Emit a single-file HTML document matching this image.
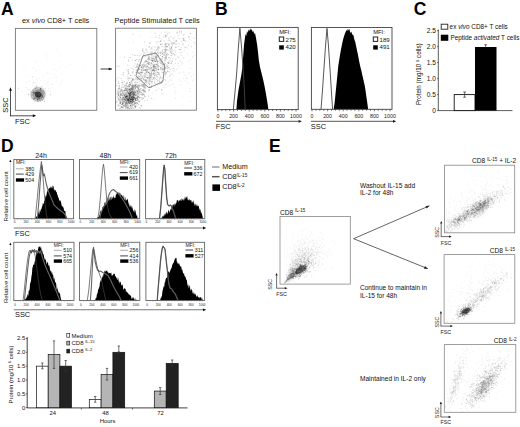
<!DOCTYPE html><html><head><meta charset="utf-8"><title>Figure</title><style>html,body{margin:0;padding:0;background:#fff;width:520px;height:427px;overflow:hidden}text{font-family:"Liberation Sans", sans-serif}</style></head><body><svg width="520" height="427" viewBox="0 0 520 427" style="display:block;font-family:'Liberation Sans', sans-serif"><defs><filter id="bl5" x="-50%" y="-50%" width="200%" height="200%"><feGaussianBlur stdDeviation="0.5"/></filter><filter id="bl8" x="-50%" y="-50%" width="200%" height="200%"><feGaussianBlur stdDeviation="0.8"/></filter><filter id="bl10" x="-50%" y="-50%" width="200%" height="200%"><feGaussianBlur stdDeviation="1.0"/></filter><filter id="bl12" x="-50%" y="-50%" width="200%" height="200%"><feGaussianBlur stdDeviation="1.2"/></filter><filter id="bl15" x="-50%" y="-50%" width="200%" height="200%"><feGaussianBlur stdDeviation="1.5"/></filter><filter id="bl20" x="-50%" y="-50%" width="200%" height="200%"><feGaussianBlur stdDeviation="2.0"/></filter><filter id="bl30" x="-50%" y="-50%" width="200%" height="200%"><feGaussianBlur stdDeviation="3.0"/></filter></defs><rect width="520" height="427" fill="#fff"/><text x="1.0" y="14.8" font-size="17.5" text-anchor="start" font-weight="bold" fill="#000" >A</text>
<text x="215.0" y="14.6" font-size="17.5" text-anchor="start" font-weight="bold" fill="#000" >B</text>
<text x="413.7" y="14.7" font-size="17.5" text-anchor="start" font-weight="bold" fill="#000" >C</text>
<text x="1.1" y="152.0" font-size="17.5" text-anchor="start" font-weight="bold" fill="#000" >D</text>
<text x="269.0" y="152.0" font-size="17.5" text-anchor="start" font-weight="bold" fill="#000" >E</text>
<text x="22" y="23.4" font-size="7.4" text-anchor="start" font-weight="normal" fill="#111" >ex <tspan font-style="italic">vivo</tspan> CD8+ T cells</text>
<text x="114.5" y="23.4" font-size="7.4" text-anchor="start" font-weight="normal" fill="#111" >Peptide Stimulated T cells</text>
<g stroke="#000" stroke-opacity="0.08" stroke-width="0.7" stroke-linecap="square" fill="none"><path d="M26.6 76.0h.01M59.9 61.8h.01M25.1 69.0h.01M52.2 87.6h.01M26.8 49.3h.01M55.6 77.6h.01M68.0 85.7h.01M43.5 65.6h.01"/><path d="M83.6 65.4h.01M33.2 51.8h.01M46.4 72.3h.01M39.8 69.0h.01M49.1 81.1h.01M61.5 73.4h.01M18.2 81.2h.01M23.7 67.3h.01"/><path d="M22.9 70.0h.01M33.3 73.4h.01M94.5 69.2h.01M57.6 48.8h.01M40.7 80.6h.01M43.6 75.9h.01M46.5 53.9h.01M53.5 57.0h.01"/><path d="M73.1 61.9h.01M55.3 70.0h.01M59.3 60.4h.01M60.0 68.0h.01M63.9 80.0h.01M47.1 57.5h.01M56.5 77.5h.01M69.6 64.0h.01"/><path d="M53.3 78.1h.01M49.2 73.3h.01M47.7 60.4h.01M29.8 63.7h.01M53.9 94.2h.01M59.7 86.9h.01M56.7 81.2h.01M47.8 82.3h.01"/><path d="M71.6 64.8h.01M34.6 101.4h.01M48.7 85.5h.01M58.1 51.8h.01M81.5 98.4h.01M47.7 82.0h.01M46.9 55.9h.01M43.3 76.0h.01"/><path d="M61.7 81.3h.01M45.9 91.7h.01M33.6 82.7h.01M61.7 65.3h.01M18.1 55.5h.01M48.6 78.4h.01M68.2 53.9h.01M45.0 80.4h.01"/><path d="M42.6 32.1h.01M57.1 107.0h.01M60.1 55.3h.01M38.8 73.5h.01M82.3 79.9h.01M46.7 94.9h.01M43.8 99.8h.01M34.7 62.4h.01"/><path d="M55.8 92.8h.01M54.8 74.8h.01M17.7 58.6h.01M35.8 61.5h.01M53.8 64.6h.01M56.8 71.3h.01M40.0 71.9h.01M51.4 83.7h.01"/><path d="M37.8 66.3h.01M24.5 95.7h.01M66.8 67.1h.01M37.8 50.2h.01M47.5 73.3h.01M77.7 73.9h.01M33.3 30.9h.01M66.1 73.0h.01"/></g>
<g stroke="#000" stroke-opacity="0.15" stroke-width="0.7" stroke-linecap="square" fill="none"><path d="M25.9 87.6h.01M34.1 82.6h.01M42.8 86.5h.01M34.1 98.6h.01M32.5 77.2h.01M26.4 82.3h.01M40.6 92.0h.01M44.0 99.0h.01"/><path d="M48.1 90.7h.01M45.5 90.8h.01M32.3 92.1h.01M36.7 84.9h.01M50.4 91.8h.01M32.9 85.8h.01M52.9 84.6h.01M41.6 90.8h.01"/><path d="M40.0 90.5h.01M33.0 83.1h.01M35.3 83.9h.01M42.1 97.3h.01M30.1 90.3h.01M29.4 81.5h.01M34.7 87.2h.01M33.3 67.9h.01"/><path d="M46.2 84.5h.01M31.9 91.2h.01M32.2 76.3h.01M39.9 89.4h.01M30.5 92.3h.01M39.0 78.3h.01M48.8 88.3h.01M28.3 89.6h.01"/><path d="M37.3 93.3h.01M26.8 93.8h.01M43.1 91.3h.01M40.7 95.7h.01M41.5 87.3h.01M30.4 94.3h.01M43.4 88.5h.01M37.5 91.5h.01"/><path d="M18.5 88.6h.01M18.6 88.1h.01M43.9 99.8h.01M33.0 89.4h.01M35.9 70.6h.01M41.5 86.2h.01M36.8 79.7h.01M36.0 86.9h.01"/><path d="M45.4 88.4h.01M61.1 83.4h.01"/></g>
<ellipse cx="38.1" cy="94.4" rx="6.6" ry="6.4" transform="rotate(0 38.1 94.4)" fill="#000" fill-opacity="0.32" filter="url(#bl10)"/>
<ellipse cx="38.1" cy="94.6" rx="3.2" ry="3.0" transform="rotate(0 38.1 94.6)" fill="#000" fill-opacity="0.6" filter="url(#bl9)"/>
<ellipse cx="38.1" cy="94.4" rx="7.0" ry="6.8" fill="none" stroke="#000" stroke-width="0.5" stroke-opacity="0.35"/>
<ellipse cx="38.1" cy="94.6" rx="4.8" ry="4.5" fill="none" stroke="#000" stroke-width="0.5" stroke-opacity="0.35"/>
<g stroke="#000" stroke-opacity="0.4" stroke-width="0.7" stroke-linecap="square" fill="none"><path d="M37.8 99.7h.01M35.3 88.4h.01M39.1 96.8h.01M39.6 96.4h.01M37.9 92.7h.01M35.7 94.0h.01M37.0 98.0h.01M40.7 90.5h.01"/><path d="M41.0 94.7h.01M42.5 100.0h.01M40.5 88.8h.01M40.8 89.5h.01M44.2 92.6h.01M37.8 101.1h.01M32.1 95.0h.01M34.6 93.1h.01"/><path d="M35.6 97.2h.01M37.4 96.1h.01M40.8 89.0h.01M43.6 94.0h.01M32.5 92.6h.01M41.7 98.3h.01M36.0 95.2h.01M39.4 98.5h.01"/><path d="M38.0 98.3h.01M35.3 92.4h.01M40.9 97.4h.01M38.3 97.0h.01M39.3 97.6h.01M42.8 96.7h.01M41.5 93.5h.01M36.5 86.7h.01"/><path d="M40.0 95.0h.01M40.5 88.4h.01M36.7 93.0h.01M31.9 98.0h.01M43.0 90.5h.01M40.2 100.9h.01M34.1 98.3h.01M44.4 101.4h.01"/><path d="M33.5 91.2h.01M39.3 99.1h.01M33.9 92.3h.01M34.4 98.7h.01M36.5 96.9h.01M40.9 98.9h.01M40.1 96.1h.01M42.8 96.6h.01"/><path d="M33.9 93.0h.01M41.9 95.4h.01M37.2 95.8h.01M50.7 94.7h.01M40.3 96.5h.01M37.5 99.1h.01M41.7 96.3h.01M33.5 99.3h.01"/><path d="M41.3 94.6h.01M28.6 94.7h.01M34.0 94.1h.01M36.6 92.0h.01M42.3 95.3h.01M43.1 91.5h.01M37.8 99.7h.01M39.7 92.4h.01"/><path d="M35.2 92.8h.01M38.2 97.3h.01M39.1 97.5h.01M41.6 95.3h.01M43.3 97.5h.01M37.8 94.3h.01"/></g>
<g stroke="#000" stroke-opacity="0.28" stroke-width="0.7" stroke-linecap="square" fill="none"><path d="M172.1 61.0h.01M131.4 81.0h.01M167.8 71.6h.01M150.1 55.1h.01M137.2 85.1h.01M166.8 50.1h.01M143.1 75.7h.01M148.8 62.1h.01"/><path d="M152.5 70.9h.01M178.2 35.9h.01M160.5 44.4h.01M166.3 52.9h.01M141.5 80.3h.01M164.0 49.5h.01M177.9 56.8h.01M188.6 45.2h.01"/><path d="M131.4 97.2h.01M145.3 88.4h.01M153.5 69.2h.01M154.9 56.9h.01M147.8 63.7h.01M139.8 59.7h.01M120.4 95.0h.01M169.3 57.4h.01"/><path d="M151.5 60.3h.01M139.5 89.5h.01M135.7 91.1h.01M166.9 49.3h.01M158.0 61.4h.01M119.1 66.2h.01M130.1 94.3h.01M119.3 99.9h.01"/><path d="M163.0 72.4h.01M124.2 94.5h.01M158.1 67.7h.01M139.3 107.6h.01M143.9 92.0h.01M150.0 75.8h.01M183.8 39.2h.01M146.6 61.4h.01"/><path d="M130.5 75.2h.01M170.3 41.3h.01M159.8 47.9h.01M144.2 84.0h.01M154.6 58.9h.01M183.3 40.1h.01M145.6 60.3h.01M151.1 64.9h.01"/><path d="M154.7 75.4h.01M142.7 82.7h.01M166.7 55.0h.01M142.0 64.4h.01M165.9 84.5h.01M120.8 101.7h.01M162.5 56.6h.01M156.3 42.3h.01"/><path d="M161.2 44.3h.01M133.5 97.7h.01M154.1 55.8h.01M135.3 85.3h.01M149.4 68.9h.01M118.2 77.9h.01M174.2 43.5h.01M119.1 86.7h.01"/><path d="M136.0 81.7h.01M155.7 59.2h.01M158.0 63.7h.01M169.7 48.7h.01M182.2 52.1h.01M142.1 73.7h.01M133.8 86.7h.01M138.0 84.7h.01"/><path d="M159.1 66.3h.01M137.6 99.4h.01M144.3 75.5h.01M128.6 69.5h.01M143.2 54.9h.01M169.6 47.2h.01M181.4 41.1h.01M171.5 62.9h.01"/><path d="M159.6 79.0h.01M149.8 73.8h.01M142.2 86.7h.01M158.5 53.3h.01M128.0 96.0h.01M156.5 60.3h.01M128.8 86.0h.01M128.6 61.1h.01"/><path d="M149.5 89.7h.01M126.8 95.1h.01M183.9 38.8h.01M165.1 50.0h.01M157.0 64.9h.01M183.7 40.3h.01M144.1 62.7h.01M146.6 72.2h.01"/><path d="M132.9 79.1h.01M132.2 89.9h.01M142.6 84.3h.01M169.7 50.7h.01M160.7 77.9h.01M151.8 48.4h.01M139.1 85.7h.01M140.0 92.2h.01"/><path d="M170.8 52.8h.01M123.1 103.4h.01M166.0 36.1h.01M121.8 87.9h.01M121.9 80.8h.01M132.4 72.1h.01M165.7 80.8h.01M137.9 96.5h.01"/><path d="M155.2 33.3h.01M151.9 67.6h.01M149.5 81.2h.01M144.8 80.9h.01M142.5 77.2h.01M151.4 98.5h.01M141.8 65.1h.01M193.9 38.2h.01"/><path d="M142.4 70.5h.01M145.4 91.9h.01M139.8 72.9h.01M162.8 51.1h.01M161.7 81.6h.01M173.0 58.9h.01M165.6 68.3h.01M153.4 78.7h.01"/><path d="M165.4 46.1h.01M131.4 99.4h.01M151.9 75.8h.01M143.1 85.3h.01M182.0 62.9h.01M183.3 35.2h.01M170.7 36.9h.01M171.2 46.5h.01"/><path d="M175.1 44.3h.01M141.5 70.9h.01M172.0 44.3h.01M165.5 57.8h.01M146.2 79.8h.01M146.6 50.2h.01M144.2 76.2h.01M162.8 67.1h.01"/><path d="M136.8 82.8h.01M148.9 47.2h.01M173.6 43.6h.01M189.2 36.7h.01M138.4 61.5h.01M154.4 69.0h.01M151.2 51.9h.01M130.7 82.8h.01"/><path d="M149.2 59.5h.01M154.1 77.4h.01M151.5 86.0h.01M153.5 62.5h.01M172.1 50.1h.01M141.3 72.7h.01M151.5 72.8h.01M171.4 47.9h.01"/><path d="M130.8 75.5h.01M157.0 66.8h.01M166.1 43.8h.01M133.2 101.2h.01M139.2 66.9h.01M184.3 40.6h.01M153.0 70.2h.01M143.7 90.7h.01"/><path d="M139.7 76.5h.01M137.6 69.9h.01M178.6 57.8h.01M149.8 43.1h.01M140.7 72.8h.01M142.6 50.7h.01M165.7 48.7h.01M149.8 68.4h.01"/><path d="M143.0 93.1h.01M120.5 91.5h.01M140.7 74.9h.01M166.0 43.8h.01M155.7 57.1h.01M171.9 43.5h.01M144.0 55.7h.01M158.0 52.0h.01"/><path d="M168.6 54.4h.01M166.7 64.8h.01M150.8 57.5h.01M153.9 67.6h.01M133.8 97.5h.01M176.8 41.0h.01M155.0 70.1h.01M165.4 44.4h.01"/><path d="M161.6 46.3h.01M162.6 61.8h.01M132.3 100.0h.01M143.0 56.5h.01M138.2 75.9h.01M137.5 90.6h.01M136.8 86.5h.01M129.7 90.9h.01"/><path d="M184.1 34.6h.01M117.3 96.9h.01M137.1 64.1h.01M166.5 49.6h.01M149.2 71.7h.01M130.9 77.9h.01M158.5 68.8h.01M135.0 63.9h.01"/><path d="M144.5 77.1h.01M136.7 104.0h.01M130.8 93.1h.01M137.2 97.3h.01M122.5 91.1h.01M160.9 40.3h.01M144.2 84.1h.01M144.7 53.2h.01"/><path d="M158.5 56.0h.01M159.7 35.5h.01M165.7 56.4h.01M140.8 75.5h.01M152.1 58.3h.01M139.0 73.0h.01M156.7 70.8h.01M122.8 102.9h.01"/><path d="M165.0 71.8h.01M145.4 92.1h.01M145.5 81.8h.01M155.5 66.9h.01M137.7 71.8h.01M184.9 47.3h.01M146.9 71.5h.01M137.7 67.2h.01"/><path d="M133.6 95.2h.01M164.8 49.3h.01M126.9 83.5h.01M143.9 86.5h.01M141.5 61.3h.01M132.1 95.7h.01M166.4 73.4h.01M175.8 41.4h.01"/><path d="M139.5 85.2h.01M126.0 89.7h.01M171.1 52.7h.01M175.8 59.5h.01M148.0 82.9h.01M153.2 70.3h.01M157.3 68.3h.01M117.3 91.2h.01"/><path d="M154.7 70.8h.01M140.9 79.5h.01M132.0 104.2h.01M167.5 68.7h.01M142.3 77.9h.01M159.9 76.0h.01M162.1 60.6h.01M123.5 99.3h.01"/><path d="M165.0 52.7h.01M147.3 100.0h.01M140.0 100.2h.01M171.5 47.6h.01M166.0 36.4h.01M138.4 79.9h.01M155.1 61.4h.01M176.7 32.9h.01"/><path d="M138.1 68.3h.01M163.2 64.5h.01M128.8 78.8h.01M133.7 104.9h.01M165.2 55.4h.01M166.0 57.1h.01M147.2 52.0h.01M163.3 63.2h.01"/><path d="M175.6 51.9h.01M139.9 85.5h.01M135.0 107.0h.01M130.9 102.1h.01M131.1 81.9h.01M132.4 86.7h.01M163.7 68.3h.01M150.3 80.8h.01"/><path d="M178.2 63.3h.01M141.7 84.0h.01M162.7 56.6h.01M156.3 53.6h.01M139.7 74.1h.01M133.2 78.4h.01M140.2 65.5h.01M143.8 85.0h.01"/><path d="M135.9 72.7h.01M144.9 100.8h.01M152.5 60.9h.01M127.1 76.9h.01M156.0 55.9h.01M165.3 51.4h.01M164.3 64.4h.01M136.6 78.6h.01"/><path d="M158.3 83.6h.01M121.3 90.2h.01M145.9 48.9h.01M167.7 33.4h.01M169.1 45.0h.01M136.3 71.2h.01M172.9 38.8h.01M130.9 101.2h.01"/><path d="M150.8 75.8h.01M145.2 80.4h.01M157.7 60.9h.01M125.0 106.4h.01M176.3 44.2h.01M170.8 55.2h.01M151.5 82.1h.01M139.2 69.6h.01"/><path d="M134.9 101.6h.01M166.0 59.0h.01M128.4 71.9h.01M162.6 53.6h.01M135.4 79.3h.01M128.0 71.9h.01M165.0 61.1h.01M162.5 50.2h.01"/><path d="M119.6 88.4h.01M155.8 85.9h.01M165.9 51.2h.01M163.2 64.8h.01M152.3 70.1h.01M149.7 62.6h.01M126.6 90.6h.01M159.3 37.9h.01"/><path d="M139.7 76.8h.01M147.6 66.9h.01M160.9 51.9h.01M154.4 74.1h.01M132.7 105.0h.01M159.0 41.8h.01M143.5 68.0h.01M148.6 81.8h.01"/><path d="M157.2 61.3h.01M126.7 102.9h.01M148.3 63.7h.01M178.8 46.1h.01M168.0 62.9h.01M180.8 49.5h.01M147.6 69.5h.01M149.9 77.0h.01"/><path d="M127.0 83.5h.01M166.7 46.9h.01M132.5 85.3h.01M132.2 83.0h.01M127.2 105.5h.01M160.7 67.4h.01M146.4 64.9h.01M190.6 33.5h.01"/><path d="M165.2 63.2h.01M149.5 80.2h.01M143.6 90.9h.01M171.3 55.4h.01M157.5 62.7h.01M158.4 69.3h.01M146.7 83.2h.01M155.0 47.4h.01"/><path d="M122.6 106.7h.01M138.9 72.7h.01M121.5 89.6h.01M119.4 101.9h.01M157.4 80.8h.01M169.8 43.9h.01M154.7 61.0h.01M142.7 68.5h.01"/><path d="M143.2 64.2h.01M136.2 84.4h.01M161.5 82.7h.01M127.7 82.1h.01M164.4 60.1h.01M160.5 55.6h.01M121.7 99.2h.01M127.5 95.9h.01"/><path d="M177.5 32.7h.01M158.4 74.0h.01M131.8 101.5h.01M139.4 73.6h.01M137.0 72.4h.01M164.8 53.3h.01M144.8 82.3h.01M168.3 40.2h.01"/><path d="M156.6 50.0h.01M167.5 53.6h.01M143.1 86.9h.01M145.7 77.2h.01M116.6 80.1h.01M155.3 72.2h.01M144.4 97.1h.01M165.5 74.0h.01"/><path d="M168.6 63.5h.01M135.7 67.6h.01M155.3 51.2h.01M158.0 46.5h.01M164.2 64.6h.01M151.7 54.6h.01M161.1 58.8h.01M166.9 65.9h.01"/><path d="M132.8 79.3h.01M143.9 93.8h.01M163.4 69.3h.01M156.5 68.1h.01M148.3 77.6h.01M138.0 97.5h.01M117.1 102.3h.01M143.2 78.9h.01"/><path d="M141.0 67.5h.01M132.7 54.7h.01M136.3 84.9h.01M143.2 90.3h.01M149.4 76.3h.01M135.4 99.1h.01M151.7 47.4h.01M165.4 35.7h.01"/><path d="M133.9 99.5h.01M182.8 38.5h.01M141.5 70.1h.01M137.3 87.0h.01M148.5 58.4h.01M143.0 48.8h.01M146.6 61.3h.01M140.3 108.5h.01"/><path d="M156.9 56.9h.01M139.0 101.0h.01M145.2 64.9h.01M164.5 58.3h.01M118.4 83.0h.01M166.0 45.9h.01M144.7 42.0h.01M148.2 80.6h.01"/><path d="M159.6 81.7h.01M170.2 58.6h.01M158.6 55.9h.01M129.5 82.8h.01M168.6 44.3h.01M146.5 66.8h.01M149.6 57.9h.01M132.4 91.7h.01"/><path d="M157.2 71.9h.01M156.7 69.7h.01M147.2 69.1h.01M125.9 88.5h.01M139.6 65.4h.01M160.3 52.9h.01M173.8 51.1h.01M163.1 93.6h.01"/><path d="M168.5 38.2h.01M152.3 58.7h.01M133.7 90.8h.01M145.8 85.7h.01M126.4 101.0h.01M172.5 45.6h.01M194.0 42.4h.01M125.4 93.9h.01"/><path d="M148.6 90.7h.01M126.7 69.7h.01M135.5 82.3h.01M144.6 73.3h.01M143.9 66.0h.01M144.8 69.3h.01M139.1 78.4h.01M164.3 55.2h.01"/><path d="M154.7 53.7h.01M118.1 104.9h.01M162.6 53.5h.01M128.9 73.5h.01M148.5 60.0h.01M122.0 107.4h.01M157.4 76.4h.01M118.0 89.2h.01"/><path d="M160.7 76.8h.01M155.8 70.6h.01M126.6 100.8h.01M167.8 62.7h.01M137.4 86.5h.01M156.6 58.5h.01M151.5 72.0h.01M126.8 82.6h.01"/><path d="M171.0 74.4h.01M139.0 76.5h.01M148.5 96.2h.01M165.3 60.6h.01M151.0 81.3h.01M170.1 69.5h.01M175.2 63.3h.01M145.1 89.9h.01"/><path d="M156.1 55.3h.01M124.2 97.6h.01M131.3 86.1h.01M136.4 77.2h.01M152.0 69.0h.01M127.0 87.0h.01M149.5 63.3h.01M134.8 75.3h.01"/><path d="M130.8 91.3h.01M141.1 74.7h.01M158.9 47.8h.01M171.1 48.7h.01M140.1 86.5h.01M160.9 52.6h.01M163.5 54.9h.01M126.4 102.0h.01"/><path d="M166.6 54.9h.01M141.8 67.7h.01M171.5 62.9h.01M129.4 102.7h.01M119.7 108.7h.01M151.0 49.2h.01M126.9 98.8h.01M146.9 77.4h.01"/><path d="M165.6 35.3h.01M140.8 54.9h.01M167.8 54.9h.01M118.2 105.1h.01M138.8 97.7h.01M148.3 54.8h.01M176.3 41.0h.01M164.7 52.4h.01"/><path d="M179.4 49.6h.01M172.6 61.3h.01M162.5 58.9h.01M122.7 74.3h.01M175.4 47.5h.01M136.2 97.7h.01M153.4 67.1h.01M188.6 37.0h.01"/><path d="M126.8 99.0h.01M175.0 55.0h.01M156.8 56.7h.01M144.0 51.9h.01M171.9 42.9h.01M135.5 77.7h.01M147.3 61.9h.01M126.3 85.4h.01"/><path d="M179.6 32.9h.01M161.2 61.3h.01M144.3 87.3h.01M142.3 69.2h.01M129.7 89.0h.01M150.4 87.5h.01M185.6 47.9h.01M132.0 80.4h.01"/><path d="M176.4 47.3h.01M149.5 58.9h.01M137.2 69.4h.01M185.8 41.1h.01M149.4 84.8h.01M139.2 55.9h.01M155.1 53.8h.01M152.6 60.6h.01"/><path d="M130.3 89.1h.01M160.6 41.4h.01M122.9 82.1h.01M145.0 87.8h.01M166.5 57.7h.01M168.8 67.9h.01M186.9 47.1h.01M130.6 84.7h.01"/><path d="M168.6 57.5h.01M139.7 79.5h.01M165.3 49.8h.01M139.2 87.4h.01M144.0 84.8h.01M152.1 63.5h.01M141.2 94.0h.01M135.6 88.8h.01"/><path d="M144.1 77.6h.01M150.0 83.3h.01M145.0 62.0h.01M133.1 100.1h.01M154.5 81.2h.01M166.7 67.3h.01M123.3 97.4h.01M163.5 37.1h.01"/><path d="M162.2 54.6h.01M165.9 46.7h.01M142.6 89.7h.01M149.8 59.7h.01M161.6 62.2h.01M128.4 77.7h.01M151.6 68.6h.01M165.5 51.0h.01"/><path d="M170.6 49.2h.01M182.9 44.6h.01M125.0 96.7h.01M156.5 59.2h.01M167.8 71.4h.01M131.1 83.8h.01M142.3 93.8h.01M153.9 67.6h.01"/><path d="M151.9 58.9h.01M129.7 92.3h.01M167.3 46.9h.01M161.0 63.5h.01M169.3 32.9h.01M191.3 46.7h.01M138.3 99.5h.01M145.9 75.2h.01"/><path d="M129.1 108.3h.01M136.6 90.2h.01M145.8 82.5h.01M119.1 94.8h.01M162.8 66.2h.01M132.0 85.3h.01M174.4 54.8h.01M163.5 52.4h.01"/><path d="M153.9 77.1h.01M161.8 63.7h.01M157.9 54.1h.01M127.2 79.0h.01M154.1 65.1h.01M137.6 55.2h.01M136.5 72.2h.01M171.8 53.5h.01"/><path d="M165.5 58.9h.01M172.0 47.1h.01M137.2 87.5h.01M153.5 70.6h.01M159.5 59.9h.01M154.3 64.5h.01M139.0 68.9h.01M134.5 82.6h.01"/><path d="M179.7 31.4h.01M138.7 91.5h.01M156.9 57.9h.01M160.4 44.4h.01M127.2 90.6h.01M142.1 76.3h.01M156.2 75.0h.01M154.0 70.7h.01"/><path d="M139.2 69.5h.01M142.5 65.7h.01M160.3 54.0h.01M131.4 91.2h.01M149.0 64.4h.01M129.7 90.2h.01M137.7 77.9h.01M167.0 46.6h.01"/><path d="M171.4 51.9h.01M150.7 69.0h.01M139.2 59.9h.01M173.5 53.8h.01M157.1 66.3h.01M134.9 86.7h.01M131.8 78.1h.01M169.6 76.1h.01"/><path d="M181.5 33.1h.01M156.3 90.3h.01M130.5 84.2h.01M169.8 71.8h.01M164.3 40.8h.01M145.1 91.2h.01M142.5 99.3h.01M165.7 37.2h.01"/><path d="M160.2 69.3h.01M166.4 56.4h.01M162.6 64.2h.01M149.2 64.5h.01M146.9 64.0h.01M152.2 81.6h.01M157.6 61.6h.01M150.4 67.0h.01"/><path d="M156.1 57.4h.01M168.2 45.9h.01M117.1 94.2h.01M151.9 55.4h.01M123.3 107.8h.01M155.0 75.3h.01M164.8 32.3h.01M152.1 56.7h.01"/><path d="M148.1 77.5h.01M150.9 65.3h.01M152.9 69.2h.01M164.0 57.5h.01M157.0 82.1h.01M146.5 80.6h.01M123.6 75.0h.01M155.2 67.9h.01"/><path d="M160.1 60.6h.01M123.4 84.1h.01M145.6 76.5h.01M141.5 78.2h.01M156.3 64.5h.01M156.3 60.1h.01M161.4 68.9h.01M147.9 56.0h.01"/><path d="M165.0 67.5h.01M181.5 31.4h.01M153.3 65.3h.01M171.8 49.4h.01M152.2 83.5h.01M158.3 50.3h.01M147.2 65.7h.01M127.4 104.4h.01"/><path d="M140.0 83.7h.01M155.5 53.7h.01M159.9 52.2h.01M151.2 62.5h.01M132.7 80.9h.01M151.2 60.1h.01M175.0 49.8h.01M155.8 66.6h.01"/><path d="M157.8 85.0h.01M159.8 61.7h.01M158.8 66.8h.01M145.3 69.8h.01M160.4 62.2h.01M132.3 85.1h.01M152.3 60.8h.01M167.3 35.1h.01"/><path d="M139.7 95.2h.01M143.1 72.2h.01M164.0 47.2h.01M164.2 54.3h.01M179.8 38.5h.01M165.6 72.0h.01M117.4 66.2h.01M163.7 66.0h.01"/><path d="M147.6 58.9h.01M170.4 63.3h.01M148.4 58.1h.01M145.6 80.1h.01M129.5 108.8h.01M143.5 89.6h.01M142.7 49.9h.01M154.5 53.1h.01"/><path d="M142.3 81.3h.01M160.8 67.8h.01M170.3 51.5h.01M118.6 81.7h.01M162.4 68.7h.01M145.5 70.4h.01M124.2 92.9h.01M162.2 56.8h.01"/><path d="M148.4 64.2h.01M133.1 79.7h.01M151.9 52.4h.01M166.0 57.9h.01M161.6 53.2h.01M137.9 79.8h.01M137.2 65.3h.01M162.3 43.9h.01"/><path d="M181.1 47.8h.01M134.1 87.6h.01M132.1 97.4h.01M133.5 72.0h.01M157.7 48.2h.01M172.0 68.9h.01M143.8 69.8h.01M140.6 78.1h.01"/><path d="M160.7 41.1h.01M168.2 67.5h.01M158.4 46.8h.01M167.8 43.4h.01M176.0 40.3h.01M155.9 37.1h.01M135.8 55.4h.01M149.4 56.5h.01"/><path d="M161.2 59.6h.01M150.0 43.0h.01M146.1 60.3h.01M145.8 73.9h.01M164.9 63.4h.01M166.2 54.4h.01M139.4 81.8h.01M155.7 68.2h.01"/><path d="M127.8 103.4h.01M131.9 68.3h.01M148.4 56.9h.01M161.2 58.9h.01M153.1 78.2h.01M129.0 86.1h.01M151.3 76.2h.01M124.5 57.1h.01"/><path d="M143.7 70.6h.01M128.5 73.4h.01M124.0 96.8h.01M157.1 49.9h.01M143.3 70.2h.01M154.3 50.0h.01M167.3 66.6h.01M152.2 54.5h.01"/><path d="M149.1 90.4h.01M149.7 84.6h.01M145.7 80.3h.01M134.8 85.1h.01M157.2 69.5h.01M178.9 43.5h.01M151.7 77.0h.01M134.5 55.3h.01"/><path d="M165.9 44.1h.01M166.5 72.4h.01M153.8 70.4h.01M137.7 100.2h.01M133.1 80.2h.01M160.3 63.4h.01M129.2 85.8h.01M119.7 100.6h.01"/><path d="M164.5 44.8h.01M142.9 90.7h.01M154.1 73.4h.01M139.6 68.4h.01M168.0 50.2h.01M149.4 74.9h.01M174.9 42.7h.01M149.5 46.8h.01"/><path d="M137.2 79.9h.01M137.2 77.3h.01M157.7 72.6h.01M157.9 65.3h.01M157.0 61.1h.01M174.3 37.2h.01M146.4 67.9h.01M141.1 72.6h.01"/><path d="M130.7 92.5h.01M154.7 60.8h.01M173.3 42.9h.01M123.8 98.4h.01"/></g>
<g stroke="#000" stroke-opacity="0.38" stroke-width="0.7" stroke-linecap="square" fill="none"><path d="M132.8 93.1h.01M149.4 79.1h.01M133.9 97.0h.01M125.4 96.7h.01M131.5 91.9h.01M133.9 91.2h.01M116.8 101.7h.01M118.2 94.0h.01"/><path d="M129.3 95.9h.01M131.6 88.0h.01M132.5 99.9h.01M130.0 88.6h.01M135.4 85.6h.01M135.3 88.7h.01M123.5 94.3h.01M141.0 106.0h.01"/><path d="M134.8 105.8h.01M135.5 87.6h.01M142.4 95.3h.01M127.2 96.2h.01M137.8 91.5h.01M142.9 86.1h.01M125.4 102.8h.01M128.8 106.0h.01"/><path d="M132.5 91.0h.01M130.8 104.8h.01M134.7 103.2h.01M125.2 101.0h.01M123.9 95.7h.01M151.3 87.3h.01M131.6 103.0h.01M134.6 89.1h.01"/><path d="M130.5 99.4h.01M131.6 92.6h.01M125.9 100.3h.01M132.5 101.8h.01M132.5 96.9h.01M121.5 104.5h.01M126.9 96.8h.01M129.2 96.0h.01"/><path d="M128.1 108.6h.01M133.1 89.4h.01M129.9 89.5h.01M124.3 102.8h.01M138.0 87.3h.01M125.0 106.0h.01M125.3 97.0h.01M125.1 88.0h.01"/><path d="M136.8 90.7h.01M125.4 97.4h.01M140.0 97.3h.01M129.1 101.5h.01M145.2 85.3h.01M131.3 99.5h.01M134.9 98.3h.01M130.9 92.6h.01"/><path d="M132.6 98.5h.01M128.5 100.6h.01M132.6 106.1h.01M134.9 84.4h.01M136.2 92.2h.01M130.8 94.9h.01M137.2 98.6h.01M130.2 107.1h.01"/><path d="M125.4 93.8h.01M134.1 99.0h.01M132.4 98.0h.01M127.5 96.3h.01M132.1 87.3h.01M137.7 92.0h.01M129.2 97.1h.01M130.0 97.9h.01"/><path d="M130.7 96.1h.01M130.3 92.2h.01M128.1 99.0h.01M133.2 108.3h.01M130.7 95.8h.01M130.5 105.6h.01M141.4 97.8h.01M132.1 88.4h.01"/><path d="M131.6 108.5h.01M127.9 99.8h.01M133.0 99.1h.01M129.5 89.5h.01M120.9 93.6h.01M133.4 92.7h.01M127.2 92.6h.01M127.0 96.6h.01"/><path d="M132.9 96.6h.01M130.7 101.1h.01M138.7 96.2h.01M130.7 88.1h.01M122.2 104.5h.01M143.2 84.7h.01M120.8 94.4h.01M130.2 94.0h.01"/><path d="M134.6 94.3h.01M120.1 108.9h.01M132.5 89.9h.01M120.9 98.8h.01M135.3 86.4h.01M133.1 85.0h.01M125.7 96.7h.01M133.4 99.8h.01"/><path d="M144.0 87.9h.01M131.6 97.6h.01M132.0 99.0h.01M128.5 102.1h.01M137.6 97.3h.01M129.4 102.5h.01M129.2 91.9h.01M119.9 105.3h.01"/><path d="M134.2 90.6h.01M144.2 85.9h.01M127.6 100.0h.01M135.5 95.6h.01M132.2 99.4h.01M148.9 83.4h.01M130.1 93.8h.01M123.9 106.9h.01"/><path d="M129.3 98.5h.01M132.2 102.2h.01M133.2 88.0h.01M126.4 105.1h.01M139.4 90.3h.01M127.5 88.7h.01M131.3 101.5h.01M133.0 94.4h.01"/><path d="M137.6 96.4h.01M128.6 93.4h.01M125.8 104.9h.01M129.7 96.7h.01M133.5 88.0h.01M132.9 100.3h.01M118.0 93.6h.01M132.3 102.4h.01"/><path d="M127.5 98.9h.01M120.5 103.6h.01M138.8 104.4h.01M128.7 93.3h.01M123.1 103.5h.01M123.0 100.9h.01M136.7 100.5h.01M132.1 107.4h.01"/><path d="M126.7 98.7h.01M130.1 99.9h.01M129.6 95.6h.01M125.7 98.3h.01M129.2 94.2h.01M121.9 95.1h.01M133.5 98.0h.01M130.9 105.6h.01"/><path d="M131.5 97.0h.01M126.2 107.9h.01M145.2 96.5h.01M128.2 99.6h.01M136.9 94.3h.01M128.6 100.1h.01M138.1 93.1h.01M135.5 100.5h.01"/><path d="M126.4 106.1h.01M126.7 98.7h.01M142.3 98.2h.01M133.9 94.4h.01M142.0 90.2h.01M118.7 106.3h.01M125.4 97.6h.01M127.3 106.8h.01"/><path d="M139.5 101.7h.01M130.6 98.4h.01M132.3 104.1h.01M144.2 95.5h.01M133.5 88.9h.01M133.0 86.7h.01M127.9 99.1h.01M137.9 82.6h.01"/><path d="M128.0 102.6h.01M139.2 92.0h.01M130.4 90.5h.01M135.2 103.0h.01M129.3 93.5h.01M135.6 103.0h.01M141.0 88.6h.01M134.9 106.7h.01"/><path d="M129.1 100.2h.01M133.4 94.1h.01M137.6 103.0h.01M127.0 89.6h.01M134.5 104.2h.01M126.5 93.7h.01M137.7 93.2h.01M134.2 98.1h.01"/><path d="M130.7 99.0h.01M131.9 91.3h.01M132.8 86.0h.01M141.2 85.5h.01M128.2 90.1h.01M131.6 89.2h.01M133.9 93.8h.01M135.5 106.9h.01"/><path d="M130.2 93.7h.01M131.4 99.4h.01M135.5 99.1h.01M130.0 100.2h.01M126.5 96.5h.01M131.9 89.2h.01M127.2 107.3h.01M131.8 101.1h.01"/><path d="M136.1 95.3h.01M138.6 101.4h.01M131.9 106.0h.01M132.3 98.1h.01M133.5 101.6h.01M132.0 92.2h.01M134.0 97.7h.01M141.5 105.7h.01"/><path d="M132.7 91.9h.01M137.4 91.8h.01M128.1 97.9h.01M127.9 107.5h.01M138.2 88.0h.01M121.1 94.6h.01M126.4 102.8h.01M128.3 99.2h.01"/><path d="M127.4 100.2h.01M131.6 98.2h.01M133.0 96.5h.01M127.0 99.7h.01M124.3 101.1h.01M133.4 98.0h.01M121.9 100.2h.01M124.4 94.9h.01"/><path d="M129.7 97.2h.01M135.3 105.8h.01M130.9 99.5h.01M127.4 108.6h.01M134.0 95.4h.01M122.0 107.5h.01M130.4 101.3h.01M129.4 94.7h.01"/><path d="M134.8 103.1h.01M129.4 84.6h.01M132.3 100.9h.01M131.1 99.6h.01M137.1 103.7h.01M134.1 91.9h.01M140.6 91.1h.01M137.2 85.8h.01"/><path d="M128.3 107.1h.01M124.5 90.1h.01M128.6 93.2h.01M130.0 99.2h.01M130.7 108.1h.01M126.0 103.4h.01M129.6 94.6h.01M131.7 103.5h.01"/><path d="M124.4 104.9h.01M135.5 85.1h.01M122.7 102.8h.01M122.8 99.7h.01M130.0 103.2h.01M127.3 92.7h.01M133.1 86.1h.01M135.9 86.9h.01"/><path d="M125.4 99.7h.01M138.3 89.2h.01M124.3 90.8h.01M129.9 95.5h.01M126.4 95.6h.01M129.5 103.7h.01M134.5 94.0h.01M134.6 97.9h.01"/><path d="M129.4 98.0h.01M133.6 95.4h.01M118.6 88.7h.01M125.9 92.3h.01M141.8 94.6h.01M133.5 96.0h.01M121.5 106.7h.01M135.5 107.0h.01"/><path d="M121.9 90.2h.01M138.5 86.0h.01M137.6 98.4h.01M122.2 103.2h.01M137.2 100.2h.01M133.0 99.4h.01M125.7 107.7h.01M125.7 100.2h.01"/><path d="M135.6 99.0h.01M130.1 101.6h.01M132.6 100.3h.01M135.2 103.8h.01M122.4 98.3h.01M134.0 87.0h.01M137.3 95.4h.01M122.6 104.4h.01"/><path d="M128.7 98.5h.01M125.5 105.0h.01M127.6 91.5h.01M132.3 97.1h.01M123.4 105.3h.01M138.5 94.2h.01M123.2 99.6h.01M133.1 97.8h.01"/><path d="M135.3 92.4h.01M132.1 89.8h.01M138.7 86.0h.01M124.5 99.6h.01M120.0 103.4h.01M131.8 99.9h.01M132.5 87.4h.01M130.7 102.9h.01"/><path d="M138.9 93.6h.01M127.3 91.0h.01M122.1 93.9h.01M133.1 104.6h.01M136.8 87.1h.01M139.4 98.0h.01M120.5 97.4h.01M119.2 92.6h.01"/><path d="M133.6 92.5h.01M129.8 98.3h.01M132.9 93.8h.01M128.1 105.3h.01M129.6 100.4h.01M127.8 100.3h.01M124.3 105.4h.01M133.9 101.9h.01"/><path d="M123.4 97.8h.01M125.5 85.9h.01M133.1 92.9h.01M129.0 99.4h.01M125.5 94.9h.01M130.1 89.6h.01M130.3 95.3h.01M124.6 98.3h.01"/><path d="M130.3 93.8h.01M140.2 92.4h.01M132.8 102.5h.01M119.4 99.1h.01M128.6 85.0h.01M128.6 101.7h.01M120.7 107.1h.01M131.6 89.3h.01"/><path d="M133.4 85.6h.01M138.7 90.4h.01M130.1 95.1h.01M130.6 105.6h.01M125.3 102.9h.01M135.7 94.4h.01M130.9 90.7h.01M125.8 104.2h.01"/><path d="M134.3 101.2h.01M121.7 107.1h.01M130.3 92.8h.01M123.4 105.4h.01M132.2 88.6h.01M122.2 98.0h.01M118.5 95.7h.01M143.6 79.0h.01"/><path d="M140.8 94.4h.01M130.4 101.7h.01M144.4 91.5h.01M132.1 88.6h.01M128.0 100.2h.01M134.6 85.8h.01M138.7 97.0h.01M134.4 92.2h.01"/><path d="M130.9 102.5h.01M131.0 99.6h.01M126.4 97.4h.01M124.6 95.5h.01M129.2 86.7h.01M130.7 92.9h.01M126.1 88.1h.01M131.1 96.7h.01"/><path d="M141.5 92.5h.01M132.3 94.3h.01M135.5 99.8h.01M139.4 91.6h.01M130.1 84.8h.01M143.6 98.3h.01M129.2 93.8h.01M129.5 82.5h.01"/><path d="M131.6 86.0h.01M128.5 89.8h.01M138.1 88.7h.01M128.5 99.6h.01M143.8 94.5h.01M131.4 94.4h.01M138.7 88.9h.01M136.9 106.2h.01"/><path d="M125.7 106.1h.01M140.5 89.3h.01M136.7 98.3h.01M127.4 101.5h.01M135.8 100.1h.01M134.3 94.2h.01M143.1 94.3h.01M131.7 92.6h.01"/><path d="M129.4 78.6h.01M127.9 103.7h.01M124.3 95.7h.01M137.2 102.9h.01M135.9 98.9h.01M135.5 92.2h.01"/></g>
<g stroke="#000" stroke-opacity="0.25" stroke-width="0.7" stroke-linecap="square" fill="none"><path d="M125.9 90.4h.01M128.9 86.8h.01M135.9 100.2h.01M123.8 101.8h.01M118.1 99.9h.01M129.4 103.6h.01M127.0 86.7h.01M125.9 84.2h.01"/><path d="M125.4 90.5h.01M120.4 102.0h.01M134.7 108.1h.01M122.5 92.3h.01M119.5 90.9h.01M125.1 99.4h.01M122.1 95.7h.01M118.5 91.3h.01"/><path d="M131.1 106.7h.01M127.0 96.2h.01M125.4 89.8h.01M118.3 99.7h.01M118.6 98.7h.01M118.3 94.7h.01M132.6 100.2h.01M123.7 97.4h.01"/><path d="M120.2 88.6h.01M120.5 95.8h.01M120.6 90.0h.01M126.4 96.7h.01M130.3 101.7h.01M130.2 85.9h.01M124.5 99.4h.01M128.6 92.6h.01"/><path d="M127.2 104.0h.01M119.4 88.2h.01M119.9 97.0h.01M118.5 95.3h.01M121.7 87.1h.01M130.4 103.6h.01M122.3 85.0h.01M121.2 91.3h.01"/><path d="M132.2 96.3h.01M123.9 98.9h.01M126.5 85.1h.01M129.9 97.0h.01M129.2 108.7h.01M122.5 92.9h.01M123.1 90.6h.01M121.3 99.7h.01"/><path d="M129.6 100.9h.01M122.8 89.7h.01M126.4 91.9h.01M133.8 103.0h.01M122.6 99.3h.01M125.2 89.0h.01M122.5 83.0h.01M122.5 103.6h.01"/><path d="M121.8 109.1h.01M123.2 101.3h.01M126.5 90.0h.01M118.4 98.7h.01M128.1 95.1h.01M123.4 72.5h.01M120.9 102.6h.01M129.4 98.2h.01"/><path d="M120.2 102.3h.01M122.7 101.6h.01M131.4 87.8h.01M122.8 97.3h.01M126.1 96.2h.01M128.5 102.7h.01M121.4 94.4h.01M129.4 86.7h.01"/><path d="M121.3 78.5h.01M134.8 92.4h.01M133.4 99.4h.01M126.4 94.6h.01M130.1 84.0h.01M131.7 97.5h.01M124.5 81.7h.01M136.4 102.5h.01"/><path d="M125.9 96.5h.01M129.4 92.0h.01M126.2 102.2h.01M121.2 90.6h.01M130.4 88.9h.01M120.4 100.0h.01M118.0 92.5h.01M126.7 103.4h.01"/><path d="M128.4 100.1h.01M124.6 100.0h.01M124.6 90.9h.01M125.9 103.6h.01M133.3 101.5h.01M121.3 96.0h.01M126.3 102.5h.01M129.6 97.2h.01"/><path d="M121.5 82.6h.01M121.2 102.1h.01M128.7 80.4h.01M122.4 95.9h.01M128.3 92.2h.01M122.5 95.4h.01M126.4 95.5h.01M120.3 93.3h.01"/><path d="M124.8 90.7h.01M123.4 93.6h.01M123.8 101.9h.01M134.0 98.2h.01M120.2 95.3h.01M120.3 92.7h.01M128.0 89.5h.01M127.2 97.3h.01"/><path d="M132.0 99.5h.01M128.6 100.5h.01M122.1 93.0h.01M119.6 86.3h.01M134.7 87.2h.01M130.1 93.7h.01M118.7 95.7h.01M128.5 102.9h.01"/><path d="M129.9 94.9h.01M126.4 90.0h.01M120.3 100.9h.01M128.7 93.6h.01M124.2 90.5h.01M124.3 86.0h.01M124.9 94.9h.01M120.2 97.4h.01"/><path d="M127.6 88.8h.01M128.6 88.1h.01M126.1 96.4h.01M131.4 81.9h.01M127.3 86.6h.01M124.9 85.3h.01M128.1 96.4h.01M122.8 107.2h.01"/><path d="M122.3 92.0h.01M117.9 97.6h.01M123.3 87.6h.01M133.0 93.9h.01M134.2 97.6h.01M125.1 108.7h.01M122.9 87.1h.01M119.9 103.6h.01"/><path d="M131.5 93.4h.01M119.3 85.5h.01M127.7 86.1h.01M123.7 92.9h.01M132.5 79.6h.01M118.2 90.1h.01M129.9 90.9h.01M128.9 88.7h.01"/><path d="M130.0 90.0h.01M117.9 92.3h.01M119.3 96.5h.01M124.6 101.5h.01M120.2 91.0h.01M120.5 97.9h.01M122.1 100.8h.01M123.1 102.8h.01"/><path d="M135.9 98.1h.01M125.6 88.2h.01M124.8 92.8h.01M119.0 87.8h.01M134.3 79.9h.01M116.7 85.5h.01M123.3 91.7h.01M125.9 97.5h.01"/><path d="M124.2 86.0h.01M120.5 102.5h.01M129.3 91.6h.01M126.4 88.4h.01M119.1 83.5h.01M125.0 99.4h.01M127.6 93.9h.01M125.9 106.3h.01"/></g>
<g stroke="#000" stroke-opacity="0.3" stroke-width="0.7" stroke-linecap="square" fill="none"><path d="M168.4 62.1h.01M153.6 68.9h.01M144.0 66.4h.01M146.8 70.2h.01M154.1 79.1h.01M152.6 79.7h.01M154.3 71.5h.01M148.9 62.9h.01"/><path d="M138.0 70.0h.01M149.3 73.1h.01M153.2 60.6h.01M144.9 61.7h.01M158.5 69.6h.01M151.5 63.3h.01M140.4 65.9h.01M149.7 74.1h.01"/><path d="M138.4 73.1h.01M143.7 66.3h.01M147.8 67.0h.01M154.1 77.4h.01M153.1 66.2h.01M153.7 73.4h.01M157.2 72.6h.01M137.7 64.4h.01"/><path d="M147.3 77.7h.01M149.4 77.6h.01M152.7 61.1h.01M150.8 74.8h.01M153.6 58.7h.01M153.8 65.8h.01M133.8 65.9h.01M134.9 60.4h.01"/><path d="M161.8 89.9h.01M158.8 73.9h.01M165.4 73.1h.01M142.7 51.1h.01M157.6 52.6h.01M127.9 65.3h.01M151.0 63.6h.01M158.7 69.8h.01"/><path d="M152.1 74.0h.01M145.8 72.1h.01M168.9 63.1h.01M151.8 74.7h.01M146.2 70.1h.01M136.9 67.0h.01M150.8 79.4h.01M158.0 65.9h.01"/><path d="M141.7 85.1h.01M157.6 55.4h.01M147.9 63.4h.01M145.7 56.9h.01M147.2 66.5h.01M148.7 78.9h.01M152.4 60.9h.01M136.8 66.4h.01"/><path d="M159.8 78.1h.01M145.9 79.9h.01M154.1 65.8h.01M154.1 70.0h.01M141.8 67.2h.01M152.0 81.2h.01M142.4 72.6h.01M150.9 70.3h.01"/><path d="M140.9 80.8h.01M161.1 83.5h.01M154.5 82.6h.01M155.1 78.7h.01M148.1 72.5h.01M148.2 62.3h.01M147.3 61.8h.01M141.8 67.6h.01"/><path d="M145.9 87.4h.01M165.0 79.5h.01M157.1 63.9h.01M153.0 59.2h.01M145.8 66.9h.01M147.9 77.7h.01M144.5 90.2h.01M146.7 77.7h.01"/><path d="M138.1 78.1h.01M140.9 72.4h.01M150.8 77.5h.01M155.7 74.0h.01M149.6 86.6h.01M147.1 70.9h.01M147.0 71.9h.01M143.1 67.5h.01"/><path d="M154.9 66.2h.01M154.6 66.1h.01M162.3 69.8h.01M165.0 74.8h.01M149.8 78.5h.01M160.2 83.1h.01M162.0 78.0h.01M141.4 78.4h.01"/><path d="M150.1 74.1h.01M161.0 65.1h.01M161.6 90.1h.01M155.3 68.3h.01M161.9 72.3h.01M159.3 81.0h.01M138.7 73.4h.01M138.6 65.2h.01"/><path d="M155.7 61.2h.01M145.0 67.1h.01M153.3 73.6h.01M154.4 66.7h.01M144.7 74.1h.01M143.8 64.3h.01M156.4 64.4h.01M143.5 79.9h.01"/><path d="M150.4 52.8h.01M144.7 86.4h.01M173.6 68.4h.01M156.4 76.7h.01M153.3 56.1h.01M158.8 73.0h.01M148.8 57.7h.01M145.6 69.8h.01"/><path d="M148.7 72.5h.01M147.6 78.7h.01M155.7 61.4h.01M145.8 74.1h.01M146.2 81.9h.01M146.4 72.7h.01M155.6 61.6h.01M160.7 69.0h.01"/><path d="M145.0 65.1h.01M137.1 59.7h.01M162.7 69.6h.01M148.4 72.2h.01M155.3 64.3h.01M149.0 72.8h.01M158.8 72.7h.01M164.0 68.9h.01"/><path d="M148.0 59.5h.01M150.3 75.8h.01M148.7 69.3h.01M142.8 65.9h.01M147.1 69.9h.01M159.3 74.7h.01M158.0 80.1h.01M146.9 81.4h.01"/><path d="M151.0 60.1h.01M145.8 70.0h.01M138.3 89.1h.01M150.2 77.5h.01M141.0 71.4h.01M152.7 64.5h.01M152.7 70.6h.01M153.6 60.9h.01"/><path d="M154.8 68.3h.01M143.8 53.0h.01M149.1 67.6h.01M169.6 60.9h.01M162.5 80.6h.01M153.9 72.6h.01M154.6 58.8h.01M161.9 68.0h.01"/><path d="M144.6 70.5h.01M128.6 59.9h.01M141.1 58.0h.01M155.2 83.3h.01M150.6 68.0h.01M153.1 66.5h.01M151.6 73.8h.01M148.7 67.2h.01"/><path d="M151.1 71.0h.01M155.9 58.4h.01M141.6 66.6h.01M154.4 60.1h.01M160.1 82.0h.01M144.6 79.4h.01M133.7 69.6h.01M137.5 79.0h.01"/><path d="M157.2 74.5h.01M145.7 61.3h.01M153.7 66.3h.01M155.8 57.6h.01M153.7 74.4h.01M132.1 60.1h.01M144.6 65.5h.01M136.4 70.4h.01"/><path d="M141.2 69.6h.01M135.5 60.7h.01M155.8 56.5h.01M149.9 81.8h.01M156.6 59.6h.01M168.0 65.7h.01M157.6 77.8h.01M147.6 75.2h.01"/><path d="M128.1 70.9h.01M151.4 67.4h.01M151.1 78.7h.01M157.7 65.1h.01M156.4 79.5h.01M151.0 73.2h.01M130.5 57.5h.01M153.1 58.1h.01"/></g>
<g stroke="#000" stroke-opacity="0.15" stroke-width="0.7" stroke-linecap="square" fill="none"><path d="M161.0 32.2h.01M180.3 84.4h.01M188.2 82.4h.01M164.6 35.1h.01M132.6 73.5h.01M179.9 61.4h.01M119.9 57.7h.01M168.5 44.7h.01"/><path d="M153.4 99.3h.01M176.5 54.2h.01M162.1 74.1h.01M151.5 58.0h.01M152.9 93.1h.01M178.2 65.1h.01M151.8 37.3h.01M180.0 52.3h.01"/><path d="M189.4 72.4h.01M176.3 69.3h.01M140.4 65.1h.01M180.5 60.6h.01M172.3 42.4h.01M171.3 84.6h.01M168.0 84.9h.01M158.2 49.2h.01"/><path d="M175.6 46.4h.01M133.0 67.9h.01M170.0 72.2h.01M150.9 54.3h.01M180.6 53.4h.01M165.2 66.0h.01M153.5 66.2h.01M137.8 70.6h.01"/><path d="M161.2 33.6h.01M144.6 56.9h.01M153.1 70.6h.01M173.1 75.4h.01M165.1 75.9h.01M167.6 59.7h.01M168.1 82.0h.01M162.6 46.4h.01"/><path d="M140.8 36.3h.01M167.8 77.6h.01M171.1 48.0h.01M166.4 46.2h.01M192.1 64.2h.01M183.8 45.8h.01M181.2 55.5h.01M158.3 65.3h.01"/><path d="M140.9 53.3h.01M172.5 54.8h.01M174.5 70.0h.01M161.9 61.8h.01M177.0 44.1h.01M165.6 50.2h.01M157.5 47.5h.01M157.7 48.8h.01"/><path d="M179.1 49.3h.01M174.2 70.6h.01M161.9 93.7h.01M173.1 84.1h.01M170.1 75.7h.01M169.6 40.1h.01M183.9 58.1h.01M169.1 67.7h.01"/><path d="M182.6 105.8h.01M149.1 54.9h.01M151.8 84.7h.01M165.7 53.4h.01M181.8 64.8h.01M183.3 38.3h.01M172.2 73.6h.01M159.4 84.6h.01"/><path d="M169.8 50.2h.01M163.0 72.4h.01M193.9 55.2h.01M183.8 57.6h.01M152.6 46.6h.01M187.3 55.7h.01M175.0 91.3h.01M192.8 56.4h.01"/><path d="M165.8 67.9h.01M127.2 74.5h.01M156.4 75.6h.01M156.4 57.4h.01M188.8 74.2h.01M158.8 88.5h.01M183.0 43.6h.01M161.6 70.2h.01"/><path d="M161.2 38.7h.01M172.5 70.6h.01M188.1 49.3h.01M146.0 45.9h.01M183.4 78.1h.01M131.8 72.3h.01M190.0 88.6h.01M187.2 79.1h.01"/><path d="M176.2 58.0h.01M168.1 62.2h.01M147.0 60.9h.01M192.3 57.4h.01M180.1 49.5h.01M193.5 74.9h.01M191.4 76.6h.01M181.7 81.7h.01"/><path d="M173.7 71.5h.01M122.5 82.6h.01M169.3 80.2h.01M164.7 65.9h.01M153.4 58.6h.01M137.8 66.9h.01M162.6 51.6h.01M155.1 46.1h.01"/><path d="M170.2 60.7h.01M164.2 85.5h.01M147.8 55.3h.01M142.7 58.0h.01M166.6 31.8h.01M159.1 57.5h.01M142.8 85.3h.01M173.9 40.0h.01"/><path d="M178.2 68.8h.01M158.3 48.1h.01M190.2 101.3h.01M175.4 98.3h.01M134.0 34.4h.01M172.1 51.4h.01M175.6 93.6h.01M148.3 69.6h.01"/><path d="M169.5 40.3h.01M165.4 42.9h.01M164.9 87.3h.01M192.5 80.3h.01M173.2 53.5h.01M179.6 80.2h.01M167.3 70.4h.01M169.6 68.2h.01"/><path d="M189.5 39.5h.01M172.4 53.2h.01M166.0 68.5h.01M152.2 49.8h.01M173.9 64.7h.01M132.5 34.2h.01M190.6 60.0h.01M129.1 57.5h.01"/><path d="M163.4 87.5h.01M152.7 52.0h.01M161.0 68.0h.01M180.2 72.7h.01M186.5 78.3h.01M166.6 59.0h.01M169.3 85.8h.01M133.6 42.0h.01"/><path d="M190.0 91.3h.01M146.3 51.9h.01M183.6 72.3h.01M136.6 59.6h.01M157.8 41.3h.01M165.4 47.5h.01M141.7 100.0h.01M157.7 44.0h.01"/><path d="M136.0 86.3h.01M151.3 54.2h.01M164.8 64.9h.01M135.1 88.9h.01M185.2 75.0h.01M185.7 80.9h.01M145.5 50.0h.01M165.9 55.6h.01"/><path d="M195.1 43.7h.01M181.3 54.8h.01M174.5 87.4h.01M192.9 52.3h.01M170.9 79.3h.01M171.3 80.3h.01M183.0 96.0h.01M184.6 50.7h.01"/><path d="M165.3 69.5h.01M187.0 53.2h.01M178.4 73.2h.01M188.6 61.6h.01M155.0 64.1h.01M179.3 66.2h.01M190.5 68.4h.01M141.7 72.5h.01"/><path d="M190.4 33.8h.01M186.3 77.8h.01"/></g>
<ellipse cx="131" cy="97" rx="7" ry="4.5" transform="rotate(-50 131 97)" fill="#000" fill-opacity="0.22" filter="url(#bl15)"/>
<polygon points="142.90,55.90 155.80,52.90 164.80,65.80 162.80,81.80 148.90,87.80 135.90,75.80" fill="none" stroke="#444" stroke-width="0.6" />
<rect x="15.4" y="28.4" width="81.39999999999999" height="81.9" fill="none" stroke="#777" stroke-width="0.9"/>
<rect x="115.6" y="28.2" width="80.80000000000001" height="82.0" fill="none" stroke="#777" stroke-width="0.9"/>
<line x1="100.5" y1="69" x2="112" y2="69" stroke="#111" stroke-width="0.8" />
<polygon points="112.00,69.00 108.70,70.32 108.70,67.68" fill="#111" stroke="none" stroke-width="0.8" />
<line x1="10.5" y1="116.2" x2="10.5" y2="90" stroke="#222" stroke-width="0.8" />
<polygon points="10.50,87.30 9.06,90.66 11.94,90.66" fill="#111" stroke="none" stroke-width="0.8" />
<line x1="10.1" y1="115.8" x2="33" y2="115.8" stroke="#222" stroke-width="0.8" />
<polygon points="36.20,115.80 32.84,114.36 32.84,117.24" fill="#111" stroke="none" stroke-width="0.8" />
<text transform="translate(8.3,105) rotate(-90)" font-size="7.5" text-anchor="middle" fill="#111">SSC</text>
<text x="15" y="123.5" font-size="7.5" text-anchor="start" font-weight="normal" fill="#111" >FSC</text>
<polygon points="236.40,109.50 237.00,101.00 238.50,90.00 240.00,82.00 241.50,74.00 242.50,66.00 243.20,56.00 244.00,45.00 244.80,39.00 245.50,34.00 246.30,36.00 247.00,31.00 247.80,33.00 248.60,29.50 249.40,31.00 250.20,28.30 251.00,30.50 251.80,29.00 252.60,32.00 253.40,31.00 254.20,34.00 255.00,33.00 256.00,38.00 257.00,44.00 258.00,52.00 258.80,60.00 260.00,67.00 261.50,73.00 263.00,79.00 264.50,86.00 266.00,94.00 267.30,102.00 268.40,109.50" fill="#000" stroke="none" stroke-width="0.8" />
<polyline points="233.30,109.50 235.00,92.00 236.60,74.00 238.20,50.00 239.90,28.20 241.60,48.00 243.20,70.00 244.30,88.00 245.20,109.50" fill="none" stroke="#444" stroke-width="0.9" stroke-linejoin="round" />
<rect x="217.4" y="27.4" width="80.79999999999998" height="82.19999999999999" fill="none" stroke="#444" stroke-width="0.9"/>
<line x1="218.0" y1="109.5" x2="218.0" y2="111.5" stroke="#222" stroke-width="0.6" />
<line x1="221.9" y1="109.5" x2="221.9" y2="111.0" stroke="#222" stroke-width="0.6" />
<line x1="225.8" y1="109.5" x2="225.8" y2="111.0" stroke="#222" stroke-width="0.6" />
<line x1="229.7" y1="109.5" x2="229.7" y2="111.0" stroke="#222" stroke-width="0.6" />
<line x1="233.6" y1="109.5" x2="233.6" y2="111.5" stroke="#222" stroke-width="0.6" />
<line x1="237.5" y1="109.5" x2="237.5" y2="111.0" stroke="#222" stroke-width="0.6" />
<line x1="241.4" y1="109.5" x2="241.4" y2="111.0" stroke="#222" stroke-width="0.6" />
<line x1="245.3" y1="109.5" x2="245.3" y2="111.0" stroke="#222" stroke-width="0.6" />
<line x1="249.2" y1="109.5" x2="249.2" y2="111.5" stroke="#222" stroke-width="0.6" />
<line x1="253.1" y1="109.5" x2="253.1" y2="111.0" stroke="#222" stroke-width="0.6" />
<line x1="257.0" y1="109.5" x2="257.0" y2="111.0" stroke="#222" stroke-width="0.6" />
<line x1="260.9" y1="109.5" x2="260.9" y2="111.0" stroke="#222" stroke-width="0.6" />
<line x1="264.8" y1="109.5" x2="264.8" y2="111.5" stroke="#222" stroke-width="0.6" />
<line x1="268.7" y1="109.5" x2="268.7" y2="111.0" stroke="#222" stroke-width="0.6" />
<line x1="272.6" y1="109.5" x2="272.6" y2="111.0" stroke="#222" stroke-width="0.6" />
<line x1="276.5" y1="109.5" x2="276.5" y2="111.0" stroke="#222" stroke-width="0.6" />
<line x1="280.4" y1="109.5" x2="280.4" y2="111.5" stroke="#222" stroke-width="0.6" />
<line x1="284.3" y1="109.5" x2="284.3" y2="111.0" stroke="#222" stroke-width="0.6" />
<line x1="288.2" y1="109.5" x2="288.2" y2="111.0" stroke="#222" stroke-width="0.6" />
<line x1="292.1" y1="109.5" x2="292.1" y2="111.0" stroke="#222" stroke-width="0.6" />
<line x1="296.0" y1="109.5" x2="296.0" y2="111.5" stroke="#222" stroke-width="0.6" />
<text x="218.0" y="117.7" font-size="5.3" text-anchor="middle" font-weight="normal" fill="#222" >0</text>
<text x="233.6" y="117.7" font-size="5.3" text-anchor="middle" font-weight="normal" fill="#222" >200</text>
<text x="249.2" y="117.7" font-size="5.3" text-anchor="middle" font-weight="normal" fill="#222" >400</text>
<text x="264.8" y="117.7" font-size="5.3" text-anchor="middle" font-weight="normal" fill="#222" >600</text>
<text x="280.4" y="117.7" font-size="5.3" text-anchor="middle" font-weight="normal" fill="#222" >800</text>
<text x="296.0" y="117.7" font-size="5.3" text-anchor="middle" font-weight="normal" fill="#222" >1000</text>
<line x1="216" y1="121.3" x2="298.5" y2="121.3" stroke="#444" stroke-width="0.9" />
<polygon points="301.80,121.30 298.58,119.92 298.58,122.68" fill="#111" stroke="none" stroke-width="0.8" />
<text x="215.8" y="128.7" font-size="7.4" text-anchor="start" font-weight="normal" fill="#111" >FSC</text>
<text x="279.2" y="33.5" font-size="5.8" text-anchor="start" font-weight="normal" fill="#111" >MFI:</text>
<rect x="279.3" y="37.0" width="4.4" height="4.4" fill="#fff" stroke="#222" stroke-width="1.0"/>
<text x="285.6" y="41.7" font-size="6.1" text-anchor="start" font-weight="normal" fill="#111" >275</text>
<rect x="279.2" y="45.3" width="4.6" height="4.3" fill="#000" stroke="none" stroke-width="0"/>
<text x="285.6" y="49.2" font-size="6.1" text-anchor="start" font-weight="normal" fill="#111" >420</text>
<polygon points="333.60,109.30 334.50,104.00 335.40,95.00 336.30,86.10 337.30,76.00 338.30,65.80 339.20,60.00 340.00,55.00 340.90,50.00 341.80,45.40 342.60,41.50 343.50,38.00 344.40,35.00 345.20,33.00 345.90,31.20 346.50,30.00 347.10,31.20 347.90,28.40 348.60,30.50 349.40,28.90 350.30,33.00 351.20,31.50 352.30,34.50 353.40,35.20 354.50,40.00 355.30,42.00 356.00,45.40 357.00,50.50 358.00,55.00 359.00,60.50 360.10,65.80 361.30,70.50 362.50,76.00 363.70,81.00 364.80,86.10 365.60,91.00 366.30,96.00 367.10,101.50 367.90,107.50 368.20,109.30" fill="#000" stroke="none" stroke-width="0.8" />
<polyline points="321.00,109.50 322.50,90.00 324.00,68.00 325.60,45.00 327.00,28.40 328.40,45.00 329.80,66.00 331.20,88.00 332.60,109.50" fill="none" stroke="#444" stroke-width="0.9" stroke-linejoin="round" />
<rect x="311.4" y="27.5" width="80.60000000000002" height="81.8" fill="none" stroke="#444" stroke-width="0.9"/>
<line x1="312.0" y1="109.3" x2="312.0" y2="111.3" stroke="#222" stroke-width="0.6" />
<line x1="315.9" y1="109.3" x2="315.9" y2="110.8" stroke="#222" stroke-width="0.6" />
<line x1="319.8" y1="109.3" x2="319.8" y2="110.8" stroke="#222" stroke-width="0.6" />
<line x1="323.7" y1="109.3" x2="323.7" y2="110.8" stroke="#222" stroke-width="0.6" />
<line x1="327.6" y1="109.3" x2="327.6" y2="111.3" stroke="#222" stroke-width="0.6" />
<line x1="331.5" y1="109.3" x2="331.5" y2="110.8" stroke="#222" stroke-width="0.6" />
<line x1="335.4" y1="109.3" x2="335.4" y2="110.8" stroke="#222" stroke-width="0.6" />
<line x1="339.3" y1="109.3" x2="339.3" y2="110.8" stroke="#222" stroke-width="0.6" />
<line x1="343.2" y1="109.3" x2="343.2" y2="111.3" stroke="#222" stroke-width="0.6" />
<line x1="347.1" y1="109.3" x2="347.1" y2="110.8" stroke="#222" stroke-width="0.6" />
<line x1="351.0" y1="109.3" x2="351.0" y2="110.8" stroke="#222" stroke-width="0.6" />
<line x1="354.9" y1="109.3" x2="354.9" y2="110.8" stroke="#222" stroke-width="0.6" />
<line x1="358.8" y1="109.3" x2="358.8" y2="111.3" stroke="#222" stroke-width="0.6" />
<line x1="362.7" y1="109.3" x2="362.7" y2="110.8" stroke="#222" stroke-width="0.6" />
<line x1="366.6" y1="109.3" x2="366.6" y2="110.8" stroke="#222" stroke-width="0.6" />
<line x1="370.5" y1="109.3" x2="370.5" y2="110.8" stroke="#222" stroke-width="0.6" />
<line x1="374.4" y1="109.3" x2="374.4" y2="111.3" stroke="#222" stroke-width="0.6" />
<line x1="378.3" y1="109.3" x2="378.3" y2="110.8" stroke="#222" stroke-width="0.6" />
<line x1="382.2" y1="109.3" x2="382.2" y2="110.8" stroke="#222" stroke-width="0.6" />
<line x1="386.1" y1="109.3" x2="386.1" y2="110.8" stroke="#222" stroke-width="0.6" />
<line x1="390.0" y1="109.3" x2="390.0" y2="111.3" stroke="#222" stroke-width="0.6" />
<text x="312.0" y="117.5" font-size="5.3" text-anchor="middle" font-weight="normal" fill="#222" >0</text>
<text x="327.6" y="117.5" font-size="5.3" text-anchor="middle" font-weight="normal" fill="#222" >200</text>
<text x="343.2" y="117.5" font-size="5.3" text-anchor="middle" font-weight="normal" fill="#222" >400</text>
<text x="358.8" y="117.5" font-size="5.3" text-anchor="middle" font-weight="normal" fill="#222" >600</text>
<text x="374.4" y="117.5" font-size="5.3" text-anchor="middle" font-weight="normal" fill="#222" >800</text>
<text x="390.0" y="117.5" font-size="5.3" text-anchor="middle" font-weight="normal" fill="#222" >1000</text>
<line x1="311" y1="121.3" x2="393" y2="121.3" stroke="#444" stroke-width="0.9" />
<polygon points="396.20,121.30 392.98,119.92 392.98,122.68" fill="#111" stroke="none" stroke-width="0.8" />
<text x="310.8" y="128.7" font-size="7.4" text-anchor="start" font-weight="normal" fill="#111" >SSC</text>
<text x="373.2" y="33.5" font-size="5.8" text-anchor="start" font-weight="normal" fill="#111" >MFI:</text>
<rect x="373.3" y="37.0" width="4.4" height="4.4" fill="#fff" stroke="#222" stroke-width="1.0"/>
<text x="379.6" y="41.7" font-size="6.1" text-anchor="start" font-weight="normal" fill="#111" >189</text>
<rect x="373.2" y="45.3" width="4.6" height="4.3" fill="#000" stroke="none" stroke-width="0"/>
<text x="379.6" y="49.2" font-size="6.1" text-anchor="start" font-weight="normal" fill="#111" >491</text>
<line x1="438.3" y1="29.5" x2="438.3" y2="110.6" stroke="#333" stroke-width="0.8" />
<line x1="438.3" y1="110.6" x2="512.5" y2="110.6" stroke="#333" stroke-width="0.8" />
<line x1="437.2" y1="110.6" x2="438.3" y2="110.6" stroke="#111" stroke-width="0.7" />
<text x="436.0" y="112.89999999999999" font-size="6.6" text-anchor="end" font-weight="normal" fill="#111" >0</text>
<line x1="437.2" y1="94.6" x2="438.3" y2="94.6" stroke="#111" stroke-width="0.7" />
<text x="436.0" y="96.89999999999999" font-size="6.6" text-anchor="end" font-weight="normal" fill="#111" >0.5</text>
<line x1="437.2" y1="78.6" x2="438.3" y2="78.6" stroke="#111" stroke-width="0.7" />
<text x="436.0" y="80.89999999999999" font-size="6.6" text-anchor="end" font-weight="normal" fill="#111" >1.0</text>
<line x1="437.2" y1="62.599999999999994" x2="438.3" y2="62.599999999999994" stroke="#111" stroke-width="0.7" />
<text x="436.0" y="64.89999999999999" font-size="6.6" text-anchor="end" font-weight="normal" fill="#111" >1.5</text>
<line x1="437.2" y1="46.599999999999994" x2="438.3" y2="46.599999999999994" stroke="#111" stroke-width="0.7" />
<text x="436.0" y="48.89999999999999" font-size="6.6" text-anchor="end" font-weight="normal" fill="#111" >2.0</text>
<line x1="437.2" y1="30.599999999999994" x2="438.3" y2="30.599999999999994" stroke="#111" stroke-width="0.7" />
<text x="436.0" y="32.89999999999999" font-size="6.6" text-anchor="end" font-weight="normal" fill="#111" >2.5</text>
<rect x="454.2" y="94.6" width="20.8" height="16.0" fill="#fff" stroke="#111" stroke-width="0.9"/>
<rect x="475" y="47.0" width="21.5" height="63.599999999999994" fill="#000" stroke="none" stroke-width="0"/>
<line x1="464.6" y1="92" x2="464.6" y2="97.2" stroke="#333" stroke-width="0.7" />
<line x1="463.2" y1="92" x2="466" y2="92" stroke="#333" stroke-width="0.7" />
<line x1="463.2" y1="97.2" x2="466" y2="97.2" stroke="#333" stroke-width="0.7" />
<line x1="485.6" y1="44.7" x2="485.6" y2="47.5" stroke="#333" stroke-width="0.7" />
<line x1="484.3" y1="44.7" x2="487" y2="44.7" stroke="#333" stroke-width="0.7" />
<rect x="441.2" y="24.2" width="6.6" height="5.0" fill="#fff" stroke="#222" stroke-width="0.9"/>
<text x="449.6" y="28.9" font-size="6.4" text-anchor="start" font-weight="normal" fill="#111" >ex <tspan font-style="italic">vivo</tspan> CD8+ T cells</text>
<rect x="440.8" y="34.7" width="7.5" height="6.1" fill="#000" stroke="none" stroke-width="0"/>
<text x="450.4" y="40.4" font-size="6.4" text-anchor="start" font-weight="normal" fill="#111" >Peptide <tspan font-style="italic">activated</tspan> T cells</text>
<text transform="translate(421.0,74.2) rotate(-90)" font-size="6.3" text-anchor="middle" fill="#111">Protein (mg/10 <tspan font-size="4.2" dy="-2.3">6</tspan><tspan dy="2.3"> cells)</tspan></text>
<text x="35.2" y="157.6" font-size="7.0" text-anchor="start" font-weight="normal" fill="#111" >24h</text>
<text x="99.5" y="157.6" font-size="7.0" text-anchor="start" font-weight="normal" fill="#111" >48h</text>
<text x="165" y="157.6" font-size="7.0" text-anchor="start" font-weight="normal" fill="#111" >72h</text>
<polygon points="35.20,218.70 35.20,218.70 35.65,218.10 36.10,216.23 36.55,217.10 37.00,215.66 37.45,216.18 37.90,215.68 38.35,212.39 38.80,211.53 39.25,214.63 39.70,210.79 40.15,209.61 40.60,212.20 41.05,208.62 41.50,209.32 41.95,206.53 42.40,206.25 42.85,202.84 43.30,203.93 43.75,203.79 44.20,200.88 44.65,200.67 45.10,199.07 45.55,194.90 46.00,196.98 46.45,194.92 46.90,192.25 47.35,189.60 47.80,192.25 48.25,189.02 48.70,188.85 49.15,188.42 49.60,187.60 50.05,188.56 50.50,186.01 50.95,187.93 51.40,186.19 51.85,188.51 52.30,188.34 52.75,185.14 53.20,185.88 53.65,186.82 54.10,190.96 54.55,188.97 55.00,190.44 55.45,189.54 55.90,191.40 56.35,191.68 56.80,192.39 57.25,194.38 57.70,195.25 58.15,197.66 58.60,197.50 59.05,199.64 59.50,200.25 59.95,201.86 60.40,201.28 60.85,199.80 61.30,204.11 61.75,205.67 62.20,206.54 62.65,206.08 63.10,207.93 63.55,206.68 64.00,210.81 64.45,210.72 64.90,210.64 65.35,210.89 65.80,216.01 66.25,217.98 66.70,214.97 67.15,218.26 67.30,218.70" fill="#000" stroke="none" stroke-width="0.8" />
<polyline points="37.30,218.70 38.60,205.00 40.00,185.00 41.20,170.00 41.90,165.00 42.60,170.00 43.50,176.00 44.30,174.00 45.20,178.00 46.30,184.00 47.50,188.00 49.00,193.00 50.60,196.60 52.50,201.00 53.70,204.40 56.00,207.00 58.40,209.00 61.00,211.00 63.00,212.40 65.30,215.20 66.50,218.70" fill="none" stroke="#666" stroke-width="1.1" stroke-linejoin="round" />
<polyline points="35.20,218.70 36.60,205.00 38.20,188.00 39.60,175.00 40.70,166.00 41.40,161.50 42.20,168.00 43.20,180.00 44.30,194.00 45.40,206.00 46.50,215.00 47.50,218.70" fill="none" stroke="#444" stroke-width="0.7" stroke-linejoin="round" />
<rect x="13.8" y="159.5" width="59.8" height="59.19999999999999" fill="none" stroke="#666" stroke-width="0.9"/>
<polygon points="96.50,218.70 96.50,218.70 96.95,217.91 97.40,217.77 97.85,217.60 98.30,217.09 98.75,217.08 99.20,215.24 99.65,215.40 100.10,209.97 100.55,211.46 101.00,213.15 101.45,210.86 101.90,211.42 102.35,206.57 102.80,207.67 103.25,205.77 103.70,206.56 104.15,205.97 104.60,202.35 105.05,202.86 105.50,202.65 105.95,205.42 106.40,204.09 106.85,200.40 107.30,203.17 107.75,199.21 108.20,201.15 108.65,198.06 109.10,196.94 109.55,201.07 110.00,197.23 110.45,196.87 110.90,200.47 111.35,199.50 111.80,196.08 112.25,199.31 112.70,196.96 113.15,197.52 113.60,194.90 114.05,198.57 114.50,197.10 114.95,198.38 115.40,197.79 115.85,194.46 116.30,194.55 116.75,193.30 117.20,192.96 117.65,192.31 118.10,193.30 118.55,194.64 119.00,191.28 119.45,194.56 119.90,192.85 120.35,193.13 120.80,196.21 121.25,194.88 121.70,194.46 122.15,195.75 122.60,197.34 123.05,194.40 123.50,199.61 123.95,195.09 124.40,199.30 124.85,200.32 125.30,196.55 125.75,201.08 126.20,199.42 126.65,201.05 127.10,198.62 127.55,199.34 128.00,200.57 128.45,205.12 128.90,201.70 129.35,205.19 129.80,206.70 130.25,207.36 130.70,204.85 131.15,205.50 131.60,206.98 132.05,208.88 132.50,206.00 132.95,209.93 133.40,210.78 133.85,211.76 134.30,208.18 134.75,213.60 135.20,209.86 135.65,211.85 136.10,213.96 136.55,216.29 137.00,214.34 137.45,218.44 137.90,217.52 138.35,218.35 138.50,218.70" fill="#000" stroke="none" stroke-width="0.8" />
<polyline points="99.60,218.70 101.00,213.00 103.00,208.00 105.50,204.00 107.50,199.00 109.70,193.00 111.50,190.50 113.50,189.50 115.50,191.50 118.00,193.00 121.30,197.40 124.50,202.00 127.50,207.50 130.00,212.50 132.00,217.50 132.80,218.70" fill="none" stroke="#666" stroke-width="1.1" stroke-linejoin="round" />
<polyline points="97.80,218.70 99.20,210.00 100.50,196.00 101.70,180.00 102.80,168.00 103.50,164.20 104.30,170.00 105.30,183.00 106.50,197.00 107.60,207.00 109.00,213.00 111.00,217.00 113.00,218.70" fill="none" stroke="#444" stroke-width="0.7" stroke-linejoin="round" />
<rect x="79.5" y="159.5" width="60.19999999999999" height="59.19999999999999" fill="none" stroke="#666" stroke-width="0.9"/>
<polygon points="160.20,218.70 160.20,218.70 160.65,218.44 161.10,218.18 161.55,217.92 162.00,216.74 162.45,215.58 162.90,217.92 163.35,214.65 163.80,216.80 164.25,215.58 164.70,213.57 165.15,215.50 165.60,212.64 166.05,214.30 166.50,212.00 166.95,211.70 167.40,212.94 167.85,214.43 168.30,210.17 168.75,210.08 169.20,211.58 169.65,212.64 170.10,210.11 170.55,208.57 171.00,210.98 171.45,205.67 171.90,209.42 172.35,205.99 172.80,204.76 173.25,204.15 173.70,204.67 174.15,206.83 174.60,203.06 175.05,204.68 175.50,204.56 175.95,202.75 176.40,203.25 176.85,200.30 177.30,199.86 177.75,200.20 178.20,202.32 178.65,200.75 179.10,199.89 179.55,201.04 180.00,200.10 180.45,199.04 180.90,201.35 181.35,200.63 181.80,198.08 182.25,199.61 182.70,199.17 183.15,200.80 183.60,199.86 184.05,197.38 184.50,200.79 184.95,196.12 185.40,197.50 185.85,199.19 186.30,196.21 186.75,198.12 187.20,195.95 187.65,199.38 188.10,200.05 188.55,199.22 189.00,200.95 189.45,198.26 189.90,200.48 190.35,200.19 190.80,200.35 191.25,199.94 191.70,202.16 192.15,203.05 192.60,201.04 193.05,202.47 193.50,199.76 193.95,203.53 194.40,203.68 194.85,205.92 195.30,205.56 195.75,203.35 196.20,204.45 196.65,206.51 197.10,203.73 197.55,206.59 198.00,205.64 198.45,206.05 198.90,206.45 199.35,210.83 199.80,208.21 200.25,209.52 200.70,210.97 201.15,214.33 201.60,211.43 202.05,214.55 202.50,216.28 202.95,218.70 203.40,218.43 203.50,218.70" fill="#000" stroke="none" stroke-width="0.8" />
<polyline points="159.40,218.70 160.60,208.00 161.80,192.00 162.80,178.00 163.60,168.00 164.10,165.00 164.80,170.00 165.70,185.00 166.60,198.00 167.50,204.40 169.00,206.00 170.50,205.00 171.50,206.50 172.50,209.00 174.00,213.00 175.70,218.70" fill="none" stroke="#666" stroke-width="1.1" stroke-linejoin="round" />
<polyline points="159.65,218.70 160.85,208.00 162.05,192.00 163.05,178.00 163.85,168.00 164.35,165.00 165.05,170.00 165.95,185.00 166.85,198.00 167.75,204.40 169.25,206.00 170.75,205.00 171.75,206.50 172.75,209.00 174.25,213.00 175.95,218.70" fill="none" stroke="#444" stroke-width="0.7" stroke-linejoin="round" />
<rect x="145.6" y="159.5" width="59.20000000000002" height="59.19999999999999" fill="none" stroke="#666" stroke-width="0.9"/>
<polygon points="23.80,300.50 23.80,300.50 24.25,300.19 24.70,299.89 25.15,299.58 25.60,299.10 26.05,298.29 26.50,296.26 26.95,298.86 27.40,293.83 27.85,295.31 28.30,295.84 28.75,290.31 29.20,290.97 29.65,289.00 30.10,283.42 30.55,282.23 31.00,280.98 31.45,276.31 31.90,274.16 32.35,268.16 32.80,266.82 33.25,264.48 33.70,264.67 34.15,265.07 34.60,261.86 35.05,261.11 35.50,257.36 35.95,257.22 36.40,252.19 36.85,251.07 37.30,251.18 37.75,250.74 38.20,248.59 38.65,246.42 39.10,246.98 39.55,246.41 40.00,246.45 40.45,248.82 40.90,245.74 41.35,248.87 41.80,251.68 42.25,250.26 42.70,253.00 43.15,254.72 43.60,253.66 44.05,256.75 44.50,260.04 44.95,257.20 45.40,260.51 45.85,259.20 46.30,262.38 46.75,264.72 47.20,262.21 47.65,262.09 48.10,263.27 48.55,266.29 49.00,264.68 49.45,265.91 49.90,268.78 50.35,271.72 50.80,270.32 51.25,271.28 51.70,273.49 52.15,271.93 52.60,275.27 53.05,274.32 53.50,277.41 53.95,280.09 54.40,277.19 54.85,281.10 55.30,282.84 55.75,282.09 56.20,284.04 56.65,288.91 57.10,290.14 57.55,287.06 58.00,290.99 58.45,293.29 58.90,291.01 59.35,294.04 59.80,292.54 60.25,295.32 60.70,298.04 61.15,299.49 61.50,300.50" fill="#000" stroke="none" stroke-width="0.8" />
<polyline points="24.40,300.50 26.00,285.00 27.60,270.00 29.00,258.00 30.50,251.00 31.50,253.00 32.50,250.00 33.50,252.00 34.50,249.50 35.50,252.00 36.50,250.50 37.50,253.00 38.50,251.00 39.50,253.00 40.50,251.00 41.40,254.00 43.00,259.00 45.00,265.00 47.50,271.00 50.00,276.50 52.20,281.70 54.50,287.00 56.80,292.50 58.50,297.00 59.90,300.50" fill="none" stroke="#666" stroke-width="1.1" stroke-linejoin="round" />
<polyline points="23.10,300.50 24.50,288.00 26.00,273.00 27.50,260.00 29.00,251.60 30.00,250.00 31.00,252.50 32.00,249.80 33.00,251.00 34.00,250.50 35.20,256.00 36.50,266.00 38.00,278.00 39.50,288.00 41.00,296.00 42.50,300.50" fill="none" stroke="#444" stroke-width="0.7" stroke-linejoin="round" />
<rect x="13.8" y="242.3" width="60.2" height="58.19999999999999" fill="none" stroke="#666" stroke-width="0.9"/>
<polygon points="95.00,300.50 95.00,300.50 95.45,298.93 95.90,297.98 96.35,298.06 96.80,294.85 97.25,293.64 97.70,292.58 98.15,289.54 98.60,289.05 99.05,287.72 99.50,286.57 99.95,282.33 100.40,281.81 100.85,279.61 101.30,281.13 101.75,279.30 102.20,275.32 102.65,277.72 103.10,276.28 103.55,273.79 104.00,273.42 104.45,271.37 104.90,270.59 105.35,272.43 105.80,270.33 106.25,270.80 106.70,271.09 107.15,270.32 107.60,272.13 108.05,272.12 108.50,273.80 108.95,272.59 109.40,273.22 109.85,272.81 110.30,273.60 110.75,272.93 111.20,272.35 111.65,275.38 112.10,275.55 112.55,275.22 113.00,274.98 113.45,273.70 113.90,273.64 114.35,274.17 114.80,273.59 115.25,276.75 115.70,275.85 116.15,278.20 116.60,276.92 117.05,279.77 117.50,279.89 117.95,277.16 118.40,278.65 118.85,282.10 119.30,281.00 119.75,283.70 120.20,282.12 120.65,281.56 121.10,284.53 121.55,285.87 122.00,284.58 122.45,284.60 122.90,286.33 123.35,289.61 123.80,289.53 124.25,287.72 124.70,288.82 125.15,288.75 125.60,289.09 126.05,292.55 126.50,290.58 126.95,292.62 127.40,292.68 127.85,292.16 128.30,294.83 128.75,292.94 129.20,295.50 129.65,293.90 130.10,295.63 130.55,295.28 131.00,295.78 131.45,298.85 131.90,298.45 132.35,296.73 132.80,299.32 133.25,296.89 133.70,297.90 134.15,300.00 134.60,299.41 135.05,297.50 135.50,300.50 135.95,299.61 136.40,299.87 136.85,300.13 137.30,300.39 137.50,300.50" fill="#000" stroke="none" stroke-width="0.8" />
<polyline points="90.40,300.50 91.50,285.00 92.30,268.00 93.00,255.00 93.60,249.00 94.30,254.00 95.20,262.00 96.20,266.00 97.50,270.00 99.00,271.50 100.50,271.00 102.70,272.50 105.00,273.50 108.10,275.50 110.50,280.00 113.50,286.40 116.50,292.00 119.70,297.20 121.00,300.50" fill="none" stroke="#666" stroke-width="1.1" stroke-linejoin="round" />
<polyline points="87.30,300.50 88.80,290.00 90.20,275.00 91.60,260.00 92.70,250.00 93.50,247.00 94.40,252.00 95.80,260.00 97.50,268.00 99.40,274.00 101.20,278.60 103.50,290.00 105.80,300.50" fill="none" stroke="#444" stroke-width="0.7" stroke-linejoin="round" />
<rect x="79.5" y="242.3" width="60.30000000000001" height="58.19999999999999" fill="none" stroke="#666" stroke-width="0.9"/>
<polygon points="160.20,300.50 160.20,300.50 160.65,297.75 161.10,298.20 161.55,296.59 162.00,295.79 162.45,291.01 162.90,289.63 163.35,287.61 163.80,286.21 164.25,286.87 164.70,282.20 165.15,282.35 165.60,279.33 166.05,278.25 166.50,277.45 166.95,277.93 167.40,275.63 167.85,271.90 168.30,272.27 168.75,270.77 169.20,273.37 169.65,272.13 170.10,271.03 170.55,270.06 171.00,268.59 171.45,268.49 171.90,266.71 172.35,263.23 172.80,265.18 173.25,262.54 173.70,262.92 174.15,261.11 174.60,259.56 175.05,258.50 175.50,258.36 175.95,257.95 176.40,257.64 176.85,261.63 177.30,262.15 177.75,263.79 178.20,263.21 178.65,263.39 179.10,265.15 179.55,263.05 180.00,266.61 180.45,266.44 180.90,266.12 181.35,267.19 181.80,269.68 182.25,269.44 182.70,271.56 183.15,273.38 183.60,273.50 184.05,273.35 184.50,276.17 184.95,276.02 185.40,277.10 185.85,277.98 186.30,279.88 186.75,279.54 187.20,283.37 187.65,285.88 188.10,284.23 188.55,286.86 189.00,288.73 189.45,285.04 189.90,286.09 190.35,289.86 190.80,290.59 191.25,290.21 191.70,288.48 192.15,290.26 192.60,292.97 193.05,293.58 193.50,293.71 193.95,291.35 194.40,295.00 194.85,293.22 195.30,295.29 195.75,292.88 196.20,297.26 196.65,295.87 197.10,296.82 197.55,294.74 198.00,297.06 198.45,297.20 198.90,297.56 199.35,296.75 199.80,298.83 200.25,297.29 200.70,297.37 201.15,297.06 201.60,299.90 202.05,297.50 202.50,299.72 202.95,300.07 203.40,300.42 203.50,300.50" fill="#000" stroke="none" stroke-width="0.8" />
<polyline points="157.10,300.50 158.30,285.00 159.50,271.00 160.30,262.00 161.00,255.50 162.00,249.00 162.90,246.20 163.90,247.50 164.90,249.30 165.60,256.00 166.40,263.20 167.50,273.00 168.70,283.30 170.00,288.00 171.80,289.00 173.30,292.00 174.90,293.30 176.50,297.00 178.00,300.50" fill="none" stroke="#666" stroke-width="1.1" stroke-linejoin="round" />
<polyline points="157.40,300.50 158.60,285.00 159.80,271.00 160.60,262.00 161.30,255.50 162.30,249.00 163.20,246.20 164.20,247.50 165.20,249.30 165.90,256.00 166.70,263.20 167.80,273.00 169.00,283.30 170.30,288.00 172.10,289.00 173.60,292.00 175.20,293.30 176.80,297.00 178.30,300.50" fill="none" stroke="#444" stroke-width="0.7" stroke-linejoin="round" />
<rect x="145.9" y="242.3" width="58.69999999999999" height="58.19999999999999" fill="none" stroke="#666" stroke-width="0.9"/>
<line x1="14.6" y1="218.7" x2="14.6" y2="219.6" stroke="#555" stroke-width="0.4" />
<line x1="17.43" y1="218.7" x2="17.43" y2="219.6" stroke="#555" stroke-width="0.4" />
<line x1="20.259999999999998" y1="218.7" x2="20.259999999999998" y2="219.6" stroke="#555" stroke-width="0.4" />
<line x1="23.09" y1="218.7" x2="23.09" y2="219.6" stroke="#555" stroke-width="0.4" />
<line x1="25.92" y1="218.7" x2="25.92" y2="219.6" stroke="#555" stroke-width="0.4" />
<line x1="28.75" y1="218.7" x2="28.75" y2="219.6" stroke="#555" stroke-width="0.4" />
<line x1="31.58" y1="218.7" x2="31.58" y2="219.6" stroke="#555" stroke-width="0.4" />
<line x1="34.41" y1="218.7" x2="34.41" y2="219.6" stroke="#555" stroke-width="0.4" />
<line x1="37.24" y1="218.7" x2="37.24" y2="219.6" stroke="#555" stroke-width="0.4" />
<line x1="40.07" y1="218.7" x2="40.07" y2="219.6" stroke="#555" stroke-width="0.4" />
<line x1="42.9" y1="218.7" x2="42.9" y2="219.6" stroke="#555" stroke-width="0.4" />
<line x1="45.730000000000004" y1="218.7" x2="45.730000000000004" y2="219.6" stroke="#555" stroke-width="0.4" />
<line x1="48.56" y1="218.7" x2="48.56" y2="219.6" stroke="#555" stroke-width="0.4" />
<line x1="51.39000000000001" y1="218.7" x2="51.39000000000001" y2="219.6" stroke="#555" stroke-width="0.4" />
<line x1="54.22" y1="218.7" x2="54.22" y2="219.6" stroke="#555" stroke-width="0.4" />
<line x1="57.050000000000004" y1="218.7" x2="57.050000000000004" y2="219.6" stroke="#555" stroke-width="0.4" />
<line x1="59.88" y1="218.7" x2="59.88" y2="219.6" stroke="#555" stroke-width="0.4" />
<line x1="62.71" y1="218.7" x2="62.71" y2="219.6" stroke="#555" stroke-width="0.4" />
<line x1="65.54" y1="218.7" x2="65.54" y2="219.6" stroke="#555" stroke-width="0.4" />
<line x1="68.37" y1="218.7" x2="68.37" y2="219.6" stroke="#555" stroke-width="0.4" />
<line x1="71.2" y1="218.7" x2="71.2" y2="219.6" stroke="#555" stroke-width="0.4" />
<text x="14.6" y="222.9" font-size="3.0" text-anchor="middle" font-weight="normal" fill="#222" >0</text>
<text x="25.92" y="222.9" font-size="3.0" text-anchor="middle" font-weight="normal" fill="#222" >200</text>
<text x="37.24" y="222.9" font-size="3.0" text-anchor="middle" font-weight="normal" fill="#222" >400</text>
<text x="48.56" y="222.9" font-size="3.0" text-anchor="middle" font-weight="normal" fill="#222" >600</text>
<text x="59.88" y="222.9" font-size="3.0" text-anchor="middle" font-weight="normal" fill="#222" >800</text>
<text x="71.2" y="222.9" font-size="3.0" text-anchor="middle" font-weight="normal" fill="#222" >1000</text>
<line x1="80.3" y1="218.7" x2="80.3" y2="219.6" stroke="#555" stroke-width="0.4" />
<line x1="83.16499999999999" y1="218.7" x2="83.16499999999999" y2="219.6" stroke="#555" stroke-width="0.4" />
<line x1="86.03" y1="218.7" x2="86.03" y2="219.6" stroke="#555" stroke-width="0.4" />
<line x1="88.895" y1="218.7" x2="88.895" y2="219.6" stroke="#555" stroke-width="0.4" />
<line x1="91.75999999999999" y1="218.7" x2="91.75999999999999" y2="219.6" stroke="#555" stroke-width="0.4" />
<line x1="94.625" y1="218.7" x2="94.625" y2="219.6" stroke="#555" stroke-width="0.4" />
<line x1="97.49" y1="218.7" x2="97.49" y2="219.6" stroke="#555" stroke-width="0.4" />
<line x1="100.35499999999999" y1="218.7" x2="100.35499999999999" y2="219.6" stroke="#555" stroke-width="0.4" />
<line x1="103.22" y1="218.7" x2="103.22" y2="219.6" stroke="#555" stroke-width="0.4" />
<line x1="106.085" y1="218.7" x2="106.085" y2="219.6" stroke="#555" stroke-width="0.4" />
<line x1="108.94999999999999" y1="218.7" x2="108.94999999999999" y2="219.6" stroke="#555" stroke-width="0.4" />
<line x1="111.815" y1="218.7" x2="111.815" y2="219.6" stroke="#555" stroke-width="0.4" />
<line x1="114.67999999999999" y1="218.7" x2="114.67999999999999" y2="219.6" stroke="#555" stroke-width="0.4" />
<line x1="117.54499999999999" y1="218.7" x2="117.54499999999999" y2="219.6" stroke="#555" stroke-width="0.4" />
<line x1="120.41" y1="218.7" x2="120.41" y2="219.6" stroke="#555" stroke-width="0.4" />
<line x1="123.275" y1="218.7" x2="123.275" y2="219.6" stroke="#555" stroke-width="0.4" />
<line x1="126.13999999999999" y1="218.7" x2="126.13999999999999" y2="219.6" stroke="#555" stroke-width="0.4" />
<line x1="129.005" y1="218.7" x2="129.005" y2="219.6" stroke="#555" stroke-width="0.4" />
<line x1="131.87" y1="218.7" x2="131.87" y2="219.6" stroke="#555" stroke-width="0.4" />
<line x1="134.735" y1="218.7" x2="134.735" y2="219.6" stroke="#555" stroke-width="0.4" />
<line x1="137.6" y1="218.7" x2="137.6" y2="219.6" stroke="#555" stroke-width="0.4" />
<text x="80.3" y="222.9" font-size="3.0" text-anchor="middle" font-weight="normal" fill="#222" >0</text>
<text x="91.75999999999999" y="222.9" font-size="3.0" text-anchor="middle" font-weight="normal" fill="#222" >200</text>
<text x="103.22" y="222.9" font-size="3.0" text-anchor="middle" font-weight="normal" fill="#222" >400</text>
<text x="114.67999999999999" y="222.9" font-size="3.0" text-anchor="middle" font-weight="normal" fill="#222" >600</text>
<text x="126.13999999999999" y="222.9" font-size="3.0" text-anchor="middle" font-weight="normal" fill="#222" >800</text>
<text x="137.6" y="222.9" font-size="3.0" text-anchor="middle" font-weight="normal" fill="#222" >1000</text>
<line x1="146.4" y1="218.7" x2="146.4" y2="219.6" stroke="#555" stroke-width="0.4" />
<line x1="149.22" y1="218.7" x2="149.22" y2="219.6" stroke="#555" stroke-width="0.4" />
<line x1="152.04000000000002" y1="218.7" x2="152.04000000000002" y2="219.6" stroke="#555" stroke-width="0.4" />
<line x1="154.86" y1="218.7" x2="154.86" y2="219.6" stroke="#555" stroke-width="0.4" />
<line x1="157.68" y1="218.7" x2="157.68" y2="219.6" stroke="#555" stroke-width="0.4" />
<line x1="160.5" y1="218.7" x2="160.5" y2="219.6" stroke="#555" stroke-width="0.4" />
<line x1="163.32" y1="218.7" x2="163.32" y2="219.6" stroke="#555" stroke-width="0.4" />
<line x1="166.14000000000001" y1="218.7" x2="166.14000000000001" y2="219.6" stroke="#555" stroke-width="0.4" />
<line x1="168.96" y1="218.7" x2="168.96" y2="219.6" stroke="#555" stroke-width="0.4" />
<line x1="171.78" y1="218.7" x2="171.78" y2="219.6" stroke="#555" stroke-width="0.4" />
<line x1="174.6" y1="218.7" x2="174.6" y2="219.6" stroke="#555" stroke-width="0.4" />
<line x1="177.42000000000002" y1="218.7" x2="177.42000000000002" y2="219.6" stroke="#555" stroke-width="0.4" />
<line x1="180.24" y1="218.7" x2="180.24" y2="219.6" stroke="#555" stroke-width="0.4" />
<line x1="183.06" y1="218.7" x2="183.06" y2="219.6" stroke="#555" stroke-width="0.4" />
<line x1="185.88" y1="218.7" x2="185.88" y2="219.6" stroke="#555" stroke-width="0.4" />
<line x1="188.70000000000002" y1="218.7" x2="188.70000000000002" y2="219.6" stroke="#555" stroke-width="0.4" />
<line x1="191.52" y1="218.7" x2="191.52" y2="219.6" stroke="#555" stroke-width="0.4" />
<line x1="194.34" y1="218.7" x2="194.34" y2="219.6" stroke="#555" stroke-width="0.4" />
<line x1="197.16000000000003" y1="218.7" x2="197.16000000000003" y2="219.6" stroke="#555" stroke-width="0.4" />
<line x1="199.98000000000002" y1="218.7" x2="199.98000000000002" y2="219.6" stroke="#555" stroke-width="0.4" />
<line x1="202.8" y1="218.7" x2="202.8" y2="219.6" stroke="#555" stroke-width="0.4" />
<text x="146.4" y="222.9" font-size="3.0" text-anchor="middle" font-weight="normal" fill="#222" >0</text>
<text x="157.68" y="222.9" font-size="3.0" text-anchor="middle" font-weight="normal" fill="#222" >200</text>
<text x="168.96" y="222.9" font-size="3.0" text-anchor="middle" font-weight="normal" fill="#222" >400</text>
<text x="180.24" y="222.9" font-size="3.0" text-anchor="middle" font-weight="normal" fill="#222" >600</text>
<text x="191.52" y="222.9" font-size="3.0" text-anchor="middle" font-weight="normal" fill="#222" >800</text>
<text x="202.8" y="222.9" font-size="3.0" text-anchor="middle" font-weight="normal" fill="#222" >1000</text>
<line x1="15.1" y1="300.5" x2="15.1" y2="301.4" stroke="#555" stroke-width="0.4" />
<line x1="17.845" y1="300.5" x2="17.845" y2="301.4" stroke="#555" stroke-width="0.4" />
<line x1="20.59" y1="300.5" x2="20.59" y2="301.4" stroke="#555" stroke-width="0.4" />
<line x1="23.335" y1="300.5" x2="23.335" y2="301.4" stroke="#555" stroke-width="0.4" />
<line x1="26.08" y1="300.5" x2="26.08" y2="301.4" stroke="#555" stroke-width="0.4" />
<line x1="28.825" y1="300.5" x2="28.825" y2="301.4" stroke="#555" stroke-width="0.4" />
<line x1="31.57" y1="300.5" x2="31.57" y2="301.4" stroke="#555" stroke-width="0.4" />
<line x1="34.315" y1="300.5" x2="34.315" y2="301.4" stroke="#555" stroke-width="0.4" />
<line x1="37.06" y1="300.5" x2="37.06" y2="301.4" stroke="#555" stroke-width="0.4" />
<line x1="39.805" y1="300.5" x2="39.805" y2="301.4" stroke="#555" stroke-width="0.4" />
<line x1="42.55" y1="300.5" x2="42.55" y2="301.4" stroke="#555" stroke-width="0.4" />
<line x1="45.295" y1="300.5" x2="45.295" y2="301.4" stroke="#555" stroke-width="0.4" />
<line x1="48.04" y1="300.5" x2="48.04" y2="301.4" stroke="#555" stroke-width="0.4" />
<line x1="50.785" y1="300.5" x2="50.785" y2="301.4" stroke="#555" stroke-width="0.4" />
<line x1="53.53" y1="300.5" x2="53.53" y2="301.4" stroke="#555" stroke-width="0.4" />
<line x1="56.275" y1="300.5" x2="56.275" y2="301.4" stroke="#555" stroke-width="0.4" />
<line x1="59.02" y1="300.5" x2="59.02" y2="301.4" stroke="#555" stroke-width="0.4" />
<line x1="61.765" y1="300.5" x2="61.765" y2="301.4" stroke="#555" stroke-width="0.4" />
<line x1="64.50999999999999" y1="300.5" x2="64.50999999999999" y2="301.4" stroke="#555" stroke-width="0.4" />
<line x1="67.255" y1="300.5" x2="67.255" y2="301.4" stroke="#555" stroke-width="0.4" />
<line x1="70.0" y1="300.5" x2="70.0" y2="301.4" stroke="#555" stroke-width="0.4" />
<text x="15.1" y="306.0" font-size="3.0" text-anchor="middle" font-weight="normal" fill="#222" >0</text>
<text x="26.08" y="306.0" font-size="3.0" text-anchor="middle" font-weight="normal" fill="#222" >200</text>
<text x="37.06" y="306.0" font-size="3.0" text-anchor="middle" font-weight="normal" fill="#222" >400</text>
<text x="48.04" y="306.0" font-size="3.0" text-anchor="middle" font-weight="normal" fill="#222" >600</text>
<text x="59.02" y="306.0" font-size="3.0" text-anchor="middle" font-weight="normal" fill="#222" >800</text>
<text x="70.0" y="306.0" font-size="3.0" text-anchor="middle" font-weight="normal" fill="#222" >1000</text>
<line x1="80.8" y1="300.5" x2="80.8" y2="301.4" stroke="#555" stroke-width="0.4" />
<line x1="83.55499999999999" y1="300.5" x2="83.55499999999999" y2="301.4" stroke="#555" stroke-width="0.4" />
<line x1="86.31" y1="300.5" x2="86.31" y2="301.4" stroke="#555" stroke-width="0.4" />
<line x1="89.065" y1="300.5" x2="89.065" y2="301.4" stroke="#555" stroke-width="0.4" />
<line x1="91.82" y1="300.5" x2="91.82" y2="301.4" stroke="#555" stroke-width="0.4" />
<line x1="94.575" y1="300.5" x2="94.575" y2="301.4" stroke="#555" stroke-width="0.4" />
<line x1="97.33" y1="300.5" x2="97.33" y2="301.4" stroke="#555" stroke-width="0.4" />
<line x1="100.08500000000001" y1="300.5" x2="100.08500000000001" y2="301.4" stroke="#555" stroke-width="0.4" />
<line x1="102.84" y1="300.5" x2="102.84" y2="301.4" stroke="#555" stroke-width="0.4" />
<line x1="105.595" y1="300.5" x2="105.595" y2="301.4" stroke="#555" stroke-width="0.4" />
<line x1="108.35" y1="300.5" x2="108.35" y2="301.4" stroke="#555" stroke-width="0.4" />
<line x1="111.105" y1="300.5" x2="111.105" y2="301.4" stroke="#555" stroke-width="0.4" />
<line x1="113.86" y1="300.5" x2="113.86" y2="301.4" stroke="#555" stroke-width="0.4" />
<line x1="116.61500000000001" y1="300.5" x2="116.61500000000001" y2="301.4" stroke="#555" stroke-width="0.4" />
<line x1="119.37" y1="300.5" x2="119.37" y2="301.4" stroke="#555" stroke-width="0.4" />
<line x1="122.125" y1="300.5" x2="122.125" y2="301.4" stroke="#555" stroke-width="0.4" />
<line x1="124.88" y1="300.5" x2="124.88" y2="301.4" stroke="#555" stroke-width="0.4" />
<line x1="127.635" y1="300.5" x2="127.635" y2="301.4" stroke="#555" stroke-width="0.4" />
<line x1="130.39000000000001" y1="300.5" x2="130.39000000000001" y2="301.4" stroke="#555" stroke-width="0.4" />
<line x1="133.145" y1="300.5" x2="133.145" y2="301.4" stroke="#555" stroke-width="0.4" />
<line x1="135.9" y1="300.5" x2="135.9" y2="301.4" stroke="#555" stroke-width="0.4" />
<text x="80.8" y="306.0" font-size="3.0" text-anchor="middle" font-weight="normal" fill="#222" >0</text>
<text x="91.82" y="306.0" font-size="3.0" text-anchor="middle" font-weight="normal" fill="#222" >200</text>
<text x="102.84" y="306.0" font-size="3.0" text-anchor="middle" font-weight="normal" fill="#222" >400</text>
<text x="113.86" y="306.0" font-size="3.0" text-anchor="middle" font-weight="normal" fill="#222" >600</text>
<text x="124.88" y="306.0" font-size="3.0" text-anchor="middle" font-weight="normal" fill="#222" >800</text>
<text x="135.9" y="306.0" font-size="3.0" text-anchor="middle" font-weight="normal" fill="#222" >1000</text>
<line x1="147.2" y1="300.5" x2="147.2" y2="301.4" stroke="#555" stroke-width="0.4" />
<line x1="149.95" y1="300.5" x2="149.95" y2="301.4" stroke="#555" stroke-width="0.4" />
<line x1="152.7" y1="300.5" x2="152.7" y2="301.4" stroke="#555" stroke-width="0.4" />
<line x1="155.45" y1="300.5" x2="155.45" y2="301.4" stroke="#555" stroke-width="0.4" />
<line x1="158.2" y1="300.5" x2="158.2" y2="301.4" stroke="#555" stroke-width="0.4" />
<line x1="160.95" y1="300.5" x2="160.95" y2="301.4" stroke="#555" stroke-width="0.4" />
<line x1="163.7" y1="300.5" x2="163.7" y2="301.4" stroke="#555" stroke-width="0.4" />
<line x1="166.45" y1="300.5" x2="166.45" y2="301.4" stroke="#555" stroke-width="0.4" />
<line x1="169.2" y1="300.5" x2="169.2" y2="301.4" stroke="#555" stroke-width="0.4" />
<line x1="171.95" y1="300.5" x2="171.95" y2="301.4" stroke="#555" stroke-width="0.4" />
<line x1="174.7" y1="300.5" x2="174.7" y2="301.4" stroke="#555" stroke-width="0.4" />
<line x1="177.45" y1="300.5" x2="177.45" y2="301.4" stroke="#555" stroke-width="0.4" />
<line x1="180.2" y1="300.5" x2="180.2" y2="301.4" stroke="#555" stroke-width="0.4" />
<line x1="182.95" y1="300.5" x2="182.95" y2="301.4" stroke="#555" stroke-width="0.4" />
<line x1="185.7" y1="300.5" x2="185.7" y2="301.4" stroke="#555" stroke-width="0.4" />
<line x1="188.45" y1="300.5" x2="188.45" y2="301.4" stroke="#555" stroke-width="0.4" />
<line x1="191.2" y1="300.5" x2="191.2" y2="301.4" stroke="#555" stroke-width="0.4" />
<line x1="193.95" y1="300.5" x2="193.95" y2="301.4" stroke="#555" stroke-width="0.4" />
<line x1="196.7" y1="300.5" x2="196.7" y2="301.4" stroke="#555" stroke-width="0.4" />
<line x1="199.45" y1="300.5" x2="199.45" y2="301.4" stroke="#555" stroke-width="0.4" />
<line x1="202.2" y1="300.5" x2="202.2" y2="301.4" stroke="#555" stroke-width="0.4" />
<text x="147.2" y="306.0" font-size="3.0" text-anchor="middle" font-weight="normal" fill="#222" >0</text>
<text x="158.2" y="306.0" font-size="3.0" text-anchor="middle" font-weight="normal" fill="#222" >200</text>
<text x="169.2" y="306.0" font-size="3.0" text-anchor="middle" font-weight="normal" fill="#222" >400</text>
<text x="180.2" y="306.0" font-size="3.0" text-anchor="middle" font-weight="normal" fill="#222" >600</text>
<text x="191.2" y="306.0" font-size="3.0" text-anchor="middle" font-weight="normal" fill="#222" >800</text>
<text x="202.2" y="306.0" font-size="3.0" text-anchor="middle" font-weight="normal" fill="#222" >1000</text>
<text x="15.9" y="164.3" font-size="5.0" text-anchor="start" font-weight="normal" fill="#222" >MFI:</text>
<line x1="15.9" y1="168.8" x2="23.7" y2="168.8" stroke="#888" stroke-width="0.7" />
<text x="25.3" y="170.60000000000002" font-size="5.3" text-anchor="start" font-weight="normal" fill="#111" >380</text>
<line x1="15.9" y1="174.10000000000002" x2="23.7" y2="174.10000000000002" stroke="#555" stroke-width="1.1" />
<text x="25.3" y="175.90000000000003" font-size="5.3" text-anchor="start" font-weight="normal" fill="#111" >429</text>
<rect x="15.9" y="178.30000000000004" width="8.2" height="3.4" fill="#000" stroke="none" stroke-width="0"/>
<text x="25.3" y="181.90000000000003" font-size="5.3" text-anchor="start" font-weight="normal" fill="#111" >504</text>
<text x="119.8" y="163.6" font-size="5.0" text-anchor="start" font-weight="normal" fill="#222" >MFI:</text>
<line x1="119.8" y1="166.99999999999997" x2="127.6" y2="166.99999999999997" stroke="#888" stroke-width="0.7" />
<text x="129.2" y="168.79999999999998" font-size="5.3" text-anchor="start" font-weight="normal" fill="#111" >420</text>
<line x1="119.8" y1="172.59999999999997" x2="127.6" y2="172.59999999999997" stroke="#555" stroke-width="1.1" />
<text x="129.2" y="174.39999999999998" font-size="5.3" text-anchor="start" font-weight="normal" fill="#111" >619</text>
<rect x="119.8" y="176.39999999999998" width="8.2" height="3.4" fill="#000" stroke="none" stroke-width="0"/>
<text x="129.2" y="179.99999999999997" font-size="5.3" text-anchor="start" font-weight="normal" fill="#111" >661</text>
<text x="184.2" y="164.5" font-size="5.0" text-anchor="start" font-weight="normal" fill="#222" >MFI:</text>
<line x1="184.2" y1="168.0" x2="192.0" y2="168.0" stroke="#555" stroke-width="1.1" />
<text x="193.6" y="169.8" font-size="5.3" text-anchor="start" font-weight="normal" fill="#111" >336</text>
<rect x="184.2" y="172.10000000000002" width="8.2" height="3.4" fill="#000" stroke="none" stroke-width="0"/>
<text x="193.6" y="175.70000000000002" font-size="5.3" text-anchor="start" font-weight="normal" fill="#111" >672</text>
<text x="53.8" y="246.5" font-size="5.0" text-anchor="start" font-weight="normal" fill="#222" >MFI:</text>
<line x1="53.8" y1="250.29999999999998" x2="61.599999999999994" y2="250.29999999999998" stroke="#888" stroke-width="0.7" />
<text x="63.199999999999996" y="252.1" font-size="5.3" text-anchor="start" font-weight="normal" fill="#111" >510</text>
<line x1="53.8" y1="255.89999999999998" x2="61.599999999999994" y2="255.89999999999998" stroke="#555" stroke-width="1.1" />
<text x="63.199999999999996" y="257.7" font-size="5.3" text-anchor="start" font-weight="normal" fill="#111" >574</text>
<rect x="53.8" y="259.4" width="8.2" height="3.4" fill="#000" stroke="none" stroke-width="0"/>
<text x="63.199999999999996" y="263.0" font-size="5.3" text-anchor="start" font-weight="normal" fill="#111" >665</text>
<text x="120.2" y="246.5" font-size="5.0" text-anchor="start" font-weight="normal" fill="#222" >MFI:</text>
<line x1="120.2" y1="250.29999999999998" x2="128.0" y2="250.29999999999998" stroke="#888" stroke-width="0.7" />
<text x="129.6" y="252.1" font-size="5.3" text-anchor="start" font-weight="normal" fill="#111" >256</text>
<line x1="120.2" y1="255.89999999999998" x2="128.0" y2="255.89999999999998" stroke="#555" stroke-width="1.1" />
<text x="129.6" y="257.7" font-size="5.3" text-anchor="start" font-weight="normal" fill="#111" >414</text>
<rect x="120.2" y="259.4" width="8.2" height="3.4" fill="#000" stroke="none" stroke-width="0"/>
<text x="129.6" y="263.0" font-size="5.3" text-anchor="start" font-weight="normal" fill="#111" >536</text>
<text x="185.4" y="246.5" font-size="5.0" text-anchor="start" font-weight="normal" fill="#222" >MFI:</text>
<line x1="185.4" y1="250.0" x2="193.20000000000002" y2="250.0" stroke="#555" stroke-width="1.1" />
<text x="194.8" y="251.8" font-size="5.3" text-anchor="start" font-weight="normal" fill="#111" >311</text>
<rect x="185.4" y="254.1" width="8.2" height="3.4" fill="#000" stroke="none" stroke-width="0"/>
<text x="194.8" y="257.7" font-size="5.3" text-anchor="start" font-weight="normal" fill="#111" >527</text>
<line x1="10.4" y1="161.6" x2="10.4" y2="219.0" stroke="#bbb" stroke-width="0.5" />
<polygon points="10.40,159.60 9.32,162.12 11.48,162.12" fill="#111" stroke="none" stroke-width="0.8" />
<line x1="10.4" y1="244.5" x2="10.4" y2="301.0" stroke="#bbb" stroke-width="0.5" />
<polygon points="10.40,242.50 9.32,245.02 11.48,245.02" fill="#111" stroke="none" stroke-width="0.8" />
<text transform="translate(7.9,196.3) rotate(-90)" font-size="6.2" text-anchor="middle" fill="#111">Relative cell count</text>
<text transform="translate(7.9,278.0) rotate(-90)" font-size="6.2" text-anchor="middle" fill="#111">Relative cell count</text>
<line x1="13.8" y1="228.0" x2="203" y2="228.0" stroke="#777" stroke-width="1.1" />
<polygon points="206.20,228.00 202.98,226.62 202.98,229.38" fill="#111" stroke="none" stroke-width="0.8" />
<line x1="13.8" y1="309.8" x2="203" y2="309.8" stroke="#777" stroke-width="1.1" />
<polygon points="206.20,309.80 202.98,308.42 202.98,311.18" fill="#111" stroke="none" stroke-width="0.8" />
<text x="15" y="236.0" font-size="7.4" text-anchor="start" font-weight="normal" fill="#111" >FSC</text>
<text x="15" y="317.3" font-size="7.4" text-anchor="start" font-weight="normal" fill="#111" >SSC</text>
<line x1="212.0" y1="167.0" x2="219.5" y2="167.0" stroke="#444" stroke-width="0.8" />
<text x="222.2" y="169.1" font-size="7.2" text-anchor="start" font-weight="normal" fill="#111" >Medium</text>
<line x1="212.0" y1="176.7" x2="219.5" y2="176.7" stroke="#555" stroke-width="1.5" />
<text x="222.2" y="178.9" font-size="7.2" text-anchor="start" font-weight="normal" fill="#111" >CD8<tspan font-size="4.7" dy="-2.4">IL-15</tspan></text>
<rect x="212.4" y="184.4" width="7.6" height="6.5" fill="#000" stroke="none" stroke-width="0"/>
<text x="222.2" y="189.4" font-size="7.2" text-anchor="start" font-weight="normal" fill="#111" >CD8<tspan font-size="4.7" dy="-2.4">IL-2</tspan></text>
<line x1="27.2" y1="337.2" x2="27.2" y2="408.0" stroke="#111" stroke-width="0.8" />
<line x1="27.2" y1="407.9" x2="187.5" y2="407.9" stroke="#111" stroke-width="0.8" />
<line x1="25.8" y1="407.7" x2="27.2" y2="407.7" stroke="#111" stroke-width="0.6" />
<text x="25.2" y="409.7" font-size="5.9" text-anchor="end" font-weight="normal" fill="#111" >0</text>
<line x1="25.8" y1="393.84999999999997" x2="27.2" y2="393.84999999999997" stroke="#111" stroke-width="0.6" />
<text x="25.2" y="395.84999999999997" font-size="5.9" text-anchor="end" font-weight="normal" fill="#111" >0.5</text>
<line x1="25.8" y1="380.0" x2="27.2" y2="380.0" stroke="#111" stroke-width="0.6" />
<text x="25.2" y="382.0" font-size="5.9" text-anchor="end" font-weight="normal" fill="#111" >1.0</text>
<line x1="25.8" y1="366.15" x2="27.2" y2="366.15" stroke="#111" stroke-width="0.6" />
<text x="25.2" y="368.15" font-size="5.9" text-anchor="end" font-weight="normal" fill="#111" >1.5</text>
<line x1="25.8" y1="352.3" x2="27.2" y2="352.3" stroke="#111" stroke-width="0.6" />
<text x="25.2" y="354.3" font-size="5.9" text-anchor="end" font-weight="normal" fill="#111" >2.0</text>
<line x1="25.8" y1="338.45" x2="27.2" y2="338.45" stroke="#111" stroke-width="0.6" />
<text x="25.2" y="340.45" font-size="5.9" text-anchor="end" font-weight="normal" fill="#111" >2.5</text>
<line x1="81.4" y1="407.9" x2="81.4" y2="409.5" stroke="#111" stroke-width="0.6" />
<line x1="132.5" y1="407.9" x2="132.5" y2="409.5" stroke="#111" stroke-width="0.6" />
<rect x="36.4" y="366.15" width="11.8" height="41.55" fill="#fff" stroke="#111" stroke-width="0.7"/>
<rect x="48.2" y="354.51599999999996" width="11.7" height="53.184" fill="#b5b5b5" stroke="#111" stroke-width="0.7"/>
<rect x="59.9" y="366.15" width="11.6" height="41.55" fill="#222" stroke="#111" stroke-width="0.7"/>
<line x1="42.3" y1="363.0" x2="42.3" y2="368.8" stroke="#333" stroke-width="0.7" />
<line x1="41.099999999999994" y1="363.0" x2="43.5" y2="363.0" stroke="#333" stroke-width="0.7" />
<line x1="41.099999999999994" y1="368.8" x2="43.5" y2="368.8" stroke="#333" stroke-width="0.7" />
<line x1="54.0" y1="340.9" x2="54.0" y2="368.4" stroke="#333" stroke-width="0.7" />
<line x1="52.8" y1="340.9" x2="55.2" y2="340.9" stroke="#333" stroke-width="0.7" />
<line x1="52.8" y1="368.4" x2="55.2" y2="368.4" stroke="#333" stroke-width="0.7" />
<line x1="65.7" y1="360.5" x2="65.7" y2="371.5" stroke="#333" stroke-width="0.7" />
<line x1="64.5" y1="360.5" x2="66.9" y2="360.5" stroke="#333" stroke-width="0.7" />
<line x1="64.5" y1="371.5" x2="66.9" y2="371.5" stroke="#333" stroke-width="0.7" />
<rect x="89.3" y="399.39" width="11.8" height="8.309999999999999" fill="#fff" stroke="#111" stroke-width="0.7"/>
<rect x="101.1" y="374.46" width="11.8" height="33.239999999999995" fill="#b5b5b5" stroke="#111" stroke-width="0.7"/>
<rect x="112.9" y="352.3" width="11.8" height="55.4" fill="#222" stroke="#111" stroke-width="0.7"/>
<line x1="95.2" y1="396.5" x2="95.2" y2="402.2" stroke="#333" stroke-width="0.7" />
<line x1="94.0" y1="396.5" x2="96.4" y2="396.5" stroke="#333" stroke-width="0.7" />
<line x1="94.0" y1="402.2" x2="96.4" y2="402.2" stroke="#333" stroke-width="0.7" />
<line x1="107.0" y1="368.4" x2="107.0" y2="380.0" stroke="#333" stroke-width="0.7" />
<line x1="105.8" y1="368.4" x2="108.2" y2="368.4" stroke="#333" stroke-width="0.7" />
<line x1="105.8" y1="380.0" x2="108.2" y2="380.0" stroke="#333" stroke-width="0.7" />
<line x1="118.8" y1="346.0" x2="118.8" y2="352.0" stroke="#333" stroke-width="0.7" />
<line x1="117.6" y1="346.0" x2="120.0" y2="346.0" stroke="#333" stroke-width="0.7" />
<line x1="117.6" y1="352.0" x2="120.0" y2="352.0" stroke="#333" stroke-width="0.7" />
<rect x="154.3" y="391.08" width="11.9" height="16.619999999999997" fill="#b5b5b5" stroke="#111" stroke-width="0.7"/>
<rect x="166.2" y="363.38" width="12.0" height="44.32" fill="#222" stroke="#111" stroke-width="0.7"/>
<line x1="160.2" y1="387.6" x2="160.2" y2="394.5" stroke="#333" stroke-width="0.7" />
<line x1="159.0" y1="387.6" x2="161.39999999999998" y2="387.6" stroke="#333" stroke-width="0.7" />
<line x1="159.0" y1="394.5" x2="161.39999999999998" y2="394.5" stroke="#333" stroke-width="0.7" />
<line x1="172.2" y1="360.0" x2="172.2" y2="366.0" stroke="#333" stroke-width="0.7" />
<line x1="171.0" y1="360.0" x2="173.39999999999998" y2="360.0" stroke="#333" stroke-width="0.7" />
<line x1="171.0" y1="366.0" x2="173.39999999999998" y2="366.0" stroke="#333" stroke-width="0.7" />
<text x="52.8" y="414.8" font-size="5.9" text-anchor="middle" font-weight="normal" fill="#111" >24</text>
<text x="105.6" y="414.8" font-size="5.9" text-anchor="middle" font-weight="normal" fill="#111" >48</text>
<text x="160.6" y="414.8" font-size="5.9" text-anchor="middle" font-weight="normal" fill="#111" >72</text>
<text x="107.5" y="423.4" font-size="5.9" text-anchor="middle" font-weight="normal" fill="#111" >Hours</text>
<rect x="66.8" y="333.6" width="2.9" height="3.6" fill="#fff" stroke="#111" stroke-width="0.6"/>
<text x="71.5" y="337.6" font-size="6.0" text-anchor="start" font-weight="normal" fill="#111" >Medium</text>
<rect x="66.8" y="341.2" width="2.9" height="3.8" fill="#b5b5b5" stroke="#111" stroke-width="0.6"/>
<text x="71.5" y="345.2" font-size="6.0" text-anchor="start" font-weight="normal" fill="#111" >CD8 <tspan font-size="4.1" dy="-2.2">IL-15</tspan></text>
<rect x="66.8" y="349.2" width="2.9" height="3.8" fill="#222" stroke="#111" stroke-width="0.6"/>
<text x="71.5" y="353.2" font-size="6.0" text-anchor="start" font-weight="normal" fill="#111" >CD8 <tspan font-size="4.1" dy="-2.2">IL-2</tspan></text>
<text transform="translate(13.0,374.5) rotate(-90)" font-size="5.9" text-anchor="middle" fill="#111">Protein (mg/10 <tspan font-size="3.8" dy="-2.1">6</tspan><tspan dy="2.1"> cells)</tspan></text>
<text x="360" y="187.5" font-size="6.55" text-anchor="start" font-weight="normal" fill="#111" >Washout IL-15 add</text>
<text x="360" y="195.2" font-size="6.55" text-anchor="start" font-weight="normal" fill="#111" >IL-2 for 48h</text>
<text x="360" y="289.6" font-size="6.55" text-anchor="start" font-weight="normal" fill="#111" >Continue to maintain in</text>
<text x="360" y="297.9" font-size="6.55" text-anchor="start" font-weight="normal" fill="#111" >IL-15 for 48h</text>
<text x="360" y="380.6" font-size="6.55" text-anchor="start" font-weight="normal" fill="#111" >Maintained in IL-2 only</text>
<text x="280" y="214.6" font-size="6.6" text-anchor="start" font-weight="normal" fill="#111" >CD8 <tspan font-size="4.5" dy="-2.2">IL-15</tspan></text>
<text x="516.2" y="163.3" font-size="6.6" text-anchor="end" font-weight="normal" fill="#111" >CD8 <tspan font-size="4.5" dy="-2.2">IL-15</tspan><tspan dy="2.2"> + IL-2</tspan></text>
<text x="515.0" y="253.0" font-size="6.6" text-anchor="end" font-weight="normal" fill="#111" >CD8 <tspan font-size="4.5" dy="-2.2">IL-15</tspan></text>
<text x="516.6" y="343.0" font-size="6.6" text-anchor="end" font-weight="normal" fill="#111" >CD8 <tspan font-size="4.5" dy="-2.2">IL-2</tspan></text>
<g stroke="#000" stroke-opacity="0.07" stroke-width="0.8" stroke-linecap="square" fill="none"><path d="M299.1 259.7h.01M315.6 258.9h.01M302.4 256.7h.01M312.9 243.4h.01M303.9 243.4h.01M298.4 267.2h.01M303.0 267.9h.01M331.9 267.9h.01"/><path d="M301.2 260.0h.01M294.4 263.2h.01M306.1 251.7h.01M327.9 255.6h.01M305.5 254.0h.01M299.0 271.2h.01M290.0 263.9h.01M307.6 258.2h.01"/><path d="M286.6 276.9h.01M294.5 253.6h.01M290.3 271.2h.01M312.2 241.6h.01M296.2 268.6h.01M298.2 268.5h.01M298.4 256.4h.01M311.1 255.5h.01"/><path d="M290.2 278.5h.01M286.5 264.7h.01M292.0 258.1h.01M307.0 256.7h.01M296.2 272.8h.01M298.7 266.3h.01M310.5 235.2h.01M296.5 273.9h.01"/><path d="M300.7 252.6h.01M291.2 267.5h.01M297.8 260.0h.01M313.2 265.6h.01M314.0 264.5h.01M301.4 265.2h.01M293.1 235.2h.01M302.0 255.2h.01"/><path d="M317.5 252.9h.01M292.1 269.7h.01M307.9 269.0h.01M309.8 252.9h.01M296.1 273.6h.01M299.7 258.9h.01M303.0 244.3h.01M288.9 279.3h.01"/><path d="M294.8 269.3h.01M290.5 274.4h.01M302.5 260.8h.01M308.8 258.6h.01M302.6 258.4h.01M300.8 240.6h.01M296.8 252.9h.01M305.1 254.5h.01"/><path d="M294.0 268.8h.01M306.1 249.2h.01M292.7 274.2h.01M293.0 268.5h.01M304.5 269.9h.01M311.1 265.4h.01M304.4 262.6h.01M301.3 243.5h.01"/><path d="M287.1 279.8h.01M292.2 275.0h.01M306.1 239.0h.01M301.9 251.2h.01M303.2 251.3h.01M311.4 253.6h.01M292.0 274.6h.01M314.4 243.4h.01"/><path d="M286.3 280.9h.01M295.9 254.5h.01M295.1 265.1h.01M310.5 240.6h.01M311.1 257.3h.01M292.9 270.2h.01M305.1 254.0h.01M317.1 254.1h.01"/><path d="M318.7 256.2h.01M299.8 256.1h.01M296.7 271.9h.01M309.2 272.0h.01M306.7 255.8h.01M297.0 255.6h.01M312.0 252.4h.01M301.0 261.6h.01"/><path d="M317.9 257.5h.01M323.7 245.5h.01M300.0 269.4h.01M295.0 268.8h.01M294.1 276.6h.01M302.5 266.9h.01M300.0 249.8h.01M305.8 250.8h.01"/><path d="M301.7 275.2h.01M293.7 273.7h.01M294.1 267.4h.01M315.7 258.4h.01M301.7 266.4h.01M317.9 261.2h.01M313.0 245.3h.01M290.6 246.9h.01"/><path d="M295.6 270.8h.01M291.6 259.5h.01M299.7 256.3h.01M313.5 278.2h.01M302.1 258.5h.01M303.9 259.3h.01M312.1 260.3h.01M305.1 261.8h.01"/><path d="M293.2 253.9h.01M309.6 262.5h.01M309.2 266.4h.01M288.8 271.0h.01M294.2 271.2h.01M303.0 257.0h.01M298.1 263.8h.01M297.7 275.9h.01"/><path d="M310.9 254.9h.01M322.3 263.8h.01M287.6 280.1h.01M295.0 252.7h.01M308.1 262.9h.01M288.3 276.4h.01M290.2 268.4h.01M293.5 265.5h.01"/><path d="M300.7 272.8h.01M304.8 262.2h.01M296.1 276.0h.01M296.8 264.6h.01M307.8 259.1h.01M329.0 251.2h.01M308.2 261.0h.01M310.7 251.6h.01"/><path d="M295.9 270.9h.01M304.7 253.7h.01M319.7 240.5h.01M306.3 242.4h.01M299.7 244.6h.01M316.4 245.1h.01M304.2 261.5h.01M298.3 245.4h.01"/><path d="M302.5 268.6h.01M316.9 254.8h.01M303.0 262.6h.01M299.2 269.0h.01M291.1 271.2h.01M296.9 266.7h.01M291.1 275.8h.01M286.6 278.2h.01"/><path d="M301.7 270.2h.01M294.7 269.5h.01M302.0 272.1h.01M298.3 271.6h.01M284.8 282.2h.01M304.4 257.8h.01M299.7 266.8h.01M294.6 261.0h.01"/><path d="M303.4 271.9h.01M296.5 264.9h.01M305.4 262.3h.01M304.5 262.4h.01M293.7 267.0h.01M322.3 259.0h.01M293.5 269.2h.01M306.8 267.8h.01"/><path d="M304.0 255.7h.01M296.1 265.5h.01M288.9 278.3h.01M299.5 269.1h.01M288.4 274.7h.01M294.5 245.3h.01M297.7 269.5h.01M303.1 256.8h.01"/><path d="M286.3 279.8h.01M307.2 258.1h.01M299.4 253.6h.01M304.1 258.9h.01M319.6 247.4h.01M299.0 254.2h.01M303.1 264.4h.01M300.0 259.5h.01"/><path d="M301.3 231.0h.01M289.5 272.7h.01M294.4 265.4h.01M317.2 241.0h.01M292.0 278.5h.01M311.3 256.9h.01M284.9 282.5h.01M304.1 253.1h.01"/><path d="M295.5 256.8h.01M292.4 265.5h.01M304.1 244.7h.01M299.1 266.4h.01M291.2 267.2h.01M305.4 264.8h.01M304.7 249.2h.01M308.1 258.4h.01"/><path d="M293.3 275.2h.01M286.8 265.8h.01M310.7 265.7h.01M311.4 257.9h.01M295.7 278.7h.01M297.5 255.1h.01M320.2 252.2h.01M294.0 262.6h.01"/><path d="M298.8 250.6h.01M297.9 273.0h.01M291.9 272.7h.01M301.6 272.1h.01M298.5 258.0h.01M289.2 279.1h.01M295.7 262.6h.01M296.5 260.9h.01"/><path d="M305.1 262.2h.01M298.7 270.0h.01M286.8 281.1h.01M302.2 246.4h.01M299.4 268.5h.01M290.5 249.8h.01M291.3 275.9h.01M297.6 241.3h.01"/><path d="M311.3 259.5h.01M301.5 268.9h.01M294.2 262.4h.01M289.6 278.3h.01M296.8 262.7h.01M327.9 251.1h.01M298.6 269.9h.01M297.0 264.2h.01"/><path d="M304.2 257.9h.01M294.2 273.2h.01M311.6 253.3h.01M314.0 245.8h.01M293.1 271.6h.01M298.5 263.4h.01M301.3 265.8h.01M301.6 248.9h.01"/><path d="M301.1 258.4h.01M302.8 251.5h.01M294.1 268.3h.01M301.3 244.0h.01M289.1 271.3h.01M299.7 257.9h.01M325.6 269.5h.01M302.5 273.5h.01"/><path d="M308.8 249.4h.01M296.7 269.2h.01M305.0 271.3h.01M288.9 275.6h.01M288.1 272.6h.01M299.4 268.2h.01M303.5 258.0h.01M292.2 265.9h.01"/><path d="M293.9 277.0h.01M294.5 272.0h.01M300.8 265.1h.01M308.6 252.4h.01M289.2 275.8h.01M298.6 270.1h.01M310.9 256.7h.01M298.6 255.6h.01"/><path d="M289.2 269.7h.01M310.5 249.7h.01M295.8 268.6h.01M314.6 255.8h.01M309.5 235.9h.01M291.5 253.6h.01M295.3 271.8h.01M320.8 245.1h.01"/><path d="M296.3 269.0h.01M305.3 258.4h.01M297.0 271.3h.01M317.1 251.3h.01M305.6 256.1h.01M285.0 282.2h.01M290.7 273.4h.01M285.6 281.8h.01"/><path d="M298.5 256.9h.01M317.9 254.9h.01M318.9 252.6h.01M321.5 237.8h.01M311.5 262.5h.01M292.2 277.3h.01M301.3 266.6h.01M310.7 262.8h.01"/><path d="M296.0 247.0h.01M324.6 246.3h.01M327.1 256.8h.01M293.7 272.1h.01M301.0 262.0h.01M299.2 250.4h.01M311.1 253.9h.01M293.1 273.4h.01"/><path d="M295.0 275.1h.01M297.0 265.2h.01M288.4 275.9h.01M304.1 257.2h.01M303.6 257.0h.01M293.0 280.5h.01M305.1 264.2h.01M306.6 229.8h.01"/><path d="M302.1 266.3h.01M293.6 265.4h.01M294.8 259.6h.01M306.4 255.2h.01M292.7 254.7h.01M317.9 252.0h.01M292.8 269.4h.01M306.0 269.1h.01"/><path d="M296.8 270.7h.01M305.7 252.6h.01M295.1 255.6h.01M292.0 276.9h.01M313.4 263.6h.01M299.9 274.1h.01M301.7 271.0h.01M299.8 267.4h.01"/><path d="M296.5 246.7h.01M293.0 273.9h.01M296.4 263.6h.01M292.0 274.0h.01M301.5 256.8h.01M298.8 258.5h.01M291.7 272.9h.01M297.6 254.4h.01"/><path d="M291.3 260.9h.01M312.2 252.6h.01M308.0 258.5h.01M300.1 264.0h.01M313.5 269.5h.01M289.4 276.6h.01M284.9 282.2h.01M323.2 239.6h.01"/><path d="M292.5 267.3h.01M303.0 248.6h.01M311.8 277.2h.01M313.5 245.2h.01M290.2 275.5h.01M322.2 243.4h.01M317.5 241.9h.01M292.0 268.1h.01"/><path d="M299.2 256.5h.01M300.1 257.0h.01M314.3 255.8h.01M298.4 264.4h.01M297.3 266.7h.01M300.1 263.3h.01M325.8 254.1h.01M298.3 263.4h.01"/><path d="M323.3 259.0h.01M305.7 249.2h.01M308.2 253.5h.01M303.8 263.4h.01M303.3 230.1h.01M290.2 275.4h.01M302.4 256.2h.01M295.7 273.6h.01"/><path d="M288.1 254.1h.01M308.6 258.7h.01M288.9 280.0h.01M313.2 255.7h.01M297.9 254.6h.01M286.7 274.9h.01M322.2 253.5h.01M296.9 259.4h.01"/><path d="M294.4 267.2h.01M289.1 262.6h.01M295.2 260.9h.01M290.4 277.2h.01M301.0 264.3h.01M289.6 278.6h.01M288.6 280.0h.01M292.8 261.8h.01"/><path d="M313.1 256.2h.01M304.5 253.8h.01M295.2 260.2h.01M313.4 268.0h.01M298.5 264.4h.01M311.8 260.5h.01M313.6 243.5h.01M292.5 277.4h.01"/><path d="M302.6 255.1h.01M312.9 252.4h.01M311.0 249.6h.01M304.5 259.5h.01M291.0 272.2h.01M292.4 267.0h.01M290.6 271.2h.01M310.0 271.9h.01"/><path d="M331.2 255.2h.01M293.6 278.3h.01M300.0 250.6h.01M320.2 249.5h.01M288.6 270.3h.01M304.6 260.3h.01M297.3 260.8h.01M290.4 273.1h.01"/><path d="M288.9 277.8h.01M308.5 251.2h.01M316.4 258.1h.01M291.7 277.7h.01M302.7 267.1h.01M302.0 250.8h.01M297.1 273.5h.01M298.8 258.4h.01"/><path d="M292.2 277.0h.01M297.4 262.2h.01M292.8 273.1h.01M297.6 273.2h.01M313.4 260.2h.01M299.9 261.5h.01M294.8 282.0h.01M295.0 265.9h.01"/><path d="M285.1 282.0h.01M312.3 260.3h.01M337.6 237.6h.01M307.6 243.8h.01M286.9 258.3h.01M292.5 269.3h.01M289.3 266.4h.01M309.1 261.0h.01"/><path d="M309.8 255.9h.01M300.6 269.2h.01M300.8 261.7h.01M298.3 270.6h.01M283.8 256.6h.01M288.9 278.2h.01M316.4 257.6h.01M315.2 242.4h.01"/><path d="M300.8 267.1h.01M307.2 250.7h.01M316.4 254.3h.01M302.7 262.1h.01M312.1 254.5h.01M289.1 258.3h.01M288.6 280.8h.01M303.2 254.4h.01"/><path d="M303.4 253.4h.01M312.6 250.5h.01M293.9 266.4h.01M312.4 254.1h.01M293.7 262.9h.01M296.5 260.2h.01M301.6 270.6h.01M286.3 281.0h.01"/><path d="M302.0 255.0h.01M299.6 245.1h.01M306.2 266.0h.01M293.9 252.2h.01M300.1 261.5h.01M295.1 259.4h.01M301.6 259.4h.01M287.8 279.6h.01"/><path d="M319.5 261.5h.01M291.1 256.3h.01M303.4 254.7h.01M310.0 256.2h.01M292.5 267.1h.01M316.0 263.1h.01M307.8 261.6h.01M314.6 255.0h.01"/><path d="M287.4 272.3h.01M297.4 257.3h.01M293.0 273.7h.01M286.8 280.3h.01M295.8 252.3h.01M312.1 246.3h.01M304.1 255.6h.01M289.9 272.8h.01"/><path d="M296.4 271.6h.01M304.1 258.1h.01M290.5 264.2h.01M297.9 265.8h.01M296.2 257.4h.01M300.2 248.8h.01M318.7 249.2h.01M305.0 248.5h.01"/><path d="M307.3 260.6h.01M307.4 257.4h.01M311.6 253.2h.01M315.1 258.8h.01M292.1 268.5h.01M307.6 248.2h.01M304.1 240.0h.01M297.8 258.3h.01"/><path d="M292.3 265.2h.01M303.6 260.0h.01M307.8 239.5h.01M297.9 249.3h.01M305.6 242.5h.01M301.7 256.7h.01M311.5 232.7h.01M296.3 256.9h.01"/><path d="M290.9 267.9h.01M294.5 256.0h.01M307.9 256.2h.01M302.3 256.7h.01M300.1 272.7h.01M291.1 268.3h.01M318.2 265.5h.01M306.6 235.1h.01"/><path d="M294.4 259.8h.01M290.1 276.0h.01M290.3 276.9h.01M290.7 276.7h.01M304.4 263.6h.01M309.9 256.1h.01M297.9 267.4h.01M293.5 273.3h.01"/><path d="M293.8 264.6h.01M296.7 267.5h.01M303.1 240.0h.01M294.7 267.9h.01M315.5 262.0h.01M298.4 248.9h.01M286.7 281.0h.01M292.4 257.6h.01"/><path d="M300.4 242.9h.01M304.0 252.8h.01M291.5 271.9h.01M318.8 263.4h.01M294.1 267.7h.01M286.8 276.1h.01M296.8 269.0h.01M303.3 268.8h.01"/><path d="M316.8 247.5h.01M301.9 255.7h.01M295.3 262.3h.01M304.0 242.2h.01M292.1 271.6h.01M301.8 262.1h.01M290.8 254.0h.01M291.5 263.5h.01"/><path d="M294.5 272.1h.01M317.3 249.5h.01M297.5 265.6h.01M301.7 258.1h.01M292.9 273.6h.01M299.1 252.3h.01M290.5 265.6h.01M290.0 276.4h.01"/><path d="M307.7 247.5h.01M318.2 267.0h.01M300.4 260.6h.01M299.9 259.6h.01M315.6 251.9h.01M286.6 280.3h.01M299.8 253.1h.01M299.8 268.8h.01"/><path d="M306.5 255.9h.01M305.4 259.0h.01M293.1 257.6h.01M298.8 261.8h.01M301.0 247.3h.01M295.5 260.5h.01M311.0 254.3h.01M298.1 259.4h.01"/><path d="M302.9 255.8h.01M293.0 260.7h.01M292.5 270.2h.01M302.9 267.1h.01M311.9 266.3h.01M297.7 267.8h.01M313.8 247.7h.01M305.4 267.2h.01"/><path d="M298.9 256.6h.01M317.4 265.5h.01M298.7 261.1h.01M306.2 261.3h.01M312.9 260.8h.01M290.7 275.4h.01M295.9 273.3h.01M304.3 254.5h.01"/><path d="M302.9 263.0h.01M314.9 257.7h.01M285.0 281.2h.01M300.9 265.9h.01M299.6 272.2h.01M312.6 240.5h.01M308.0 245.2h.01M289.7 264.8h.01"/><path d="M294.4 270.2h.01M319.8 262.4h.01M304.3 263.9h.01M304.8 259.2h.01M295.1 261.9h.01M303.0 262.6h.01M299.3 267.1h.01M310.1 242.0h.01"/><path d="M307.5 265.8h.01M304.5 257.9h.01M310.9 255.5h.01M290.1 270.0h.01M309.3 264.1h.01M288.9 278.4h.01M294.5 270.0h.01M308.6 259.6h.01"/><path d="M320.1 257.2h.01M303.2 261.9h.01M294.0 271.2h.01M285.2 282.3h.01M292.0 267.2h.01M290.7 253.7h.01M297.5 254.0h.01M300.0 259.6h.01"/><path d="M289.8 272.5h.01M299.3 267.5h.01M307.8 253.0h.01M294.9 268.2h.01M296.5 275.6h.01M300.6 252.5h.01M311.7 248.1h.01M329.1 248.8h.01"/><path d="M322.3 250.8h.01M311.7 259.8h.01M288.2 278.3h.01M297.4 269.0h.01M303.8 262.0h.01M308.5 249.4h.01M287.9 273.2h.01M315.0 246.4h.01"/><path d="M293.0 259.3h.01M292.5 268.7h.01M289.9 274.5h.01M302.4 268.4h.01M299.0 270.9h.01M301.4 263.8h.01M296.5 268.4h.01M298.5 240.5h.01"/><path d="M287.5 277.3h.01M305.7 261.2h.01M305.9 259.6h.01M306.5 262.2h.01M318.5 264.4h.01M297.2 262.2h.01M294.8 276.5h.01M294.3 260.0h.01"/><path d="M297.1 266.8h.01M317.2 249.3h.01M296.7 264.5h.01M287.5 276.0h.01M299.3 249.3h.01M319.6 247.2h.01M322.8 258.2h.01M295.6 269.9h.01"/><path d="M306.9 266.4h.01M318.0 261.8h.01M301.4 239.2h.01M295.2 263.5h.01M291.9 275.7h.01M296.5 263.7h.01M288.8 274.0h.01M291.9 273.5h.01"/><path d="M301.5 262.8h.01M302.1 245.9h.01M289.5 270.3h.01M302.9 252.5h.01M300.5 269.7h.01M289.4 274.3h.01M288.0 272.9h.01M286.9 279.6h.01"/><path d="M296.7 262.0h.01M319.5 264.0h.01M310.3 255.8h.01M299.1 248.5h.01M295.8 265.4h.01M305.6 255.6h.01M295.3 266.9h.01M286.2 277.2h.01"/><path d="M286.2 281.8h.01M292.1 268.6h.01M300.6 266.1h.01M286.9 274.6h.01M301.4 255.3h.01M299.2 247.6h.01M301.3 261.5h.01M297.2 260.1h.01"/><path d="M301.4 271.6h.01M300.0 262.0h.01M301.5 252.8h.01M294.5 276.1h.01M287.3 274.6h.01M296.4 269.4h.01M290.2 270.8h.01M299.1 268.6h.01"/><path d="M323.0 239.6h.01M302.9 268.4h.01M307.1 253.8h.01M304.4 243.2h.01M298.7 269.6h.01M313.8 251.7h.01M321.4 251.9h.01M295.5 260.6h.01"/><path d="M292.7 271.1h.01M297.1 259.2h.01M290.2 276.2h.01M297.8 260.9h.01M311.4 249.2h.01M289.3 274.9h.01M309.4 248.2h.01M285.2 281.7h.01"/><path d="M298.3 271.3h.01M312.4 249.7h.01M319.1 254.4h.01M289.0 270.8h.01M301.4 238.5h.01M292.5 252.4h.01M305.8 255.9h.01M304.8 250.2h.01"/><path d="M299.2 266.3h.01M298.4 256.5h.01M300.6 267.7h.01M304.1 255.6h.01M308.2 230.2h.01M300.7 264.6h.01M292.9 270.3h.01M296.1 272.5h.01"/><path d="M302.7 248.7h.01M325.6 253.1h.01M307.8 259.6h.01M306.0 258.8h.01M296.5 254.0h.01M291.0 266.7h.01M304.6 259.4h.01M309.0 241.2h.01"/><path d="M293.7 274.1h.01M298.3 269.8h.01M304.5 261.9h.01M314.9 252.8h.01M295.7 265.3h.01M304.1 267.6h.01M289.9 272.5h.01M304.0 260.7h.01"/><path d="M295.9 263.9h.01M290.5 278.2h.01M292.3 261.5h.01M303.0 268.1h.01M299.9 266.4h.01M298.0 262.4h.01M286.6 271.9h.01M302.4 254.4h.01"/><path d="M298.8 263.7h.01M291.9 271.2h.01M290.1 273.8h.01M294.9 269.2h.01M298.3 268.5h.01M301.2 264.2h.01M288.6 272.1h.01M302.7 260.3h.01"/><path d="M297.8 267.2h.01M295.3 269.5h.01M286.9 279.6h.01M292.0 261.1h.01M311.7 261.5h.01M302.9 252.7h.01M303.8 266.1h.01M295.2 263.5h.01"/><path d="M284.8 282.7h.01M285.5 281.5h.01M289.0 275.6h.01M299.9 260.6h.01M306.4 246.8h.01M292.7 263.2h.01M318.9 252.5h.01M295.5 258.2h.01"/><path d="M307.3 252.2h.01M308.4 260.8h.01M305.5 237.4h.01M308.2 260.8h.01M292.9 277.8h.01M302.2 268.1h.01M295.7 261.6h.01M308.4 257.7h.01"/><path d="M301.3 254.2h.01M290.9 274.8h.01M296.6 264.1h.01M302.1 246.1h.01M311.9 233.9h.01M299.7 261.6h.01M314.5 262.6h.01M298.5 266.4h.01"/><path d="M316.6 254.6h.01M291.7 263.0h.01M304.2 271.1h.01M305.2 250.8h.01M299.1 255.5h.01M297.1 273.6h.01M299.5 266.1h.01M321.7 234.1h.01"/><path d="M310.4 262.0h.01M291.2 268.7h.01M296.5 264.0h.01M298.2 271.3h.01M306.7 268.8h.01M296.8 264.4h.01M305.6 256.3h.01M301.7 234.6h.01"/><path d="M307.1 252.3h.01M300.6 265.0h.01M291.9 259.8h.01M304.0 255.1h.01M302.1 250.3h.01M300.3 270.2h.01M294.5 263.5h.01M292.9 271.9h.01"/><path d="M314.3 253.1h.01M303.6 272.4h.01M310.0 256.8h.01M299.1 270.9h.01M319.5 259.7h.01M305.9 252.6h.01M301.4 260.7h.01M284.9 281.1h.01"/><path d="M307.9 237.8h.01M293.6 261.6h.01M305.0 241.4h.01M292.5 262.9h.01M285.2 281.8h.01M322.1 264.8h.01M292.3 272.9h.01M296.4 269.2h.01"/><path d="M289.1 270.6h.01M293.1 269.4h.01M294.8 249.9h.01M305.4 256.6h.01M296.4 268.2h.01M293.8 271.0h.01M310.5 231.5h.01M322.4 263.1h.01"/><path d="M291.5 274.5h.01M307.0 258.6h.01M297.3 266.7h.01M292.6 270.2h.01M317.3 246.3h.01M288.7 274.2h.01M298.1 258.7h.01M307.7 266.7h.01"/><path d="M297.2 266.5h.01M291.3 258.5h.01M297.3 272.7h.01M301.6 267.3h.01M310.5 254.6h.01M293.2 268.3h.01M312.8 256.8h.01M311.0 259.3h.01"/><path d="M293.0 275.1h.01M299.2 268.5h.01M313.4 259.7h.01M296.3 274.7h.01M310.6 255.8h.01M304.0 258.1h.01M320.3 256.7h.01M287.2 280.3h.01"/><path d="M287.8 279.3h.01M302.3 264.5h.01M291.2 269.6h.01M294.1 272.3h.01M287.9 281.2h.01M309.0 253.1h.01M289.6 278.5h.01M294.4 246.8h.01"/><path d="M293.2 273.8h.01M304.4 259.1h.01M316.1 240.4h.01M316.4 247.6h.01M313.7 250.8h.01M301.2 262.2h.01M298.6 272.6h.01M302.8 260.3h.01"/><path d="M306.7 267.8h.01M296.9 259.3h.01M301.8 251.0h.01M293.2 248.5h.01M285.7 280.9h.01M307.5 249.8h.01M289.6 268.9h.01M301.8 264.9h.01"/><path d="M298.0 263.4h.01M299.5 255.8h.01M309.1 257.8h.01M293.7 246.4h.01M288.1 278.6h.01M294.3 269.2h.01M295.2 274.2h.01M300.0 265.7h.01"/><path d="M297.9 270.2h.01M292.1 271.0h.01M287.0 238.5h.01M287.8 279.3h.01M298.3 250.9h.01M322.3 247.7h.01M302.6 263.7h.01M296.0 272.5h.01"/><path d="M299.4 270.7h.01M311.4 276.0h.01M304.9 268.3h.01M297.8 261.7h.01M308.6 255.6h.01M293.6 272.8h.01M306.9 268.5h.01M305.5 262.0h.01"/><path d="M299.8 267.0h.01M297.2 258.2h.01M296.4 274.3h.01M302.0 268.5h.01M293.5 256.6h.01M300.5 264.4h.01M303.2 253.9h.01M307.0 260.4h.01"/><path d="M307.3 268.7h.01M308.5 256.4h.01M324.3 250.5h.01M293.4 276.0h.01M310.8 255.3h.01M301.2 265.7h.01M297.7 255.4h.01M302.4 251.1h.01"/><path d="M301.8 253.5h.01M318.3 238.3h.01M302.7 249.9h.01M294.8 266.1h.01M307.0 270.5h.01M325.0 254.6h.01M311.4 264.3h.01M330.4 234.6h.01"/><path d="M300.5 256.4h.01M299.7 245.4h.01M307.8 264.8h.01M303.9 271.1h.01M307.9 247.7h.01M301.2 258.3h.01M317.1 260.2h.01M289.9 276.3h.01"/><path d="M308.7 253.2h.01M313.5 263.7h.01M305.6 255.9h.01M305.7 271.7h.01M306.3 250.2h.01M291.0 271.6h.01M289.9 274.0h.01M292.6 275.5h.01"/><path d="M287.7 280.9h.01M300.8 270.7h.01M298.0 273.3h.01M309.4 265.0h.01M286.6 277.5h.01M305.7 257.8h.01M295.3 268.7h.01M317.9 270.4h.01"/><path d="M286.5 280.3h.01M288.0 270.2h.01M309.0 268.2h.01M310.1 254.2h.01M292.4 268.1h.01M315.9 247.9h.01M313.7 250.8h.01M297.1 266.1h.01"/><path d="M286.7 277.0h.01M308.0 271.3h.01M300.2 264.6h.01M305.5 249.0h.01M314.2 266.5h.01M296.2 259.2h.01M300.6 269.1h.01M304.8 258.7h.01"/><path d="M299.5 268.2h.01M322.5 253.1h.01M317.8 252.2h.01M308.6 263.8h.01M298.2 262.8h.01M298.8 269.3h.01M321.0 248.6h.01M297.2 254.4h.01"/><path d="M295.2 268.7h.01M288.1 278.1h.01M299.8 261.7h.01M302.4 249.8h.01M315.2 230.7h.01M292.2 277.4h.01M292.8 277.1h.01M303.4 262.2h.01"/><path d="M287.3 256.3h.01M332.9 240.5h.01M305.6 247.2h.01M290.0 274.7h.01M310.5 255.2h.01M290.6 264.4h.01M312.2 261.6h.01M297.7 263.2h.01"/><path d="M294.6 271.6h.01M298.1 265.2h.01M308.5 263.3h.01M299.1 261.7h.01M306.6 264.0h.01M299.4 264.5h.01M293.9 268.2h.01M305.7 267.6h.01"/><path d="M286.4 281.4h.01M304.0 257.6h.01M286.2 279.3h.01M304.4 253.7h.01M305.2 265.5h.01M286.8 279.8h.01M291.8 259.8h.01M313.7 264.0h.01"/><path d="M286.8 275.6h.01M289.9 274.2h.01M307.4 268.6h.01M300.5 260.4h.01M305.8 259.8h.01M327.2 253.1h.01M305.2 257.6h.01M305.4 265.7h.01"/><path d="M315.7 270.7h.01M307.8 254.3h.01M307.5 254.8h.01M298.8 252.7h.01M286.8 274.7h.01M309.9 259.1h.01M292.5 243.2h.01M298.9 269.5h.01"/><path d="M330.2 268.6h.01M310.7 270.2h.01M302.5 263.0h.01M315.2 258.0h.01M306.3 262.7h.01M319.5 256.5h.01M292.0 265.0h.01M295.1 276.6h.01"/><path d="M308.2 258.8h.01M310.8 265.7h.01M286.4 280.9h.01M290.4 269.3h.01M294.6 272.1h.01M293.4 265.6h.01M295.5 263.1h.01M303.8 258.1h.01"/><path d="M303.6 261.1h.01M294.5 270.7h.01M290.9 274.6h.01M292.7 275.6h.01M292.3 273.5h.01M297.2 264.0h.01M310.4 266.4h.01M298.3 248.0h.01"/><path d="M315.8 249.4h.01M289.0 275.7h.01M299.1 259.8h.01M317.0 252.8h.01M303.0 266.8h.01M290.6 277.6h.01M298.5 273.8h.01M315.2 248.5h.01"/><path d="M300.0 250.8h.01M300.5 242.0h.01M312.8 251.8h.01M308.7 249.2h.01M300.9 261.3h.01M293.0 266.2h.01M287.5 278.3h.01M293.5 264.5h.01"/><path d="M293.9 238.3h.01M296.4 272.1h.01M303.2 251.4h.01M290.0 267.4h.01M298.9 261.6h.01M294.6 268.7h.01M287.9 255.9h.01M291.7 277.7h.01"/><path d="M301.9 255.5h.01M317.5 243.8h.01M292.0 254.4h.01M295.6 265.3h.01M297.5 277.4h.01M292.5 262.3h.01M311.1 249.8h.01M289.1 271.2h.01"/><path d="M298.9 262.5h.01M307.8 258.1h.01M286.8 280.3h.01M301.6 262.1h.01M308.7 252.5h.01M296.5 271.0h.01M306.5 250.9h.01M290.7 272.8h.01"/><path d="M321.5 242.1h.01M301.0 252.0h.01M288.7 272.3h.01M313.2 255.3h.01M309.7 260.0h.01M301.0 259.8h.01M309.9 259.7h.01M298.4 264.1h.01"/><path d="M312.3 253.9h.01M301.2 263.3h.01M300.6 268.0h.01M300.4 252.8h.01M301.4 264.3h.01M308.5 263.3h.01M299.5 257.6h.01M296.1 271.3h.01"/><path d="M297.6 261.7h.01M321.4 232.4h.01M301.6 256.0h.01M288.4 275.1h.01M308.6 248.5h.01M293.9 263.4h.01M295.0 263.6h.01M306.0 268.3h.01"/><path d="M299.5 249.5h.01M314.4 255.2h.01M305.8 261.7h.01M304.5 261.5h.01M295.3 267.1h.01M287.6 279.4h.01M308.6 244.2h.01M290.8 268.6h.01"/><path d="M293.4 272.5h.01M301.2 259.2h.01M322.6 247.4h.01M291.3 267.2h.01M290.5 276.1h.01M310.0 256.3h.01M287.6 251.3h.01M291.9 275.3h.01"/><path d="M294.9 272.5h.01M304.8 271.5h.01M285.8 280.5h.01M301.7 261.5h.01M309.7 259.4h.01M292.4 273.5h.01M286.7 281.7h.01M304.5 254.3h.01"/><path d="M301.4 262.2h.01M300.3 250.6h.01M302.6 257.3h.01M313.4 246.7h.01M297.1 263.5h.01M293.7 263.9h.01M308.4 246.9h.01M312.8 268.9h.01"/><path d="M294.1 278.6h.01M309.3 267.3h.01M287.8 247.1h.01M304.3 259.3h.01M298.2 268.2h.01M311.6 263.5h.01M287.2 278.1h.01M298.1 235.1h.01"/><path d="M288.9 269.2h.01M304.7 269.7h.01M296.8 270.2h.01M301.0 259.3h.01M308.1 258.9h.01M305.1 247.3h.01M305.3 265.1h.01M290.7 260.4h.01"/><path d="M293.9 271.8h.01M308.3 254.3h.01M307.1 270.5h.01M293.2 274.6h.01M306.9 245.6h.01M294.5 281.7h.01M293.6 261.7h.01M294.9 275.3h.01"/><path d="M313.4 241.9h.01M295.5 259.5h.01M301.5 265.9h.01M323.0 264.7h.01M318.4 260.0h.01M296.7 261.4h.01M314.6 251.1h.01M291.3 271.4h.01"/><path d="M290.4 272.3h.01M289.7 273.8h.01M294.3 271.3h.01M297.2 264.6h.01M306.6 252.1h.01M288.1 275.7h.01M292.6 273.9h.01M293.5 268.5h.01"/><path d="M291.8 275.7h.01M293.8 265.7h.01M293.3 276.3h.01M319.1 247.6h.01M287.7 279.1h.01M301.6 247.7h.01M328.3 257.6h.01M318.0 246.4h.01"/><path d="M290.7 278.5h.01M294.7 250.6h.01M292.0 267.5h.01M297.7 268.4h.01M318.2 260.0h.01M291.7 272.7h.01M301.0 265.7h.01M300.8 264.8h.01"/><path d="M296.1 251.3h.01M296.8 270.0h.01M301.9 227.1h.01M299.4 259.9h.01M310.5 250.4h.01M309.8 252.9h.01M290.1 264.4h.01M309.8 242.5h.01"/><path d="M289.4 256.4h.01M297.7 273.0h.01M314.3 258.1h.01M295.6 260.5h.01M297.0 259.0h.01M310.1 251.2h.01M295.8 250.1h.01M299.2 265.1h.01"/><path d="M315.6 252.6h.01M290.1 277.3h.01M293.8 273.6h.01M294.1 270.1h.01M318.6 251.8h.01M292.6 269.0h.01M308.9 251.5h.01M295.2 268.6h.01"/><path d="M285.2 281.8h.01M296.4 259.3h.01M288.1 278.7h.01M291.2 274.1h.01M289.6 271.0h.01M295.1 265.6h.01M287.3 280.4h.01M290.4 276.7h.01"/><path d="M291.2 269.0h.01M308.6 265.1h.01M296.0 266.4h.01M305.7 253.8h.01M300.7 262.5h.01M294.5 269.0h.01M297.2 261.8h.01M286.7 280.0h.01"/><path d="M315.4 262.0h.01M308.2 258.8h.01M296.6 268.0h.01M290.2 278.0h.01M312.9 239.8h.01M315.6 244.0h.01M301.0 266.8h.01M301.1 271.7h.01"/><path d="M313.0 260.5h.01M295.3 272.6h.01M311.9 255.0h.01M327.4 256.9h.01M297.1 254.5h.01M311.4 260.9h.01M297.9 242.4h.01M307.6 257.2h.01"/><path d="M294.5 262.8h.01M304.5 253.4h.01M291.5 273.8h.01M292.9 261.8h.01M311.3 246.8h.01M295.3 256.7h.01M297.4 264.7h.01M294.0 273.9h.01"/><path d="M303.4 260.9h.01M312.5 258.2h.01M298.9 237.7h.01M295.9 271.3h.01M305.9 263.0h.01M298.6 274.1h.01M300.1 263.2h.01M290.4 275.6h.01"/><path d="M305.2 258.2h.01M303.9 261.0h.01M299.8 265.3h.01M308.4 254.2h.01M311.7 249.0h.01M301.1 258.1h.01M295.3 249.9h.01M300.4 271.0h.01"/><path d="M297.2 260.5h.01M297.1 251.8h.01M331.1 253.8h.01M298.4 271.0h.01M303.8 250.3h.01M318.3 265.1h.01M297.4 252.5h.01M313.3 254.4h.01"/><path d="M291.4 277.2h.01M312.5 249.6h.01M309.0 269.7h.01M299.2 258.2h.01M299.3 254.9h.01M299.5 263.4h.01M290.1 276.8h.01M292.7 269.8h.01"/><path d="M290.9 265.1h.01M298.8 249.8h.01M313.5 255.0h.01M316.0 263.7h.01M289.0 276.6h.01M309.1 252.8h.01M293.4 273.4h.01M294.3 268.3h.01"/><path d="M305.4 264.7h.01M317.3 267.7h.01M292.7 262.0h.01M292.9 256.7h.01M293.5 271.7h.01M293.0 273.2h.01M306.5 252.4h.01M290.8 275.2h.01"/><path d="M305.0 236.6h.01M304.4 258.0h.01M304.1 261.7h.01M302.9 257.0h.01M289.8 272.6h.01M295.1 270.1h.01M307.1 266.2h.01M316.1 270.5h.01"/><path d="M314.4 264.4h.01M298.1 248.9h.01M296.4 271.1h.01M304.4 243.1h.01M302.3 270.3h.01M301.4 260.6h.01M300.1 258.5h.01M309.6 272.8h.01"/><path d="M307.2 261.5h.01M295.2 260.5h.01M304.6 258.1h.01M308.7 263.1h.01M316.8 255.7h.01M300.4 266.4h.01M297.6 269.7h.01M292.2 259.8h.01"/><path d="M301.5 257.1h.01M306.1 255.8h.01M320.3 266.5h.01M289.3 273.7h.01M295.4 264.5h.01M308.9 266.3h.01M334.8 243.4h.01M312.3 262.4h.01"/><path d="M304.5 248.0h.01M306.6 264.1h.01M316.0 260.9h.01M290.9 268.6h.01M288.1 278.5h.01M287.9 278.9h.01M286.4 280.8h.01M295.6 269.3h.01"/><path d="M290.6 265.3h.01M298.7 263.2h.01M288.3 269.7h.01M292.4 263.7h.01M291.9 269.9h.01M311.9 253.5h.01M316.0 252.4h.01M295.0 272.1h.01"/><path d="M291.7 276.0h.01M300.4 262.8h.01M289.9 268.9h.01M320.8 252.8h.01M295.1 272.5h.01M307.9 265.0h.01M298.5 273.0h.01M293.6 269.6h.01"/><path d="M298.8 265.1h.01M297.5 268.1h.01M301.9 262.3h.01M292.8 272.9h.01M286.6 280.3h.01M290.0 271.1h.01M309.4 256.2h.01M294.4 250.5h.01"/><path d="M302.8 269.8h.01M299.8 254.5h.01M291.1 276.0h.01M291.6 274.9h.01M308.5 250.1h.01M320.0 245.5h.01M295.3 252.0h.01M314.6 241.0h.01"/><path d="M311.6 248.7h.01M292.8 261.1h.01M294.8 244.3h.01M293.8 268.4h.01M289.5 264.4h.01M303.4 265.6h.01M326.3 262.2h.01M297.9 259.8h.01"/><path d="M304.9 265.5h.01M296.7 271.6h.01M318.4 265.0h.01M323.6 252.9h.01M293.1 269.8h.01M297.0 261.7h.01M311.1 241.3h.01M305.4 253.0h.01"/></g>
<g stroke="#000" stroke-opacity="0.1" stroke-width="0.8" stroke-linecap="square" fill="none"><path d="M295.7 271.6h.01M306.3 268.5h.01M297.3 276.8h.01M296.5 269.3h.01M290.0 277.3h.01M289.8 274.8h.01M295.4 273.9h.01M292.8 276.0h.01"/><path d="M293.0 271.1h.01M287.4 279.6h.01M293.5 273.8h.01M295.6 272.2h.01M294.2 273.5h.01M295.8 273.2h.01M295.2 273.2h.01M298.0 272.9h.01"/><path d="M307.2 268.6h.01M300.2 265.4h.01M289.3 279.1h.01M292.8 278.9h.01M294.2 276.4h.01M298.9 272.3h.01M307.6 275.3h.01M296.5 274.0h.01"/><path d="M298.8 276.7h.01M299.8 275.3h.01M295.6 272.7h.01M294.2 275.3h.01M300.1 271.2h.01M296.2 272.8h.01M291.3 270.1h.01M284.8 282.8h.01"/><path d="M298.6 278.5h.01M289.6 277.3h.01M295.7 276.7h.01M299.3 269.9h.01M292.4 276.6h.01M290.2 277.1h.01M290.9 279.8h.01M293.6 276.1h.01"/><path d="M295.4 273.8h.01M292.3 268.4h.01M289.5 281.2h.01M291.1 277.1h.01M290.1 273.3h.01M296.3 274.3h.01M298.2 272.4h.01M297.1 273.3h.01"/><path d="M286.4 281.7h.01M301.9 266.3h.01M293.5 277.6h.01M291.8 275.1h.01M294.0 274.8h.01M293.7 273.6h.01M292.0 270.8h.01M288.6 279.9h.01"/><path d="M290.7 277.6h.01M296.6 270.5h.01M288.5 274.8h.01M299.9 269.5h.01M301.2 276.4h.01M292.4 270.9h.01M301.1 269.2h.01M296.1 272.3h.01"/><path d="M290.7 276.1h.01M290.8 273.0h.01M293.4 275.5h.01M288.4 281.9h.01M295.7 274.7h.01M303.7 259.5h.01M293.7 273.3h.01M303.3 270.3h.01"/><path d="M295.9 275.2h.01M292.5 272.5h.01M296.2 273.6h.01M296.6 277.4h.01M296.7 272.2h.01M285.0 282.6h.01M300.3 272.9h.01M291.6 278.4h.01"/><path d="M296.9 270.6h.01M297.8 271.2h.01M296.1 270.3h.01M303.0 265.5h.01M308.7 269.1h.01M291.6 276.5h.01M298.5 268.1h.01M297.8 275.6h.01"/><path d="M297.3 268.8h.01M290.2 278.1h.01M305.8 265.5h.01M312.5 265.8h.01M295.0 274.3h.01M296.8 274.3h.01M290.4 277.7h.01M295.6 264.5h.01"/><path d="M289.0 278.7h.01M294.9 275.2h.01M293.6 273.1h.01M295.8 276.6h.01M295.6 274.2h.01M290.9 275.8h.01M303.7 273.6h.01M288.8 278.0h.01"/><path d="M292.0 275.0h.01M296.5 270.4h.01M291.4 279.5h.01M288.9 279.5h.01M292.1 278.7h.01M295.1 274.6h.01M295.1 276.1h.01M295.6 269.3h.01"/><path d="M291.6 276.1h.01M290.0 279.3h.01M287.0 281.4h.01M293.6 275.7h.01M293.0 277.3h.01M300.8 274.2h.01M299.5 267.6h.01M294.0 274.0h.01"/><path d="M288.8 278.2h.01M302.1 273.9h.01M295.7 272.0h.01M292.9 272.0h.01M296.9 271.7h.01M298.9 274.9h.01M294.1 273.1h.01M292.1 277.9h.01"/><path d="M292.9 279.9h.01M297.7 265.8h.01M291.7 277.1h.01M297.6 266.9h.01M291.3 276.2h.01M297.9 268.4h.01M291.8 277.7h.01M297.0 273.8h.01"/><path d="M296.9 271.0h.01M292.9 275.9h.01M299.3 269.1h.01M298.2 270.8h.01M291.9 276.9h.01M295.0 275.2h.01M296.1 277.3h.01M297.1 274.4h.01"/><path d="M294.6 272.1h.01M297.0 273.8h.01M299.3 274.3h.01M295.2 269.2h.01M291.3 273.8h.01M300.5 275.9h.01M288.9 275.1h.01M290.8 274.1h.01"/><path d="M290.6 274.5h.01M297.8 272.7h.01M297.8 276.5h.01M299.8 270.7h.01M295.5 273.0h.01M304.4 266.9h.01M295.3 272.3h.01M306.3 274.7h.01"/><path d="M296.5 272.8h.01M295.0 271.4h.01M293.0 271.5h.01M295.4 272.0h.01M295.7 271.3h.01M295.8 271.8h.01M297.9 270.8h.01M292.5 277.5h.01"/><path d="M295.9 273.3h.01M287.7 278.9h.01M291.0 274.2h.01M298.1 274.3h.01M299.1 269.2h.01M304.0 275.3h.01M300.9 267.0h.01M288.6 279.7h.01"/><path d="M294.6 275.1h.01M298.1 268.6h.01M288.9 281.3h.01M291.9 276.4h.01M299.1 266.1h.01M292.0 270.1h.01M296.1 269.0h.01M293.3 275.0h.01"/><path d="M296.7 268.4h.01M294.6 274.6h.01M299.2 276.4h.01M290.6 277.6h.01M293.3 271.6h.01M295.3 276.6h.01M292.7 278.2h.01M297.6 275.8h.01"/><path d="M293.6 278.6h.01M294.2 274.7h.01M291.7 276.6h.01M297.7 274.0h.01M300.2 271.2h.01M296.5 274.3h.01M300.7 270.7h.01M300.5 273.1h.01"/><path d="M295.5 269.7h.01M289.7 276.3h.01M293.7 278.7h.01M297.9 273.3h.01M293.6 276.7h.01M303.6 268.2h.01M295.9 275.2h.01M301.7 266.9h.01"/><path d="M287.7 281.3h.01M291.5 277.2h.01M286.3 281.8h.01M287.4 278.9h.01M297.1 270.7h.01M300.5 265.4h.01M290.0 279.0h.01M299.0 269.5h.01"/><path d="M294.3 275.1h.01M289.6 276.7h.01M287.2 278.8h.01M295.9 275.8h.01M300.3 272.9h.01M293.6 276.8h.01M301.2 270.3h.01M294.5 274.7h.01"/><path d="M290.2 276.1h.01M296.7 276.3h.01M290.4 277.2h.01M297.3 272.9h.01M296.9 273.2h.01M301.9 268.6h.01M306.0 271.8h.01M299.4 276.6h.01"/><path d="M305.1 261.2h.01M286.7 280.2h.01M289.7 278.0h.01M299.7 265.0h.01M292.4 273.7h.01M288.7 279.3h.01M285.2 282.3h.01M293.5 276.2h.01"/><path d="M299.1 274.7h.01M301.8 267.4h.01M297.3 272.9h.01M303.1 272.0h.01M292.7 277.3h.01M300.8 274.3h.01M293.1 275.1h.01M299.0 269.4h.01"/><path d="M297.8 271.4h.01M297.9 272.4h.01M294.6 271.3h.01M299.6 274.8h.01M288.6 276.1h.01M296.9 275.0h.01M292.6 277.8h.01M290.5 280.5h.01"/><path d="M287.2 280.6h.01M287.7 279.8h.01M292.4 271.8h.01M288.4 279.8h.01M292.4 273.3h.01M301.1 273.3h.01M301.1 265.9h.01M295.7 276.1h.01"/><path d="M289.1 279.9h.01M293.3 277.0h.01M295.4 274.3h.01M296.0 273.9h.01M294.6 275.4h.01M302.7 266.8h.01M292.3 276.9h.01M292.3 268.2h.01"/><path d="M296.4 274.0h.01M295.8 278.1h.01M293.8 276.7h.01M296.0 276.0h.01M290.4 274.5h.01M300.5 268.0h.01M292.1 276.2h.01M298.1 268.2h.01"/><path d="M292.1 277.9h.01M295.0 277.3h.01M293.4 275.9h.01M297.9 272.8h.01M304.2 264.4h.01M289.9 280.2h.01M297.9 273.6h.01M296.0 267.5h.01"/><path d="M288.8 278.0h.01M302.1 266.7h.01M292.0 275.3h.01M298.5 279.5h.01M300.5 267.5h.01M289.2 278.8h.01M291.3 275.1h.01M297.9 269.8h.01"/><path d="M301.2 271.0h.01M303.9 272.7h.01M290.1 279.9h.01M294.6 275.4h.01"/></g>
<g stroke="#000" stroke-opacity="0.22" stroke-width="0.8" stroke-linecap="square" fill="none"><path d="M293.6 272.1h.01M301.6 266.7h.01M292.3 269.3h.01M303.2 267.0h.01M295.2 269.4h.01M287.7 277.6h.01M295.3 272.4h.01M307.0 264.1h.01"/><path d="M300.8 272.3h.01M299.3 270.6h.01M293.0 271.1h.01M293.5 277.1h.01M306.0 264.5h.01M299.3 269.1h.01M315.8 263.4h.01M301.2 271.6h.01"/><path d="M306.3 262.9h.01M305.1 269.0h.01M302.4 271.3h.01M307.3 265.7h.01M300.7 272.8h.01M302.6 269.9h.01M311.7 264.2h.01M299.0 266.5h.01"/><path d="M303.6 269.2h.01M305.1 268.9h.01M305.2 267.8h.01M302.9 270.4h.01M296.4 269.3h.01M296.5 272.8h.01M291.7 273.9h.01M300.8 270.8h.01"/><path d="M296.2 272.9h.01M300.8 268.1h.01M301.4 268.8h.01M295.3 272.1h.01M299.6 276.7h.01M299.3 268.7h.01M294.1 274.0h.01M303.3 268.4h.01"/><path d="M293.0 271.3h.01M296.2 273.3h.01M297.0 271.9h.01M307.6 259.5h.01M300.0 270.2h.01M295.3 276.7h.01M300.5 271.2h.01M306.3 271.0h.01"/><path d="M297.1 270.0h.01M293.1 270.5h.01M309.8 262.7h.01M293.6 276.5h.01M308.8 261.6h.01M299.0 266.3h.01M290.9 275.3h.01M293.6 270.4h.01"/><path d="M302.0 270.3h.01M302.1 273.2h.01M297.5 270.7h.01M309.1 272.0h.01M312.9 265.3h.01M300.0 265.9h.01M308.6 264.6h.01M313.2 262.2h.01"/><path d="M293.0 278.3h.01M301.3 267.6h.01M302.1 269.0h.01M300.1 264.3h.01M302.1 270.4h.01M296.9 276.5h.01M297.4 265.1h.01M308.9 263.5h.01"/><path d="M301.2 268.8h.01M311.2 263.4h.01M296.8 270.1h.01M305.1 269.1h.01M299.3 273.8h.01M298.1 272.0h.01M304.5 268.4h.01M303.1 269.3h.01"/><path d="M299.1 271.6h.01M301.2 265.4h.01M294.5 274.7h.01M301.4 269.9h.01M305.7 268.0h.01M299.4 272.4h.01M300.3 275.8h.01M306.6 266.2h.01"/><path d="M298.7 272.7h.01M299.4 268.2h.01M304.1 268.1h.01M305.5 266.3h.01M313.7 267.5h.01M290.3 269.7h.01M298.8 276.1h.01M304.9 267.7h.01"/><path d="M301.0 265.7h.01M300.8 266.5h.01M302.0 267.9h.01M298.0 269.9h.01M307.2 272.1h.01M293.7 276.6h.01M301.6 274.3h.01M305.8 263.9h.01"/><path d="M303.9 272.6h.01M308.9 262.8h.01M296.7 273.3h.01M309.6 267.4h.01M303.8 269.7h.01M304.2 267.9h.01M297.8 274.0h.01M304.8 270.2h.01"/><path d="M300.4 268.4h.01M306.4 269.1h.01M308.5 260.6h.01M298.7 270.3h.01M308.9 257.2h.01M305.0 264.6h.01M297.3 274.8h.01M300.5 259.5h.01"/><path d="M295.0 273.4h.01M300.4 273.7h.01M296.7 271.5h.01M290.9 277.7h.01M302.5 271.1h.01M300.4 276.0h.01M300.5 275.7h.01M309.1 261.5h.01"/><path d="M301.2 267.3h.01M292.8 276.5h.01M303.2 272.6h.01M306.7 260.4h.01M300.1 271.4h.01M305.6 267.2h.01M296.7 271.4h.01M302.4 264.4h.01"/><path d="M292.2 270.7h.01M299.4 274.7h.01M299.5 272.6h.01M309.5 268.0h.01M301.8 268.5h.01M300.1 268.9h.01M297.8 272.9h.01M304.5 265.3h.01"/><path d="M296.1 272.3h.01M302.0 271.3h.01M301.9 269.2h.01M292.3 273.2h.01M298.1 269.1h.01M303.0 268.1h.01M297.4 273.0h.01M310.0 271.5h.01"/><path d="M299.6 268.6h.01M307.5 270.8h.01M298.9 272.8h.01M301.0 272.3h.01M296.6 270.7h.01M299.2 270.0h.01M294.0 272.9h.01M299.4 276.5h.01"/><path d="M306.8 263.8h.01M298.9 271.9h.01M297.2 270.0h.01M305.8 270.0h.01M305.3 271.3h.01M300.8 269.1h.01M298.1 269.7h.01M298.8 275.4h.01"/><path d="M305.0 266.4h.01M299.8 267.2h.01M303.6 267.1h.01M299.4 269.3h.01M292.3 272.9h.01M307.1 262.8h.01M295.6 271.8h.01M294.4 270.1h.01"/><path d="M293.3 270.9h.01M297.2 264.1h.01M291.4 270.9h.01M299.2 267.4h.01M301.2 266.4h.01M303.3 262.1h.01M307.9 260.8h.01M297.3 268.2h.01"/><path d="M301.3 273.9h.01M303.9 265.8h.01M305.5 272.1h.01M303.4 266.8h.01M303.1 269.4h.01M291.0 273.8h.01M303.8 273.6h.01M304.6 267.9h.01"/><path d="M292.1 273.5h.01M293.3 274.5h.01M299.0 273.3h.01M300.7 269.7h.01M303.8 270.7h.01M298.3 269.4h.01M306.2 276.4h.01M296.7 269.4h.01"/><path d="M300.4 264.8h.01M301.9 265.1h.01M298.8 269.9h.01M297.1 273.4h.01M302.2 271.9h.01M303.0 266.7h.01M305.3 268.7h.01M301.8 269.6h.01"/><path d="M305.5 264.5h.01M307.5 266.1h.01M305.2 270.2h.01M312.9 259.0h.01M295.4 276.4h.01M298.9 270.8h.01M295.1 276.7h.01M300.1 264.9h.01"/><path d="M305.9 266.2h.01M295.6 267.0h.01M308.8 261.6h.01M303.3 265.9h.01M297.3 275.0h.01M305.1 268.9h.01M299.4 272.2h.01M305.9 270.8h.01"/><path d="M300.8 270.7h.01M301.2 261.7h.01M304.5 272.3h.01M304.6 268.4h.01M306.6 270.1h.01M291.2 273.4h.01M294.3 269.0h.01M304.4 264.3h.01"/><path d="M302.3 270.6h.01M304.7 262.4h.01M290.5 269.6h.01M301.5 266.1h.01M304.5 270.5h.01M308.7 261.2h.01M301.6 269.1h.01M291.5 277.8h.01"/><path d="M306.1 262.0h.01M304.6 268.2h.01M300.2 266.5h.01M299.0 278.4h.01M307.0 266.2h.01M305.3 263.4h.01M303.3 266.3h.01M286.4 275.2h.01"/><path d="M305.8 269.1h.01M304.0 267.5h.01M299.8 264.8h.01M304.7 277.2h.01M300.7 267.9h.01M311.3 262.6h.01M299.8 270.3h.01M300.5 265.5h.01"/><path d="M300.3 268.6h.01M292.2 275.8h.01M299.7 268.3h.01M299.7 273.5h.01"/></g>
<ellipse cx="301" cy="269.5" rx="6.5" ry="3.3" transform="rotate(-32 301 269.5)" fill="#000" fill-opacity="0.42" filter="url(#bl14)"/>
<ellipse cx="291" cy="276" rx="5" ry="2.2" transform="rotate(-40 291 276)" fill="#000" fill-opacity="0.2" filter="url(#bl14)"/>
<rect x="280" y="216.5" width="70.30000000000001" height="67.60000000000002" fill="none" stroke="#888" stroke-width="0.8"/>
<g stroke="#000" stroke-opacity="0.13" stroke-width="0.8" stroke-linecap="square" fill="none"><path d="M465.8 213.7h.01M486.8 194.6h.01M456.2 224.5h.01M461.5 219.5h.01M474.3 215.0h.01M480.8 211.3h.01M484.0 207.2h.01M478.0 205.9h.01"/><path d="M473.8 212.6h.01M465.0 220.4h.01M496.4 193.3h.01M501.6 190.8h.01M480.6 208.2h.01M473.6 216.6h.01M487.4 197.5h.01M494.0 191.4h.01"/><path d="M463.8 226.7h.01M485.5 201.7h.01M461.6 221.8h.01M483.3 197.0h.01M482.3 207.5h.01M485.1 198.6h.01M455.2 219.3h.01M459.9 219.2h.01"/><path d="M481.7 205.0h.01M451.2 223.4h.01M451.9 221.7h.01M446.6 229.9h.01M468.4 216.6h.01M477.1 207.1h.01M500.9 190.9h.01M493.1 202.4h.01"/><path d="M488.8 197.1h.01M492.4 192.6h.01M463.3 222.4h.01M463.9 219.3h.01M499.0 202.0h.01M473.2 206.7h.01M474.6 215.6h.01M460.0 217.1h.01"/><path d="M485.7 203.2h.01M476.9 202.7h.01M465.4 207.8h.01M455.8 214.3h.01M450.1 220.2h.01M477.2 214.3h.01M475.1 207.3h.01M482.9 204.0h.01"/><path d="M472.2 212.6h.01M473.5 205.7h.01M480.1 203.5h.01M474.5 204.2h.01M506.5 180.2h.01M457.5 224.4h.01M459.0 221.4h.01M504.6 191.9h.01"/><path d="M476.1 209.7h.01M464.8 219.7h.01M469.9 214.8h.01M473.8 217.0h.01M488.7 198.8h.01M464.1 218.6h.01M464.4 224.3h.01M485.2 204.8h.01"/><path d="M487.7 195.3h.01M455.9 226.6h.01M483.1 206.6h.01M464.6 218.0h.01M483.2 209.9h.01M473.3 206.2h.01M466.3 216.8h.01M479.1 203.0h.01"/><path d="M488.4 199.0h.01M500.3 195.9h.01M498.3 192.1h.01M472.2 217.2h.01M497.5 193.9h.01M479.9 199.9h.01M466.7 211.7h.01M484.6 196.6h.01"/><path d="M475.9 201.4h.01M466.2 215.4h.01M466.1 219.2h.01M499.9 192.3h.01M473.4 209.8h.01M479.4 212.9h.01M466.6 213.4h.01M455.9 222.8h.01"/><path d="M470.0 217.0h.01M454.6 225.3h.01M476.5 206.3h.01M450.1 225.0h.01M486.6 209.2h.01M452.3 222.0h.01M484.3 201.2h.01M497.7 192.0h.01"/><path d="M495.5 196.3h.01M476.1 212.5h.01M476.6 210.1h.01M463.9 214.2h.01M480.8 207.6h.01M476.9 206.9h.01M482.3 207.6h.01M485.2 204.8h.01"/><path d="M480.1 208.4h.01M508.4 193.9h.01M491.9 202.7h.01M501.7 197.4h.01M485.7 203.3h.01M491.3 204.4h.01M468.4 211.9h.01M488.4 203.4h.01"/><path d="M445.6 230.1h.01M463.3 216.9h.01M469.3 217.6h.01M468.5 208.0h.01M483.8 205.5h.01M486.1 208.3h.01M465.1 216.3h.01M469.5 215.8h.01"/><path d="M470.7 204.9h.01M472.7 209.4h.01M505.1 200.3h.01M467.6 210.7h.01M452.1 226.2h.01M494.6 196.5h.01M473.6 201.8h.01M453.6 221.7h.01"/><path d="M483.3 203.6h.01M468.7 210.2h.01M479.6 203.1h.01M488.7 198.1h.01M502.4 193.6h.01M473.9 215.6h.01M468.3 213.5h.01M500.3 198.2h.01"/><path d="M484.1 209.2h.01M492.1 207.4h.01M498.8 195.3h.01M508.3 187.1h.01M460.7 220.5h.01M463.4 215.8h.01M493.1 196.8h.01M470.2 213.8h.01"/><path d="M503.3 195.1h.01M487.6 205.0h.01M460.9 215.9h.01M446.6 221.1h.01M502.7 195.6h.01M457.5 221.4h.01M471.0 215.1h.01M486.3 192.2h.01"/><path d="M471.5 208.9h.01M468.1 214.0h.01M466.0 215.7h.01M477.7 209.2h.01M479.2 209.7h.01M483.3 210.8h.01M483.0 205.0h.01M482.4 205.0h.01"/><path d="M473.0 210.5h.01M468.3 213.9h.01M480.8 211.2h.01M506.7 183.0h.01M448.0 220.1h.01M480.4 203.5h.01M497.6 197.0h.01M478.6 203.4h.01"/><path d="M464.1 217.4h.01M474.7 208.2h.01M459.6 219.8h.01M463.0 213.8h.01M464.8 213.1h.01M475.9 211.1h.01M486.0 200.1h.01M468.3 209.7h.01"/><path d="M499.4 200.9h.01M490.9 207.1h.01M474.2 206.6h.01M482.3 202.8h.01M472.2 208.6h.01M453.7 215.5h.01M451.3 226.0h.01M467.1 219.2h.01"/><path d="M492.3 200.7h.01M463.9 216.8h.01M485.4 200.5h.01M467.4 213.4h.01M476.9 208.6h.01M463.7 215.8h.01M449.6 222.0h.01M488.7 201.6h.01"/><path d="M470.7 220.2h.01M468.9 209.8h.01M448.0 224.1h.01M460.7 211.1h.01M480.3 200.8h.01M472.0 212.3h.01M458.6 213.8h.01M469.9 212.1h.01"/><path d="M456.3 220.8h.01M459.2 219.0h.01M494.9 198.9h.01M459.0 218.5h.01M476.8 211.2h.01M449.9 225.1h.01M480.5 204.9h.01M493.6 195.8h.01"/><path d="M483.2 209.6h.01M471.9 212.3h.01M462.3 214.6h.01M467.5 212.0h.01M466.2 213.3h.01M490.1 197.7h.01M489.0 199.9h.01M451.2 221.0h.01"/><path d="M471.8 215.7h.01M496.6 195.4h.01M473.3 216.0h.01M490.9 199.5h.01M458.9 217.1h.01M488.6 197.5h.01M486.7 197.8h.01M459.4 223.4h.01"/><path d="M480.7 200.4h.01M476.0 211.1h.01M476.7 210.9h.01M477.9 207.8h.01M488.4 200.5h.01M503.3 186.8h.01M484.8 204.5h.01M484.5 206.0h.01"/><path d="M478.1 209.4h.01M489.4 201.8h.01M473.7 206.3h.01M478.2 207.5h.01M454.9 221.8h.01M491.6 198.9h.01M467.3 212.0h.01M505.2 188.9h.01"/><path d="M472.0 214.3h.01M477.8 213.6h.01M465.6 218.8h.01M499.5 200.1h.01M475.8 211.5h.01M454.0 221.4h.01M491.0 200.6h.01M468.8 213.4h.01"/><path d="M484.1 202.5h.01M470.9 214.6h.01M477.4 213.5h.01M468.2 209.5h.01M476.4 209.5h.01M459.6 224.1h.01M487.1 202.5h.01M459.8 224.7h.01"/><path d="M463.3 210.9h.01M478.5 216.7h.01M467.9 213.2h.01M453.1 224.3h.01M496.3 199.1h.01M448.4 229.0h.01M487.8 205.6h.01M473.7 209.9h.01"/><path d="M472.4 211.6h.01M470.4 206.7h.01M474.6 213.2h.01M452.5 228.9h.01M473.7 213.8h.01M495.6 196.4h.01M472.7 204.2h.01M483.9 211.5h.01"/><path d="M490.1 205.7h.01M453.8 219.2h.01M479.9 213.5h.01M478.4 196.5h.01M448.2 230.7h.01M449.8 226.6h.01M465.7 217.5h.01M447.6 226.9h.01"/><path d="M464.4 207.9h.01M474.4 216.6h.01M452.6 225.1h.01M465.8 218.5h.01M492.5 198.2h.01M469.6 217.6h.01M458.4 217.5h.01M488.9 197.2h.01"/><path d="M480.8 205.0h.01M503.1 186.9h.01M492.4 201.2h.01M483.7 204.9h.01M467.4 218.2h.01M487.4 198.4h.01M482.2 202.9h.01M479.9 204.2h.01"/><path d="M488.7 203.4h.01M466.9 215.5h.01M477.4 206.5h.01M470.8 217.1h.01M475.6 214.3h.01M472.4 207.4h.01M449.4 219.7h.01M469.5 220.0h.01"/><path d="M457.9 228.8h.01M474.3 210.1h.01M477.5 207.4h.01M482.7 206.2h.01M455.3 221.2h.01M474.7 206.7h.01M481.7 206.9h.01M483.8 207.6h.01"/><path d="M470.5 216.0h.01M467.0 220.1h.01M462.9 215.9h.01M451.6 222.0h.01M483.9 203.7h.01M459.0 215.2h.01M464.1 216.8h.01M489.3 203.8h.01"/><path d="M486.1 204.8h.01M492.9 199.6h.01M468.7 211.8h.01M478.0 209.9h.01M488.5 207.1h.01M487.7 196.8h.01M473.1 212.4h.01M480.5 215.3h.01"/><path d="M463.4 213.1h.01M464.6 214.8h.01M483.2 199.5h.01M481.7 205.7h.01M491.6 198.2h.01M468.0 206.5h.01M473.0 210.1h.01M467.1 211.0h.01"/><path d="M460.1 217.6h.01M461.9 208.5h.01M484.2 203.4h.01M479.4 209.1h.01M476.1 205.2h.01M458.7 225.4h.01M477.3 210.4h.01M482.7 205.6h.01"/><path d="M487.4 208.6h.01M483.5 201.6h.01M476.0 204.8h.01M482.5 211.5h.01M474.8 210.6h.01M462.4 209.3h.01M475.2 215.9h.01M477.1 206.2h.01"/><path d="M454.5 222.5h.01M492.4 192.9h.01M446.6 231.8h.01M487.2 203.8h.01M466.6 207.9h.01M454.9 222.5h.01M471.7 222.1h.01M458.7 220.5h.01"/><path d="M478.3 208.6h.01M464.5 215.4h.01M455.9 226.5h.01M465.0 214.9h.01M493.9 191.7h.01M447.6 231.9h.01M471.4 208.8h.01M480.7 201.0h.01"/><path d="M449.4 228.9h.01M464.1 218.4h.01M492.4 194.3h.01M486.8 203.0h.01M465.6 211.3h.01M455.5 217.8h.01M457.7 220.2h.01M465.5 213.7h.01"/><path d="M506.5 193.4h.01M476.1 205.3h.01M473.2 214.2h.01M456.2 220.0h.01M470.7 208.6h.01M471.6 220.6h.01M499.6 190.6h.01M490.8 196.5h.01"/><path d="M490.5 198.0h.01M474.6 203.0h.01M490.9 198.7h.01M491.8 199.8h.01M454.0 221.2h.01M482.7 210.2h.01M465.3 214.6h.01M479.7 211.0h.01"/><path d="M487.2 202.6h.01M466.8 210.9h.01M499.2 194.4h.01M465.6 210.0h.01M476.9 209.5h.01M475.8 213.4h.01M493.7 201.8h.01M469.8 211.8h.01"/><path d="M461.7 216.1h.01M477.9 202.1h.01M485.8 205.7h.01M486.4 199.0h.01M471.5 210.9h.01M484.9 201.0h.01M481.4 205.0h.01M491.6 200.4h.01"/><path d="M475.4 208.3h.01M469.9 209.6h.01M483.1 205.2h.01M490.0 202.0h.01M482.6 209.3h.01M510.4 189.1h.01M465.9 217.8h.01M470.7 210.2h.01"/><path d="M474.4 204.8h.01M457.7 218.4h.01M497.2 197.1h.01M497.7 197.5h.01M473.8 209.2h.01M472.7 213.1h.01M471.5 213.2h.01M459.9 221.6h.01"/><path d="M448.3 225.1h.01M472.3 213.9h.01M459.4 219.5h.01M465.6 213.9h.01M475.4 204.2h.01M487.5 200.0h.01M458.3 220.3h.01M467.9 220.6h.01"/><path d="M466.2 215.8h.01M485.3 195.0h.01M457.6 219.9h.01M475.7 203.9h.01M459.2 216.4h.01M445.8 231.2h.01M483.2 212.6h.01M479.2 208.1h.01"/><path d="M466.6 217.0h.01M463.2 213.4h.01M455.9 222.6h.01M467.6 213.7h.01M478.2 207.6h.01M470.3 214.9h.01M471.9 214.9h.01M454.0 217.4h.01"/><path d="M474.1 211.0h.01M488.2 202.4h.01M468.3 210.3h.01M476.7 204.6h.01M499.6 202.6h.01M487.6 206.0h.01M458.8 218.1h.01M479.6 204.3h.01"/><path d="M497.0 193.4h.01M480.6 204.5h.01M449.4 223.0h.01M494.3 194.2h.01M468.1 210.3h.01M485.5 202.9h.01M464.9 218.1h.01M458.9 213.7h.01"/><path d="M465.0 219.7h.01M468.0 210.6h.01M447.6 226.0h.01M470.1 207.8h.01M476.1 210.1h.01M474.7 203.4h.01M503.7 187.1h.01M454.8 220.5h.01"/><path d="M485.0 200.5h.01M449.3 224.8h.01M468.0 215.3h.01M483.3 202.8h.01M468.5 214.7h.01M480.3 203.2h.01M473.4 205.4h.01M474.8 207.2h.01"/><path d="M476.8 213.7h.01M474.7 211.9h.01M465.8 218.2h.01M464.3 216.1h.01M487.9 207.6h.01M460.7 218.0h.01M472.2 206.9h.01M467.5 210.6h.01"/><path d="M454.7 227.4h.01M477.9 208.8h.01M478.6 211.0h.01M484.7 200.5h.01M485.4 205.6h.01M466.4 210.7h.01M446.4 231.5h.01M510.6 192.5h.01"/><path d="M493.9 194.8h.01M455.1 222.0h.01M482.0 207.8h.01M485.1 203.0h.01M507.1 190.7h.01M466.5 214.6h.01M475.1 212.8h.01M487.9 204.4h.01"/><path d="M472.2 210.1h.01M471.3 208.6h.01M464.8 210.1h.01M488.2 205.6h.01M453.1 221.9h.01M490.0 198.6h.01M455.5 223.4h.01M467.6 206.8h.01"/><path d="M463.7 213.4h.01M485.3 199.7h.01M491.7 198.7h.01M479.6 197.6h.01M464.0 215.8h.01M471.0 213.9h.01M459.0 220.5h.01M497.2 197.4h.01"/><path d="M504.4 199.1h.01M458.6 223.5h.01M467.2 221.2h.01M496.5 201.3h.01M505.7 194.0h.01M483.5 198.3h.01M470.9 220.1h.01M456.4 216.7h.01"/><path d="M488.3 200.9h.01M474.5 207.1h.01M488.0 198.9h.01M476.8 207.4h.01M457.7 225.2h.01M471.8 210.7h.01M484.6 206.0h.01M448.4 221.5h.01"/><path d="M484.3 199.1h.01M459.5 215.8h.01M464.8 215.4h.01M491.2 200.8h.01M478.9 203.2h.01M450.8 230.3h.01M471.3 210.3h.01M446.4 226.6h.01"/><path d="M505.0 188.6h.01M458.0 220.4h.01M459.6 223.9h.01M459.2 227.0h.01M466.0 217.6h.01M460.9 216.5h.01M475.2 206.3h.01M447.0 221.2h.01"/><path d="M494.2 201.1h.01M472.9 213.8h.01M467.0 212.9h.01M485.6 207.9h.01M472.8 211.6h.01M474.0 217.0h.01M450.8 226.1h.01M484.4 208.5h.01"/><path d="M464.7 211.8h.01M479.5 207.9h.01M481.8 208.2h.01M472.4 213.1h.01M461.2 220.7h.01M467.3 211.2h.01M460.0 226.4h.01M482.2 202.4h.01"/><path d="M465.0 213.8h.01M500.7 194.3h.01M471.5 212.0h.01M494.4 200.8h.01M484.2 205.8h.01M466.4 211.6h.01M460.1 216.9h.01M502.4 192.4h.01"/><path d="M487.2 200.0h.01M482.4 201.2h.01M453.3 222.0h.01M485.0 206.7h.01M481.5 207.1h.01M469.5 211.5h.01M488.7 207.0h.01M465.0 217.6h.01"/><path d="M471.5 210.9h.01M468.3 215.8h.01M474.5 206.8h.01M478.8 210.2h.01M492.5 200.2h.01M480.7 204.0h.01M491.1 199.3h.01M468.7 214.5h.01"/><path d="M479.6 210.1h.01M481.9 204.9h.01M471.0 210.6h.01M464.8 211.0h.01M483.0 194.1h.01M460.2 222.8h.01M462.4 220.7h.01M468.4 216.2h.01"/><path d="M467.6 212.1h.01M457.5 222.5h.01M485.6 208.2h.01M484.8 206.2h.01M480.6 207.6h.01M453.8 222.8h.01M484.9 202.7h.01M454.9 218.7h.01"/><path d="M461.2 224.4h.01M491.7 199.3h.01M469.6 214.2h.01M464.7 217.4h.01M462.0 214.2h.01M480.3 201.2h.01M467.6 207.4h.01M486.4 202.3h.01"/><path d="M471.6 210.1h.01M480.9 205.2h.01M473.0 205.0h.01M473.7 214.4h.01M462.1 216.0h.01M483.8 194.9h.01M481.7 202.0h.01M491.4 198.1h.01"/><path d="M468.3 213.8h.01M463.8 220.0h.01M470.7 217.0h.01M462.4 212.7h.01M445.2 228.7h.01M502.7 194.7h.01M468.9 216.2h.01M496.7 191.8h.01"/><path d="M502.2 190.9h.01M478.3 204.7h.01M471.6 213.9h.01M460.8 215.9h.01M482.0 204.9h.01M472.9 205.6h.01M470.1 214.3h.01M484.7 203.5h.01"/><path d="M479.5 203.8h.01M483.5 201.6h.01M484.6 202.7h.01M478.6 209.3h.01M461.0 220.7h.01M474.3 212.2h.01M487.3 202.4h.01M484.1 204.6h.01"/><path d="M471.3 204.5h.01M453.3 221.1h.01M488.4 205.9h.01M474.3 217.0h.01M484.5 203.2h.01M497.6 198.3h.01M496.8 190.9h.01M475.9 212.8h.01"/><path d="M462.9 215.2h.01M479.9 209.2h.01M456.1 219.3h.01M457.6 221.2h.01M484.9 198.8h.01M463.6 207.4h.01M478.5 197.1h.01M468.2 213.5h.01"/><path d="M461.9 216.1h.01M475.8 204.1h.01M455.1 224.2h.01M466.0 216.2h.01M486.3 205.4h.01M496.5 195.1h.01M501.7 193.6h.01M481.5 211.0h.01"/><path d="M478.2 205.5h.01M488.4 206.6h.01M463.8 218.0h.01M452.0 230.0h.01M482.5 202.6h.01M464.5 217.6h.01M474.4 212.5h.01M479.4 204.7h.01"/><path d="M488.4 200.2h.01M485.4 201.1h.01M486.2 203.8h.01M480.0 206.2h.01M467.0 219.8h.01M459.2 225.3h.01M493.6 203.3h.01"/></g>
<g stroke="#000" stroke-opacity="0.14" stroke-width="0.8" stroke-linecap="square" fill="none"><path d="M479.8 207.2h.01M478.8 205.2h.01M481.8 210.1h.01M482.9 205.6h.01M479.0 206.9h.01M480.2 202.8h.01M484.3 203.4h.01M477.4 211.4h.01"/><path d="M480.1 202.5h.01M480.9 206.4h.01M485.8 207.4h.01M477.9 206.5h.01M486.1 203.4h.01M482.4 204.3h.01M486.8 205.6h.01M486.1 207.3h.01"/><path d="M465.3 218.0h.01M473.6 208.0h.01M486.2 206.3h.01M487.1 205.1h.01M480.3 207.3h.01M480.0 204.0h.01M483.9 203.0h.01M483.8 202.7h.01"/><path d="M477.6 210.3h.01M476.9 207.1h.01M475.6 202.2h.01M477.0 211.9h.01M483.2 200.1h.01M482.4 202.5h.01M489.3 200.8h.01M472.5 213.1h.01"/><path d="M488.3 205.7h.01M480.3 205.6h.01M477.5 206.0h.01M480.7 198.9h.01M485.1 205.2h.01M478.2 210.3h.01M487.1 203.8h.01M479.0 204.9h.01"/><path d="M476.4 209.8h.01M470.7 215.9h.01M476.4 207.6h.01M487.8 201.6h.01M481.8 204.9h.01M485.8 200.0h.01M483.6 207.4h.01M485.4 201.9h.01"/><path d="M488.0 201.5h.01M492.9 199.3h.01M490.0 199.7h.01M478.9 210.8h.01M477.5 203.8h.01M484.5 201.6h.01M464.9 214.1h.01M484.6 205.3h.01"/><path d="M476.6 208.8h.01M492.5 201.8h.01M475.9 205.0h.01M478.2 208.9h.01M482.8 208.6h.01M483.5 208.1h.01M485.9 202.8h.01M494.0 196.6h.01"/><path d="M490.7 203.7h.01M479.3 206.1h.01M493.5 203.0h.01M485.7 201.1h.01M488.8 198.7h.01M481.5 207.2h.01M472.5 210.8h.01M476.4 202.6h.01"/><path d="M476.3 208.0h.01M471.4 213.4h.01M480.9 203.5h.01M489.4 200.7h.01M473.0 209.7h.01M482.9 203.2h.01M474.6 206.6h.01M480.0 204.4h.01"/><path d="M487.4 199.9h.01M479.2 200.5h.01M482.4 206.0h.01M479.0 202.6h.01M480.4 204.7h.01M488.5 202.7h.01M469.5 212.5h.01M482.7 206.7h.01"/><path d="M484.9 201.5h.01M473.6 209.1h.01M481.4 210.3h.01M483.3 204.6h.01M475.2 208.1h.01M484.3 205.6h.01M481.5 202.5h.01M475.6 208.3h.01"/><path d="M477.3 201.3h.01M468.1 212.1h.01M478.7 207.7h.01M492.1 198.8h.01M494.8 198.4h.01M483.3 206.0h.01M476.1 208.9h.01M478.4 207.0h.01"/><path d="M464.7 210.3h.01M477.0 203.1h.01M473.9 209.6h.01M501.1 195.7h.01M472.1 213.4h.01M482.4 202.9h.01M488.7 201.7h.01M471.3 213.6h.01"/><path d="M487.4 200.4h.01M468.5 214.1h.01M486.0 196.1h.01M483.5 203.4h.01M474.1 213.0h.01M480.0 205.0h.01M484.7 205.0h.01M474.5 212.5h.01"/><path d="M472.5 209.5h.01M466.8 216.2h.01M481.1 201.2h.01M479.5 203.8h.01M479.1 209.5h.01M474.2 205.6h.01M485.9 201.3h.01M500.9 193.2h.01"/><path d="M483.8 203.2h.01M475.8 202.1h.01M491.7 203.4h.01M477.4 206.9h.01M487.2 206.1h.01M469.3 219.4h.01M480.2 206.8h.01M483.7 206.6h.01"/><path d="M475.8 215.6h.01M481.9 204.2h.01M485.4 200.6h.01M477.4 204.1h.01M480.6 208.3h.01M478.1 209.6h.01M467.0 214.5h.01M482.5 206.1h.01"/><path d="M475.6 208.3h.01M490.9 199.4h.01M478.2 209.6h.01M481.8 209.3h.01M479.6 206.7h.01M490.4 196.9h.01M487.8 203.7h.01M486.2 206.1h.01"/><path d="M481.8 204.1h.01M472.9 205.0h.01M486.6 208.2h.01M484.4 205.0h.01M479.8 205.3h.01M485.7 209.2h.01M472.3 209.2h.01M485.7 197.0h.01"/><path d="M494.4 203.6h.01M487.9 207.4h.01M490.0 199.3h.01M470.6 206.4h.01M487.1 207.9h.01M483.3 206.7h.01M481.8 206.9h.01M490.9 204.0h.01"/><path d="M479.8 201.1h.01M475.1 209.1h.01M482.7 207.0h.01M484.3 203.5h.01M472.2 206.2h.01M485.5 203.5h.01M477.7 210.5h.01M488.2 201.7h.01"/><path d="M483.5 204.9h.01M484.4 204.1h.01M485.4 203.7h.01M484.6 201.5h.01M481.0 208.6h.01M475.7 211.6h.01M473.2 208.3h.01M478.0 203.0h.01"/><path d="M494.4 197.2h.01M471.5 213.3h.01M482.1 209.8h.01M478.5 206.7h.01M478.7 209.8h.01M473.3 205.4h.01M480.7 208.7h.01M476.8 205.7h.01"/><path d="M475.6 207.9h.01M483.9 201.8h.01M489.8 201.9h.01M488.5 203.5h.01M476.3 205.2h.01M485.5 203.0h.01M472.4 209.8h.01M477.9 210.8h.01"/><path d="M476.1 208.3h.01M467.0 213.9h.01M482.3 206.9h.01M485.9 200.8h.01M477.7 210.2h.01M486.9 206.8h.01M479.3 209.0h.01M480.6 205.6h.01"/><path d="M479.1 203.7h.01M482.3 206.1h.01M472.0 209.5h.01M481.6 201.0h.01M475.8 209.2h.01M480.2 206.7h.01M482.9 210.0h.01M484.6 201.6h.01"/><path d="M484.2 196.9h.01M478.6 207.6h.01M477.8 202.0h.01M469.2 212.1h.01M475.1 217.7h.01M470.0 217.3h.01M488.2 204.0h.01M480.7 209.7h.01"/><path d="M485.8 206.3h.01M489.9 203.2h.01M475.6 209.0h.01M478.6 203.1h.01M482.9 208.4h.01M477.8 209.8h.01M484.4 202.6h.01M478.5 204.9h.01"/><path d="M477.4 208.7h.01M479.4 202.2h.01M480.3 207.4h.01M473.1 208.9h.01M476.4 207.9h.01M467.3 211.5h.01M473.4 213.3h.01M488.8 205.0h.01"/><path d="M479.9 206.4h.01M472.4 207.3h.01M492.4 204.7h.01M470.4 210.3h.01M473.0 212.3h.01M480.3 204.3h.01M479.0 207.0h.01M473.9 206.5h.01"/><path d="M476.9 207.5h.01M477.2 208.1h.01M479.7 207.3h.01M473.1 208.6h.01M488.8 200.2h.01M483.8 201.6h.01M485.7 202.0h.01M480.5 203.6h.01"/><path d="M482.3 208.1h.01M483.3 210.3h.01M479.8 205.4h.01M487.8 201.1h.01M486.1 202.6h.01M476.2 213.4h.01M476.5 213.1h.01M484.6 204.2h.01"/><path d="M483.8 203.9h.01M485.3 199.8h.01M476.9 209.4h.01M479.5 211.9h.01M482.9 201.0h.01M481.1 207.4h.01M490.4 207.1h.01M481.3 205.3h.01"/><path d="M475.0 205.5h.01M486.8 203.0h.01M480.5 207.5h.01M479.2 211.2h.01M487.5 198.6h.01M486.9 205.5h.01M490.4 193.7h.01M482.9 207.5h.01"/><path d="M474.6 208.8h.01M474.9 210.0h.01M489.2 205.3h.01M490.5 194.9h.01M474.9 214.3h.01M480.2 209.7h.01M482.5 213.0h.01M476.5 203.3h.01"/><path d="M474.0 211.3h.01M470.4 210.8h.01M476.3 202.9h.01M482.2 206.3h.01M484.5 205.2h.01M471.8 210.9h.01M479.2 206.6h.01M483.5 205.9h.01"/><path d="M480.6 200.8h.01M471.2 206.9h.01M480.1 208.9h.01M495.1 196.3h.01M487.7 199.1h.01M470.0 212.7h.01M479.1 211.3h.01M469.5 213.1h.01"/><path d="M483.5 203.1h.01M479.7 209.2h.01M475.2 211.4h.01M474.4 210.8h.01M481.6 208.3h.01M480.1 208.9h.01M479.7 205.2h.01M480.9 204.6h.01"/><path d="M470.9 213.7h.01M481.2 203.8h.01M470.5 212.3h.01M488.1 201.9h.01M479.2 205.7h.01M481.0 203.8h.01M480.7 205.7h.01M475.9 209.8h.01"/><path d="M488.4 201.8h.01M480.1 208.0h.01M486.5 205.0h.01M487.4 204.7h.01M473.7 210.0h.01M480.8 205.1h.01M487.5 203.0h.01M484.5 206.5h.01"/><path d="M487.3 199.9h.01M483.5 203.8h.01M476.1 210.1h.01M483.6 204.3h.01M483.1 208.8h.01M482.5 207.1h.01M474.0 210.9h.01M468.1 212.1h.01"/><path d="M485.7 203.0h.01M475.7 212.3h.01M483.0 212.2h.01M480.6 204.1h.01M479.2 208.6h.01M481.1 204.8h.01M487.1 201.9h.01M476.9 210.0h.01"/><path d="M479.4 202.2h.01M480.0 209.9h.01M478.1 214.3h.01M484.4 208.0h.01M475.7 215.5h.01M472.8 209.5h.01"/></g>
<g stroke="#000" stroke-opacity="0.12" stroke-width="0.8" stroke-linecap="square" fill="none"><path d="M452.7 222.1h.01M461.8 219.9h.01M458.9 219.5h.01M459.4 219.6h.01M461.0 215.8h.01M467.0 215.3h.01M454.3 221.0h.01M458.6 223.0h.01"/><path d="M466.6 212.6h.01M457.7 222.1h.01M460.8 218.4h.01M461.6 218.9h.01M452.2 230.4h.01M463.6 216.5h.01M447.3 226.7h.01M459.5 217.6h.01"/><path d="M458.6 219.4h.01M457.0 226.5h.01M457.6 220.8h.01M459.4 224.8h.01M457.5 223.4h.01M464.3 220.6h.01M454.6 225.1h.01M458.1 217.4h.01"/><path d="M463.2 222.0h.01M451.5 220.3h.01M460.2 220.2h.01M460.2 217.6h.01M467.3 214.3h.01M456.6 224.8h.01M463.9 217.1h.01M459.2 218.6h.01"/><path d="M451.5 220.0h.01M457.9 221.5h.01M457.4 220.8h.01M457.7 222.1h.01M460.3 215.3h.01M464.4 220.4h.01M455.1 218.4h.01M458.8 219.9h.01"/><path d="M455.7 217.6h.01M457.4 222.7h.01M466.5 220.3h.01M453.1 216.2h.01M458.4 219.4h.01M449.1 227.1h.01M454.9 225.1h.01M454.8 222.7h.01"/><path d="M456.1 219.1h.01M448.4 229.2h.01M462.1 217.2h.01M466.8 216.7h.01M463.3 215.9h.01M455.0 228.3h.01M467.0 211.6h.01M460.7 221.6h.01"/><path d="M450.3 227.0h.01M457.2 216.5h.01M457.4 221.7h.01M456.9 218.4h.01M464.3 211.1h.01M458.0 218.6h.01M454.9 225.0h.01M456.0 219.6h.01"/><path d="M447.8 227.3h.01M467.4 211.5h.01M467.0 216.8h.01M462.0 221.1h.01M467.7 215.7h.01M458.3 223.7h.01M458.3 215.9h.01M459.1 220.4h.01"/><path d="M455.0 219.2h.01M459.0 218.6h.01M459.1 219.6h.01M461.8 216.3h.01M451.8 224.9h.01M457.4 219.7h.01M466.3 217.5h.01M457.6 225.3h.01"/><path d="M454.3 219.4h.01M454.1 219.3h.01M459.7 220.3h.01M460.4 220.7h.01M461.0 218.8h.01M450.8 227.8h.01M462.1 219.0h.01M446.6 225.0h.01"/><path d="M468.0 218.1h.01M457.9 218.4h.01M460.5 217.2h.01M450.1 222.8h.01M458.1 222.4h.01M460.1 216.4h.01M464.5 218.8h.01M463.0 222.2h.01"/><path d="M464.5 219.1h.01M453.9 221.1h.01M461.4 221.0h.01M459.9 214.1h.01M451.5 224.5h.01M459.4 219.1h.01M458.4 217.3h.01M462.8 217.2h.01"/><path d="M464.7 217.7h.01M468.1 214.1h.01M457.2 219.5h.01M455.7 225.8h.01M453.4 219.4h.01M463.2 219.4h.01M458.5 220.5h.01M456.1 223.4h.01"/><path d="M456.0 226.4h.01M453.2 220.1h.01M462.2 218.7h.01M462.3 221.4h.01M461.1 219.2h.01M456.2 220.7h.01M455.5 216.0h.01M454.6 223.6h.01"/><path d="M460.8 219.3h.01M467.4 214.1h.01M451.0 227.4h.01M446.7 227.9h.01M456.3 219.9h.01M464.9 218.9h.01M459.7 219.6h.01M467.0 214.5h.01"/><path d="M458.0 222.0h.01M463.9 222.1h.01M455.8 225.2h.01M451.0 223.4h.01M448.0 222.7h.01M453.8 226.1h.01M473.9 214.5h.01M456.7 221.9h.01"/><path d="M448.2 228.2h.01M459.0 217.9h.01M457.4 219.0h.01M463.1 221.1h.01M463.4 215.4h.01M459.0 220.9h.01M459.1 219.6h.01M458.7 223.3h.01"/><path d="M462.8 217.5h.01M459.7 216.0h.01M453.6 222.2h.01M458.0 220.1h.01M453.9 219.6h.01M452.9 225.1h.01M459.5 219.1h.01M461.9 223.2h.01"/><path d="M454.9 229.4h.01M454.0 218.7h.01M455.5 218.3h.01M464.6 218.4h.01M450.5 231.7h.01M455.2 222.5h.01M467.0 216.3h.01M456.2 219.8h.01"/><path d="M461.1 218.6h.01M465.7 216.3h.01M460.7 221.3h.01M465.2 220.2h.01M464.3 219.2h.01M465.7 217.8h.01M463.5 211.9h.01M452.3 217.8h.01"/><path d="M454.6 224.0h.01M454.3 223.6h.01M460.2 218.9h.01M467.0 211.6h.01M458.2 220.2h.01M452.0 222.1h.01M453.9 228.6h.01M448.7 220.6h.01"/><path d="M462.0 218.1h.01M451.6 224.7h.01M450.0 223.3h.01M459.0 220.2h.01M452.1 221.8h.01M458.0 218.9h.01M456.8 224.3h.01M471.8 212.4h.01"/><path d="M458.2 219.9h.01M460.1 216.5h.01M453.5 222.2h.01M462.1 216.8h.01M450.6 222.9h.01M463.1 214.6h.01M451.0 221.7h.01M458.5 222.3h.01"/><path d="M459.0 223.0h.01M459.8 220.2h.01M455.1 219.3h.01M456.3 219.0h.01M456.2 223.1h.01M462.6 219.8h.01M457.7 228.4h.01M465.8 212.1h.01"/></g>
<g stroke="#000" stroke-opacity="0.06" stroke-width="0.8" stroke-linecap="square" fill="none"><path d="M500.1 179.6h.01M481.7 186.3h.01M463.9 224.4h.01M448.9 213.8h.01M492.7 187.2h.01M460.2 207.3h.01M501.5 198.8h.01M464.8 203.6h.01"/><path d="M450.2 217.6h.01M482.9 209.4h.01M447.2 219.2h.01M467.1 203.1h.01M511.5 166.5h.01M484.8 201.4h.01M494.7 195.6h.01M497.5 172.6h.01"/><path d="M470.8 207.3h.01M454.0 227.4h.01M489.4 196.5h.01M483.2 176.6h.01M475.4 203.4h.01M459.4 216.2h.01M476.8 185.5h.01M498.2 187.6h.01"/><path d="M486.1 184.6h.01M493.6 214.4h.01M472.8 204.8h.01M500.0 186.8h.01M480.1 194.0h.01M493.6 179.7h.01M485.3 177.3h.01M487.5 183.5h.01"/><path d="M467.0 204.5h.01M483.0 195.8h.01M481.7 228.1h.01M512.0 188.5h.01M449.6 202.4h.01M470.7 222.9h.01M488.5 199.6h.01M472.7 206.4h.01"/><path d="M473.9 176.6h.01M460.8 213.4h.01M460.1 201.3h.01M474.5 194.3h.01M493.8 202.7h.01M502.7 185.5h.01M486.9 194.3h.01M474.6 193.5h.01"/><path d="M470.6 191.4h.01M476.4 198.3h.01M448.6 221.9h.01M512.9 195.5h.01M461.0 213.5h.01M489.3 177.4h.01M473.4 200.3h.01M471.9 207.6h.01"/><path d="M465.5 211.6h.01M469.2 203.2h.01M457.0 205.4h.01M469.2 198.3h.01M449.3 224.8h.01M473.0 198.5h.01M461.5 192.6h.01M461.4 193.8h.01"/><path d="M496.5 178.5h.01M478.6 191.9h.01M475.3 212.2h.01M465.5 213.3h.01M468.1 212.7h.01M450.9 214.8h.01M504.8 190.0h.01M453.4 225.5h.01"/><path d="M447.8 219.8h.01M471.7 178.2h.01M456.4 227.9h.01M469.8 205.1h.01M497.7 171.3h.01M469.6 226.0h.01M486.0 197.8h.01M500.0 185.1h.01"/><path d="M475.6 212.8h.01M466.0 193.8h.01M455.6 210.9h.01M456.5 202.7h.01M468.8 198.5h.01M483.2 204.4h.01M470.9 214.1h.01M451.6 197.8h.01"/><path d="M468.9 192.3h.01M467.6 190.7h.01M466.8 206.3h.01M480.2 176.3h.01M479.2 204.7h.01M482.1 172.6h.01M450.3 225.6h.01M487.4 196.6h.01"/><path d="M474.9 192.7h.01M506.7 193.3h.01M462.4 209.1h.01M484.7 201.9h.01M477.1 207.1h.01M483.4 181.0h.01M454.7 207.1h.01M450.4 212.1h.01"/><path d="M491.0 179.6h.01M458.7 195.4h.01M473.6 185.1h.01M467.9 217.2h.01M465.9 202.8h.01M468.5 201.8h.01M507.4 191.8h.01M477.1 184.9h.01"/><path d="M474.0 180.6h.01M465.8 204.4h.01M468.7 207.8h.01M464.0 212.8h.01M474.8 203.4h.01M482.7 189.3h.01M504.0 171.5h.01M462.9 225.3h.01"/><path d="M467.8 211.4h.01M461.2 194.8h.01M486.3 207.3h.01M449.4 199.7h.01M445.6 211.6h.01M495.5 199.6h.01M445.6 216.1h.01M473.5 190.2h.01"/><path d="M488.8 201.9h.01M507.4 176.7h.01M474.4 198.4h.01M447.1 227.4h.01M485.3 185.9h.01M462.2 207.3h.01M465.1 212.8h.01M469.7 215.6h.01"/><path d="M459.1 211.9h.01M473.6 202.8h.01M466.9 200.9h.01M474.7 199.6h.01M465.4 207.2h.01M484.8 186.2h.01M470.0 210.1h.01M464.0 219.0h.01"/><path d="M508.5 187.1h.01M491.2 190.0h.01M488.4 197.6h.01M463.2 196.9h.01M502.5 179.6h.01M491.9 181.2h.01M490.0 186.2h.01M459.8 184.3h.01"/><path d="M462.6 198.7h.01M466.6 200.5h.01M465.6 213.6h.01M466.1 196.9h.01M472.2 196.7h.01M454.6 201.5h.01M468.3 199.5h.01M492.7 195.6h.01"/><path d="M460.3 207.2h.01M464.7 222.2h.01M464.2 192.3h.01M483.7 188.9h.01M455.6 194.4h.01M459.3 219.3h.01M447.2 213.4h.01M457.1 211.1h.01"/><path d="M497.3 202.3h.01M454.2 206.8h.01M476.6 200.1h.01M476.8 205.6h.01M475.0 190.9h.01M463.4 214.6h.01M449.9 218.3h.01M498.3 191.6h.01"/><path d="M462.1 193.6h.01M458.4 214.4h.01M472.8 203.1h.01M513.2 176.9h.01M498.4 178.5h.01M464.3 191.6h.01M505.5 176.6h.01M468.3 198.0h.01"/><path d="M448.9 212.9h.01M483.1 193.0h.01M450.3 207.4h.01M471.9 207.8h.01M484.9 202.8h.01M491.7 189.8h.01M453.6 211.1h.01M506.3 167.6h.01"/><path d="M449.4 227.0h.01M480.7 186.2h.01M465.3 198.2h.01M446.6 209.7h.01M499.2 185.3h.01M499.0 209.7h.01M491.3 191.3h.01M495.0 201.3h.01"/><path d="M507.5 176.3h.01M512.3 189.4h.01M449.4 202.4h.01M487.3 202.4h.01M463.8 215.7h.01M496.5 192.3h.01M468.4 193.2h.01M458.8 216.4h.01"/><path d="M453.4 201.1h.01M457.8 200.3h.01M485.2 188.7h.01M485.8 185.0h.01M459.4 201.3h.01M472.6 200.3h.01M468.5 206.0h.01M491.3 185.1h.01"/><path d="M483.1 201.7h.01M475.9 196.9h.01M469.4 221.2h.01M454.3 209.5h.01M487.7 192.7h.01M492.2 207.5h.01M478.8 212.8h.01M494.6 201.0h.01"/><path d="M488.2 199.0h.01M455.3 209.5h.01M483.4 204.1h.01M447.3 211.6h.01M499.6 173.1h.01M468.9 206.4h.01M483.9 189.4h.01M490.4 206.9h.01"/><path d="M475.7 212.6h.01M485.7 187.9h.01M473.6 203.6h.01M471.9 200.3h.01M460.7 201.2h.01M460.1 209.2h.01M463.9 209.1h.01M490.8 209.7h.01"/><path d="M465.2 218.6h.01M462.8 217.2h.01M491.5 171.7h.01M468.4 182.9h.01M450.0 207.6h.01M462.0 215.7h.01M511.1 177.5h.01M456.3 206.1h.01"/><path d="M464.0 203.1h.01M452.5 217.7h.01M445.3 214.6h.01M497.2 184.3h.01M467.9 217.3h.01M497.9 184.9h.01M502.2 190.4h.01M454.1 215.1h.01"/><path d="M471.8 190.7h.01M484.1 195.8h.01M459.3 219.6h.01M482.9 190.7h.01M470.0 198.9h.01M498.0 173.8h.01M455.1 198.4h.01M448.6 216.7h.01"/><path d="M467.4 204.5h.01M480.6 194.1h.01M491.6 204.7h.01M503.6 185.4h.01M470.0 189.5h.01M467.8 212.4h.01M472.7 199.2h.01M489.4 196.8h.01"/><path d="M474.1 192.9h.01M461.0 202.0h.01M468.5 204.5h.01M513.4 210.8h.01M472.3 191.5h.01M445.4 207.8h.01M488.3 194.1h.01M487.8 181.8h.01"/><path d="M489.4 186.5h.01M476.1 180.5h.01M450.0 226.6h.01M462.8 224.6h.01M478.2 217.5h.01M461.3 205.0h.01M467.5 185.5h.01M491.7 177.0h.01"/><path d="M475.6 199.3h.01M477.4 216.0h.01M481.5 206.1h.01M467.2 221.5h.01M471.3 197.2h.01M486.5 189.2h.01M478.4 205.7h.01M493.2 201.7h.01"/><path d="M488.8 193.6h.01M507.6 182.0h.01M486.4 190.2h.01M482.8 188.6h.01M486.7 199.8h.01M455.5 219.5h.01M488.0 190.6h.01M449.3 217.4h.01"/><path d="M473.3 210.3h.01M467.0 200.0h.01M471.1 192.9h.01M451.2 214.6h.01M453.0 225.5h.01M482.7 194.8h.01M449.0 212.6h.01M480.0 214.9h.01"/><path d="M447.0 208.4h.01"/></g>
<ellipse cx="480" cy="212" rx="8" ry="3" transform="rotate(-33 480 212)" fill="#000" fill-opacity="0.1" filter="url(#bl20)"/>
<rect x="444.4" y="165.2" width="70.30000000000007" height="67.60000000000002" fill="none" stroke="#888" stroke-width="0.8"/>
<g stroke="#000" stroke-opacity="0.1" stroke-width="0.8" stroke-linecap="square" fill="none"><path d="M479.5 291.9h.01M490.8 280.3h.01M480.6 290.6h.01M494.4 286.4h.01M503.2 278.2h.01M464.7 311.9h.01M471.9 306.0h.01M494.9 284.0h.01"/><path d="M507.6 273.8h.01M491.2 286.5h.01M456.9 315.6h.01M486.7 285.4h.01M463.0 305.6h.01M503.2 280.2h.01M485.7 284.7h.01M456.6 313.8h.01"/><path d="M452.3 318.9h.01M506.4 274.8h.01M496.3 290.0h.01M475.4 302.3h.01M496.4 283.1h.01M495.3 283.1h.01M473.1 301.2h.01M488.0 290.4h.01"/><path d="M496.8 285.5h.01M485.0 288.7h.01M474.8 300.6h.01M486.3 297.9h.01M506.6 274.7h.01M498.9 295.4h.01M500.1 282.1h.01M466.5 309.8h.01"/><path d="M497.9 290.8h.01M497.4 289.3h.01M494.7 283.3h.01M494.9 280.8h.01M468.0 309.9h.01M488.6 291.8h.01M482.1 300.9h.01M483.9 281.3h.01"/><path d="M494.6 282.5h.01M464.8 311.2h.01M498.4 281.5h.01M491.0 289.7h.01M473.9 301.7h.01M474.4 305.2h.01M483.9 295.5h.01M447.7 322.1h.01"/><path d="M500.6 278.5h.01M475.3 307.3h.01M467.8 309.2h.01M492.4 287.0h.01M479.0 304.0h.01M481.9 300.2h.01M503.8 275.5h.01M473.4 294.7h.01"/><path d="M504.6 276.2h.01M457.6 311.0h.01M471.5 301.6h.01M465.5 312.1h.01M477.5 304.2h.01M461.2 309.0h.01M470.6 299.4h.01M488.4 289.4h.01"/><path d="M488.8 291.5h.01M477.4 298.3h.01M484.6 296.8h.01M491.0 286.2h.01M503.1 280.0h.01M494.0 282.4h.01M459.8 316.0h.01M493.8 278.4h.01"/><path d="M474.6 294.2h.01M498.6 283.4h.01M501.0 278.6h.01M460.4 310.8h.01M483.9 295.6h.01M465.5 312.0h.01M499.1 283.0h.01M467.0 313.1h.01"/><path d="M491.8 279.1h.01M466.6 311.5h.01M488.3 285.1h.01M473.1 301.1h.01M506.8 276.7h.01M476.2 299.6h.01M488.2 290.0h.01M464.6 310.4h.01"/><path d="M495.9 288.2h.01M470.5 308.3h.01M506.2 275.3h.01M463.8 304.5h.01M496.7 284.0h.01M485.3 291.4h.01M490.6 288.3h.01M485.7 294.6h.01"/><path d="M481.4 292.9h.01M484.7 294.6h.01M457.1 315.1h.01M479.8 297.1h.01M505.8 273.6h.01M478.9 296.0h.01M459.3 316.0h.01M478.0 296.2h.01"/><path d="M485.1 287.7h.01M483.4 295.7h.01M486.2 298.2h.01M470.1 306.9h.01M496.3 281.7h.01M462.8 308.1h.01M488.3 288.6h.01M496.3 282.1h.01"/><path d="M495.6 281.3h.01M469.8 304.1h.01M487.7 280.7h.01M475.3 300.6h.01M463.5 314.7h.01M453.4 319.1h.01M494.9 289.7h.01M494.3 283.7h.01"/><path d="M473.5 302.6h.01M461.9 312.5h.01M485.6 299.6h.01M483.2 297.8h.01M471.3 307.7h.01M483.0 296.5h.01M487.7 283.7h.01M481.5 298.7h.01"/><path d="M487.9 297.7h.01M474.6 305.5h.01M489.8 287.1h.01M489.6 298.9h.01M482.8 293.3h.01M458.9 306.4h.01M482.9 284.1h.01M491.0 295.7h.01"/><path d="M501.4 278.7h.01M483.8 289.0h.01M463.9 306.7h.01M465.7 303.4h.01M490.4 287.2h.01M481.5 292.8h.01M485.9 300.9h.01M492.5 283.1h.01"/><path d="M491.3 286.8h.01M491.2 281.6h.01M498.2 288.5h.01M477.1 294.7h.01M480.6 289.7h.01M480.7 288.6h.01M464.5 309.1h.01M505.9 281.8h.01"/><path d="M475.5 293.5h.01M480.9 295.4h.01M487.7 292.5h.01M473.9 295.1h.01M491.0 290.9h.01M480.8 300.5h.01M497.8 280.8h.01M484.4 290.3h.01"/><path d="M463.8 307.2h.01M481.7 292.2h.01M472.7 304.6h.01M464.4 312.8h.01M467.1 298.9h.01M485.3 292.5h.01M486.9 290.0h.01M470.2 305.0h.01"/><path d="M483.5 306.7h.01M470.8 303.7h.01M482.0 285.4h.01M496.4 291.1h.01M496.0 283.0h.01M483.3 298.0h.01M491.7 281.4h.01M468.2 303.0h.01"/><path d="M473.2 304.1h.01M502.6 276.3h.01M486.8 298.5h.01M474.1 298.3h.01M474.1 305.0h.01M483.7 299.0h.01M456.8 318.4h.01M487.2 288.5h.01"/><path d="M456.5 318.3h.01M507.2 277.8h.01M483.4 290.2h.01M480.1 293.5h.01M483.6 291.3h.01M490.5 292.7h.01M500.2 280.4h.01M488.3 300.1h.01"/><path d="M472.8 304.0h.01M468.2 304.3h.01M487.9 285.1h.01M485.1 296.3h.01M487.3 290.1h.01M474.6 299.2h.01M480.8 292.0h.01M475.9 301.9h.01"/><path d="M511.8 278.6h.01M494.4 284.0h.01M482.8 295.2h.01M460.4 316.6h.01M490.1 288.9h.01M498.8 283.3h.01M482.4 298.0h.01M495.1 282.2h.01"/><path d="M491.7 287.1h.01M466.7 307.4h.01M484.5 293.3h.01M475.0 302.4h.01M483.5 299.0h.01M473.1 305.7h.01M501.7 284.1h.01M497.8 280.5h.01"/><path d="M482.9 284.1h.01M503.5 280.7h.01M472.0 312.1h.01M479.8 293.2h.01M499.4 283.5h.01M470.7 296.4h.01M480.7 296.8h.01M502.9 279.9h.01"/><path d="M481.8 297.1h.01M486.7 290.8h.01M482.3 296.0h.01M476.8 295.7h.01M471.5 302.2h.01M493.0 282.5h.01M492.8 283.9h.01M479.3 295.5h.01"/><path d="M497.5 277.7h.01M494.2 282.2h.01M463.8 317.6h.01M466.3 313.7h.01M486.8 292.6h.01M503.0 274.3h.01M477.1 294.3h.01M477.0 297.0h.01"/><path d="M468.3 303.7h.01M487.1 293.5h.01M494.1 281.0h.01M492.2 289.8h.01M470.1 296.4h.01M483.7 294.6h.01M493.0 281.7h.01M467.5 304.5h.01"/><path d="M475.3 299.7h.01M488.5 298.8h.01M474.0 304.4h.01M479.7 300.5h.01M493.3 281.4h.01M458.7 319.5h.01M474.9 300.0h.01M477.7 299.4h.01"/><path d="M470.0 293.4h.01M471.2 301.3h.01M487.3 291.0h.01M487.4 297.6h.01M488.1 291.0h.01M468.6 305.3h.01M489.3 288.5h.01M484.0 292.0h.01"/><path d="M478.7 304.7h.01M460.1 308.7h.01M497.6 289.0h.01M482.9 290.2h.01M483.2 292.9h.01M498.6 281.1h.01M475.4 305.6h.01M480.7 295.4h.01"/><path d="M475.5 296.2h.01M490.3 286.6h.01M485.9 292.8h.01M471.6 306.8h.01M479.8 302.8h.01M486.4 296.0h.01M498.0 287.6h.01M495.7 283.7h.01"/><path d="M483.5 288.7h.01M475.3 304.8h.01M492.6 282.9h.01M485.3 291.7h.01M479.0 300.8h.01M507.7 278.1h.01M482.8 296.6h.01M481.0 290.7h.01"/><path d="M469.0 308.3h.01M489.6 288.5h.01M494.6 286.3h.01M452.3 321.5h.01M480.7 291.6h.01M477.1 302.1h.01M459.9 310.5h.01M491.4 293.9h.01"/><path d="M482.4 295.4h.01M495.9 280.3h.01M481.8 296.7h.01M465.7 306.1h.01M479.5 296.5h.01M465.7 310.8h.01M474.5 302.7h.01M479.6 296.0h.01"/><path d="M472.9 303.6h.01M453.1 319.9h.01M470.9 304.0h.01M476.6 306.7h.01M477.1 293.7h.01M483.2 296.7h.01M480.6 299.9h.01M465.5 306.2h.01"/><path d="M491.3 287.4h.01M467.1 293.3h.01M489.0 287.3h.01M477.6 303.5h.01M484.9 295.3h.01M487.0 294.2h.01M488.6 284.6h.01M479.0 293.3h.01"/><path d="M502.5 283.4h.01M476.9 304.7h.01M493.4 284.8h.01M488.4 297.2h.01M495.7 283.1h.01M477.8 304.2h.01M470.4 303.8h.01M478.1 298.3h.01"/><path d="M485.5 292.8h.01M488.8 278.9h.01M475.7 301.6h.01M479.8 292.0h.01M482.5 294.3h.01M485.7 291.4h.01M477.6 292.8h.01M485.2 287.5h.01"/><path d="M470.8 300.6h.01M470.7 304.6h.01M463.5 318.6h.01M461.4 319.9h.01M465.2 309.7h.01M469.7 302.4h.01M461.8 311.9h.01M483.1 296.1h.01"/><path d="M494.4 283.5h.01M483.3 289.3h.01M482.0 289.4h.01M472.4 302.0h.01M485.7 303.5h.01M475.7 295.1h.01M459.6 306.6h.01M481.3 294.8h.01"/><path d="M501.3 282.6h.01M477.5 298.7h.01M472.2 299.0h.01M473.9 303.3h.01M476.8 297.5h.01M483.4 291.2h.01M465.6 306.1h.01M485.4 294.5h.01"/><path d="M489.8 290.7h.01M498.9 279.1h.01M510.1 277.1h.01M495.4 286.3h.01M473.0 309.1h.01M484.0 294.8h.01M479.1 297.0h.01M494.7 282.7h.01"/><path d="M483.5 293.0h.01M487.8 290.2h.01M489.4 293.3h.01M465.5 307.1h.01M477.7 300.7h.01M511.2 274.0h.01M486.1 296.3h.01M478.9 298.6h.01"/><path d="M464.8 305.7h.01M466.7 314.6h.01M486.8 280.5h.01M487.8 289.4h.01M482.7 295.2h.01M501.5 278.5h.01M477.5 294.2h.01M492.4 283.2h.01"/><path d="M492.2 280.3h.01M498.0 283.0h.01M458.4 311.5h.01M492.2 288.1h.01M477.1 310.0h.01M478.7 299.8h.01M487.6 292.0h.01M473.3 299.9h.01"/><path d="M462.1 306.6h.01M486.6 286.9h.01M457.5 312.2h.01M468.4 305.0h.01M481.7 289.6h.01M485.0 295.9h.01M481.6 298.6h.01M483.0 292.6h.01"/><path d="M481.4 291.3h.01M475.8 295.5h.01M472.8 308.7h.01M490.4 287.7h.01M467.3 315.8h.01M491.3 282.8h.01M496.2 273.6h.01M503.7 276.9h.01"/><path d="M460.7 316.3h.01M489.4 291.8h.01M496.2 285.9h.01M483.6 292.0h.01M480.3 296.5h.01M484.3 296.9h.01M498.9 287.3h.01M446.6 321.5h.01"/><path d="M472.4 301.2h.01M470.8 313.8h.01M489.0 292.8h.01M484.7 287.7h.01M493.9 285.4h.01M468.9 293.9h.01M490.1 292.6h.01M477.3 300.4h.01"/><path d="M469.7 308.8h.01M481.7 292.1h.01M483.3 292.2h.01M470.0 306.3h.01M460.1 317.0h.01M498.1 276.8h.01M469.8 297.6h.01M501.5 270.8h.01"/><path d="M462.6 313.2h.01M466.4 307.4h.01M489.0 288.9h.01M495.1 287.1h.01M476.8 290.5h.01M500.7 284.7h.01M471.8 300.9h.01M480.4 300.7h.01"/><path d="M479.9 299.2h.01M485.2 288.5h.01M491.0 289.4h.01M476.5 300.1h.01M476.0 301.7h.01M465.1 307.9h.01M489.5 296.1h.01M469.0 303.6h.01"/><path d="M499.2 286.3h.01M487.7 286.8h.01M511.0 277.9h.01M478.3 297.5h.01M489.8 291.6h.01M458.0 314.9h.01M478.8 288.9h.01M473.4 298.4h.01"/><path d="M484.8 286.9h.01M493.5 273.8h.01M481.4 296.9h.01M489.9 287.8h.01M483.4 299.9h.01M481.7 301.0h.01M465.1 307.7h.01M481.8 299.4h.01"/><path d="M490.0 298.6h.01M481.6 299.4h.01M467.3 308.7h.01M477.3 299.0h.01M495.5 279.9h.01M470.7 301.4h.01M486.1 295.2h.01M476.1 299.4h.01"/><path d="M504.0 269.3h.01M495.1 287.9h.01M485.4 297.5h.01M495.6 279.6h.01M460.5 312.1h.01M481.3 292.2h.01M494.1 278.2h.01M489.2 287.7h.01"/><path d="M458.3 309.4h.01M476.9 306.5h.01M476.6 295.0h.01M489.3 291.8h.01M473.5 299.5h.01M480.3 296.3h.01M485.5 291.2h.01M462.2 309.3h.01"/><path d="M500.8 286.4h.01M483.3 289.0h.01M461.4 314.2h.01M481.4 300.1h.01M490.8 293.5h.01M464.3 318.6h.01M485.9 293.7h.01M481.6 296.2h.01"/><path d="M469.0 305.2h.01M473.1 308.3h.01M476.7 296.9h.01M507.1 272.3h.01M488.1 293.4h.01M479.9 294.5h.01M491.2 291.2h.01M486.9 287.9h.01"/><path d="M476.5 301.0h.01M475.6 300.7h.01M492.2 282.6h.01M474.0 307.6h.01M488.8 290.9h.01M479.9 294.5h.01M482.0 297.6h.01M487.8 283.6h.01"/><path d="M480.9 299.3h.01M456.8 311.8h.01M462.5 311.6h.01M456.6 310.9h.01M460.3 316.9h.01M476.3 301.3h.01M500.4 279.0h.01M483.8 296.8h.01"/><path d="M491.0 293.4h.01M481.0 301.1h.01M475.6 301.5h.01M486.0 297.7h.01M474.4 302.6h.01M496.4 284.0h.01M482.3 296.2h.01M482.7 291.3h.01"/><path d="M473.7 304.3h.01M500.6 279.0h.01M482.2 296.0h.01M461.4 309.9h.01M469.8 300.5h.01M463.7 305.9h.01M469.4 312.4h.01M486.2 287.0h.01"/><path d="M458.3 310.9h.01M493.8 292.9h.01M481.0 300.0h.01M477.1 305.6h.01M467.6 310.2h.01M463.8 319.1h.01"/></g>
<g stroke="#000" stroke-opacity="0.05" stroke-width="0.8" stroke-linecap="square" fill="none"><path d="M501.5 272.3h.01M485.0 303.3h.01M481.4 286.1h.01M481.9 293.9h.01M480.4 292.7h.01M457.3 291.9h.01M474.1 281.5h.01M449.3 312.0h.01"/><path d="M455.2 286.4h.01M483.3 281.9h.01M472.0 285.0h.01M474.5 302.5h.01M461.1 296.7h.01M494.1 296.2h.01M472.1 277.8h.01M491.3 277.1h.01"/><path d="M478.2 282.9h.01M471.7 315.4h.01M494.8 266.0h.01M459.0 294.7h.01M471.3 277.5h.01M475.6 270.9h.01M466.9 312.2h.01M452.0 305.8h.01"/><path d="M489.3 279.7h.01M475.7 276.2h.01M482.9 297.0h.01M468.8 290.3h.01M488.7 261.5h.01M471.4 275.6h.01M471.6 279.0h.01M477.0 257.1h.01"/><path d="M466.6 307.7h.01M467.8 267.4h.01M468.5 297.2h.01M461.2 287.1h.01M468.0 275.9h.01M481.4 300.9h.01M462.0 292.0h.01M476.7 297.7h.01"/><path d="M507.0 270.8h.01M469.7 298.1h.01M507.6 289.7h.01M470.5 288.2h.01M458.1 306.5h.01M505.3 282.0h.01M451.3 301.8h.01M447.1 310.2h.01"/><path d="M466.7 312.3h.01M470.7 266.5h.01M488.9 272.7h.01M473.1 291.4h.01M466.9 303.4h.01M470.0 287.9h.01M451.7 295.8h.01M500.7 268.0h.01"/><path d="M447.2 321.5h.01M469.1 311.5h.01M452.2 305.8h.01M468.1 289.5h.01M492.1 294.9h.01M509.7 257.7h.01M496.9 270.8h.01M490.8 279.8h.01"/><path d="M462.9 318.5h.01M460.0 295.0h.01M485.6 265.5h.01M461.2 285.0h.01M469.6 300.4h.01M470.8 290.0h.01M470.4 312.9h.01M468.2 284.9h.01"/><path d="M468.6 306.2h.01M500.6 288.4h.01M454.9 301.5h.01M458.6 312.5h.01M451.3 306.5h.01M448.2 295.8h.01M466.0 295.7h.01M469.8 302.7h.01"/><path d="M455.0 289.7h.01M495.4 281.6h.01M448.2 300.0h.01M507.5 281.4h.01M483.6 281.4h.01M460.0 304.4h.01M460.9 291.4h.01M456.1 318.6h.01"/><path d="M474.8 293.5h.01M461.0 293.1h.01M452.3 292.7h.01M468.5 285.8h.01M486.4 278.0h.01M476.0 292.7h.01M464.1 287.8h.01M502.8 289.7h.01"/><path d="M485.7 277.2h.01M472.1 282.7h.01M446.5 300.7h.01M447.8 298.9h.01M485.6 269.9h.01M497.2 265.4h.01M471.8 298.6h.01M446.4 311.0h.01"/><path d="M489.7 269.6h.01M464.5 297.5h.01M460.5 288.3h.01M457.7 291.6h.01M482.9 271.7h.01M479.0 281.9h.01M496.3 276.5h.01M468.9 263.7h.01"/><path d="M495.4 289.5h.01M470.5 285.7h.01M488.1 262.9h.01M505.5 272.7h.01M471.9 282.7h.01M504.1 284.3h.01M450.5 308.9h.01M485.2 277.1h.01"/><path d="M481.6 283.4h.01M484.7 288.5h.01M479.7 292.9h.01M493.5 259.7h.01M501.2 272.4h.01M506.5 273.5h.01M499.5 281.7h.01M505.3 276.7h.01"/><path d="M456.1 296.8h.01M482.3 286.6h.01M467.1 294.5h.01M497.2 284.7h.01M491.7 286.7h.01M450.8 303.0h.01M468.9 300.6h.01M495.2 265.2h.01"/><path d="M489.1 265.6h.01M486.2 263.6h.01M466.4 298.1h.01M491.6 289.7h.01M494.2 276.9h.01M457.3 303.8h.01M478.1 298.7h.01M460.9 308.3h.01"/><path d="M445.5 286.1h.01M464.0 307.0h.01M462.0 292.4h.01M483.5 272.2h.01M488.7 279.8h.01M454.7 305.8h.01M473.3 287.3h.01M484.5 297.9h.01"/><path d="M463.9 307.5h.01M501.0 275.8h.01M475.8 297.4h.01M448.8 300.3h.01M511.4 268.1h.01M493.5 287.5h.01M492.0 299.8h.01M483.4 289.3h.01"/><path d="M496.1 307.5h.01M493.0 294.1h.01M493.7 271.2h.01M501.6 258.4h.01M491.0 264.6h.01M485.5 269.2h.01M494.3 272.4h.01M468.3 296.7h.01"/><path d="M467.0 292.3h.01M451.1 293.3h.01M500.6 275.1h.01M464.7 292.7h.01M462.2 288.5h.01M493.0 287.1h.01M482.8 290.7h.01M485.2 276.0h.01"/><path d="M458.8 300.4h.01M487.4 273.3h.01M478.2 307.1h.01M463.3 303.3h.01M490.7 287.0h.01M478.5 287.4h.01M501.5 272.2h.01M478.9 282.7h.01"/><path d="M470.9 283.0h.01M479.0 302.8h.01M456.5 285.4h.01M466.9 275.8h.01M484.5 280.5h.01M487.7 286.9h.01M479.2 298.3h.01M473.1 290.5h.01"/><path d="M473.6 306.0h.01M470.7 282.4h.01M461.6 293.8h.01M488.7 278.4h.01M470.3 289.3h.01M476.6 272.1h.01M472.4 261.6h.01M472.1 265.7h.01"/><path d="M507.4 288.5h.01M507.5 273.4h.01M484.1 272.7h.01M460.2 291.9h.01M449.3 318.3h.01M500.4 266.4h.01M472.8 290.2h.01M492.5 290.7h.01"/><path d="M467.8 301.8h.01M483.2 301.6h.01M504.1 258.1h.01M496.5 272.4h.01M461.9 301.5h.01M479.7 293.6h.01M505.0 265.0h.01M483.5 295.5h.01"/><path d="M463.2 292.0h.01M479.2 280.3h.01M469.4 280.9h.01M487.7 288.6h.01M480.1 289.5h.01M474.4 293.8h.01M493.4 263.9h.01M476.9 301.3h.01"/><path d="M501.1 279.2h.01M479.3 282.2h.01M506.5 272.8h.01M490.4 287.3h.01M455.1 306.9h.01M491.7 275.6h.01M482.3 275.4h.01M451.1 312.0h.01"/><path d="M487.5 290.8h.01M468.4 311.6h.01M477.5 290.1h.01M452.2 310.5h.01M493.9 297.6h.01M464.5 281.0h.01M511.9 264.0h.01M484.4 267.4h.01"/><path d="M482.4 295.2h.01M446.0 312.9h.01M495.2 278.2h.01M500.3 291.4h.01M469.1 286.7h.01M502.8 286.9h.01M461.6 283.5h.01M493.6 255.5h.01"/><path d="M486.2 266.3h.01M453.8 289.8h.01M467.8 292.9h.01M472.5 303.8h.01"/></g>
<g stroke="#000" stroke-opacity="0.24" stroke-width="0.8" stroke-linecap="square" fill="none"><path d="M466.6 310.4h.01M463.7 309.7h.01M468.3 308.5h.01M466.9 309.6h.01M468.9 308.9h.01M467.7 311.8h.01M464.7 311.3h.01M465.2 311.6h.01"/><path d="M467.6 310.4h.01M466.7 312.3h.01M465.0 309.1h.01M468.2 305.5h.01M470.3 304.5h.01M460.3 312.9h.01M467.7 307.8h.01M469.1 311.1h.01"/><path d="M463.3 312.3h.01M467.7 310.6h.01M461.6 309.6h.01M462.6 311.0h.01M465.8 311.0h.01M462.1 311.0h.01M463.7 312.8h.01M467.5 311.0h.01"/><path d="M469.7 310.8h.01M465.3 314.2h.01M462.3 314.6h.01M463.4 308.4h.01M472.7 311.4h.01M467.6 306.3h.01M458.4 317.5h.01M465.7 309.4h.01"/><path d="M461.0 309.8h.01M463.3 307.5h.01M460.3 313.9h.01M470.6 309.5h.01M470.2 311.2h.01M467.5 308.6h.01M466.5 310.8h.01M463.5 312.4h.01"/><path d="M463.7 309.1h.01M460.5 314.4h.01M468.6 311.3h.01M469.9 309.2h.01M465.4 309.9h.01M458.2 308.9h.01M465.1 312.9h.01M467.5 314.4h.01"/><path d="M471.5 309.3h.01M466.9 314.3h.01M469.1 305.9h.01M468.3 312.2h.01M464.7 316.1h.01M465.6 312.5h.01M464.6 312.4h.01M468.1 313.2h.01"/><path d="M465.1 312.8h.01M467.6 309.1h.01M465.3 307.8h.01M460.4 313.3h.01M458.9 313.3h.01M463.8 310.6h.01M462.2 311.0h.01M466.7 309.9h.01"/><path d="M458.0 317.9h.01M471.2 309.1h.01M468.3 307.4h.01M471.6 308.7h.01M466.5 313.4h.01M465.8 309.1h.01M466.1 312.0h.01M465.1 312.4h.01"/><path d="M461.4 309.6h.01M469.8 309.4h.01M465.2 307.4h.01M466.4 313.5h.01M462.6 310.4h.01M472.9 306.4h.01M467.1 309.9h.01M470.1 308.7h.01"/><path d="M462.8 312.1h.01M467.7 314.0h.01M465.5 310.8h.01M470.5 310.6h.01M464.1 312.8h.01M468.0 308.9h.01M469.1 310.0h.01M462.4 315.2h.01"/><path d="M465.2 310.4h.01M458.8 316.5h.01M458.7 316.0h.01M469.3 306.2h.01M464.1 311.2h.01M468.2 309.2h.01M465.3 314.0h.01M459.5 314.2h.01"/><path d="M457.6 315.0h.01M465.1 308.1h.01M466.3 314.0h.01M459.8 314.9h.01M466.5 314.7h.01M464.4 310.5h.01M468.6 308.1h.01M463.0 313.6h.01"/><path d="M462.2 316.1h.01M468.3 308.1h.01M461.6 313.2h.01M472.1 310.4h.01M464.9 311.8h.01M466.7 312.4h.01M465.3 309.9h.01M471.5 311.6h.01"/><path d="M465.2 316.6h.01M467.0 310.3h.01M467.4 312.3h.01M462.4 312.7h.01M472.8 305.2h.01M455.3 315.0h.01M469.1 303.9h.01M463.9 311.7h.01"/><path d="M464.4 311.6h.01M458.3 320.0h.01M462.5 315.4h.01M470.0 307.1h.01M463.4 314.5h.01M471.0 310.5h.01M463.0 311.2h.01M460.4 316.4h.01"/><path d="M468.0 310.1h.01M460.0 311.8h.01M460.5 313.6h.01M469.9 308.5h.01M464.1 311.8h.01M462.8 312.6h.01M463.7 315.8h.01M465.6 310.8h.01"/><path d="M470.4 309.8h.01M469.0 307.4h.01M464.0 315.5h.01M466.3 310.2h.01M469.3 309.3h.01M463.3 309.8h.01M463.6 312.6h.01M466.3 311.3h.01"/><path d="M463.1 313.1h.01M461.6 312.4h.01M464.7 315.4h.01M464.6 314.1h.01M461.0 315.2h.01M470.8 307.3h.01M471.1 307.6h.01M460.5 313.9h.01"/><path d="M466.1 310.9h.01M467.2 310.2h.01M470.6 310.3h.01M464.7 309.3h.01M467.4 312.5h.01M467.9 310.8h.01M459.6 316.8h.01M464.7 310.5h.01"/><path d="M465.4 304.9h.01M466.6 309.5h.01M457.2 313.6h.01M466.8 313.5h.01M457.7 311.9h.01M466.1 308.4h.01M463.2 311.8h.01M465.9 309.4h.01"/><path d="M464.0 311.0h.01M462.6 308.8h.01M468.9 310.6h.01M468.8 311.5h.01M468.8 314.6h.01M465.8 310.3h.01M466.4 312.5h.01M469.3 311.0h.01"/><path d="M463.5 309.7h.01M463.4 312.5h.01M459.8 316.1h.01M468.0 310.4h.01M461.4 313.5h.01M469.1 312.6h.01M469.2 308.5h.01M473.2 305.8h.01"/><path d="M464.6 309.8h.01M457.2 314.6h.01M466.7 308.2h.01M466.4 312.5h.01M462.0 316.1h.01M462.7 314.5h.01M467.8 312.1h.01M466.4 311.3h.01"/><path d="M467.9 312.5h.01M460.8 311.0h.01M462.5 315.3h.01M466.2 310.4h.01M463.0 312.3h.01M467.2 309.8h.01M464.9 313.6h.01M464.0 308.6h.01"/><path d="M469.5 309.4h.01M464.9 312.7h.01M469.4 309.1h.01M466.8 300.4h.01M466.9 312.2h.01M461.5 311.5h.01M464.6 312.8h.01M466.2 308.7h.01"/><path d="M465.7 313.8h.01M469.4 310.1h.01M468.4 310.7h.01M460.6 311.5h.01M470.3 307.6h.01M470.3 310.0h.01M465.9 312.6h.01M463.0 311.0h.01"/><path d="M467.7 307.9h.01M466.9 311.4h.01M473.6 307.5h.01M468.3 308.2h.01"/></g>
<ellipse cx="465.5" cy="311.3" rx="4.8" ry="2.5" transform="rotate(-33 465.5 311.3)" fill="#000" fill-opacity="0.42" filter="url(#bl11)"/>
<rect x="444.1" y="254.6" width="70.69999999999993" height="68.70000000000002" fill="none" stroke="#888" stroke-width="0.8"/>
<g stroke="#000" stroke-opacity="0.1" stroke-width="0.8" stroke-linecap="square" fill="none"><path d="M450.7 400.1h.01M460.0 376.8h.01M450.1 389.9h.01M452.1 395.0h.01M451.9 391.7h.01M456.6 369.6h.01M464.3 363.7h.01M455.5 390.5h.01"/><path d="M453.6 388.5h.01M458.1 383.3h.01M446.5 389.9h.01M453.7 400.6h.01M455.7 387.9h.01M457.6 384.2h.01M453.8 387.4h.01M459.7 367.3h.01"/><path d="M460.7 366.2h.01M473.3 351.4h.01M454.0 387.2h.01M454.8 383.9h.01M454.4 375.7h.01M456.1 383.9h.01M451.6 396.6h.01M453.8 387.2h.01"/><path d="M454.1 386.2h.01M457.3 390.5h.01M455.2 392.1h.01M461.3 367.3h.01M455.4 376.2h.01M459.5 373.7h.01M463.3 379.7h.01M461.7 371.6h.01"/><path d="M446.3 409.4h.01M458.9 389.0h.01M456.1 371.1h.01M458.1 382.4h.01M454.2 372.0h.01M453.4 395.3h.01M452.9 392.5h.01M455.3 380.6h.01"/><path d="M453.6 387.7h.01M469.2 352.3h.01M455.4 386.7h.01M455.2 388.4h.01M453.9 386.1h.01M454.7 386.9h.01M454.1 382.5h.01M451.6 404.7h.01"/><path d="M458.7 384.8h.01M457.6 376.2h.01M457.9 368.3h.01M446.1 398.0h.01M456.0 378.1h.01M455.2 394.8h.01M459.7 367.8h.01M447.0 406.7h.01"/><path d="M463.1 377.0h.01M452.5 393.1h.01M458.3 361.8h.01M455.6 394.0h.01M463.3 360.1h.01M450.4 388.5h.01M459.7 372.8h.01M461.8 366.7h.01"/><path d="M458.6 366.9h.01M460.4 378.5h.01M451.3 382.8h.01M459.7 362.4h.01M449.9 393.6h.01M452.9 393.2h.01M454.4 372.0h.01M452.4 392.6h.01"/><path d="M452.4 403.2h.01M459.3 366.5h.01M457.5 365.2h.01M463.3 353.4h.01M452.6 398.1h.01M453.4 392.9h.01M453.4 389.6h.01M450.1 392.7h.01"/><path d="M454.9 391.6h.01M453.5 401.5h.01M456.8 380.9h.01M453.8 390.2h.01M462.0 373.5h.01M449.5 399.8h.01M453.6 391.2h.01M458.3 376.7h.01"/><path d="M459.7 368.7h.01M457.4 371.3h.01M454.8 392.6h.01M460.8 368.0h.01M450.1 407.3h.01M463.2 349.2h.01M451.9 393.5h.01M461.7 368.0h.01"/><path d="M457.1 377.9h.01M458.9 378.6h.01M456.0 385.4h.01M467.2 367.2h.01M447.8 398.1h.01M460.2 372.5h.01M463.0 362.8h.01M455.8 384.0h.01"/><path d="M467.0 365.0h.01M454.2 391.2h.01M458.5 365.3h.01M457.6 388.9h.01M457.7 379.0h.01M458.5 374.0h.01M455.2 382.5h.01M455.0 379.9h.01"/><path d="M461.4 374.8h.01M455.3 374.6h.01M457.9 354.1h.01M458.3 371.4h.01M450.3 410.2h.01M456.3 385.9h.01M453.4 400.8h.01M463.8 361.9h.01"/><path d="M451.8 379.6h.01M458.5 392.4h.01M454.6 371.0h.01M453.1 391.5h.01M455.3 380.8h.01M459.3 374.6h.01M455.6 389.1h.01M454.2 380.3h.01"/><path d="M458.2 378.1h.01M452.0 390.9h.01M449.9 401.8h.01M463.4 367.7h.01M466.2 363.6h.01M457.4 379.8h.01M460.4 363.8h.01M455.7 375.7h.01"/><path d="M451.6 399.3h.01M461.6 379.6h.01M454.5 376.1h.01M451.2 396.9h.01M459.3 385.7h.01M457.7 385.6h.01M460.0 363.3h.01M454.3 380.7h.01"/><path d="M457.4 376.0h.01M455.2 390.0h.01M459.8 371.7h.01M456.6 383.9h.01M467.5 349.7h.01M460.9 374.0h.01M450.6 397.5h.01M463.3 363.9h.01"/><path d="M451.2 378.9h.01M448.2 401.8h.01M465.3 357.3h.01M459.1 360.4h.01M453.4 387.4h.01M455.6 383.2h.01M453.5 371.0h.01M459.6 370.9h.01"/><path d="M455.8 378.4h.01M456.6 380.6h.01M453.7 374.3h.01M451.2 394.8h.01M455.7 387.1h.01M458.9 379.6h.01M453.6 391.5h.01M455.0 381.0h.01"/><path d="M451.1 393.0h.01M460.7 357.1h.01M449.9 391.3h.01M456.3 379.2h.01M460.1 370.1h.01M466.4 346.5h.01M455.9 382.5h.01M455.6 390.2h.01"/><path d="M465.5 354.1h.01M456.1 394.3h.01M447.2 393.8h.01M460.4 370.9h.01M457.8 375.8h.01M450.9 401.7h.01M465.0 371.3h.01M451.1 392.5h.01"/><path d="M445.4 406.2h.01M455.7 379.0h.01M454.5 368.2h.01M456.4 355.4h.01M454.1 380.2h.01M455.5 362.1h.01M458.2 373.0h.01M457.3 388.0h.01"/><path d="M450.9 393.3h.01M459.4 374.6h.01M454.2 390.8h.01M452.0 395.8h.01M452.1 391.7h.01M459.4 371.0h.01M458.5 383.3h.01M457.2 375.7h.01"/><path d="M457.6 383.1h.01M462.7 364.3h.01M459.3 368.6h.01M460.2 371.8h.01M454.1 396.6h.01M459.6 374.4h.01M450.9 400.7h.01M451.2 397.8h.01"/><path d="M459.1 371.7h.01M460.8 368.9h.01M457.2 378.8h.01M465.2 351.5h.01M449.3 387.8h.01M462.7 360.5h.01M460.0 375.5h.01M464.1 367.0h.01"/><path d="M460.8 374.3h.01M455.9 374.7h.01M453.4 385.3h.01M459.7 374.0h.01M455.2 392.9h.01M450.8 398.1h.01M456.7 394.8h.01M453.6 380.0h.01"/><path d="M459.0 386.3h.01M457.6 379.7h.01M460.6 357.9h.01M452.9 389.0h.01M453.4 389.2h.01M458.7 383.0h.01M461.3 373.8h.01M457.7 377.0h.01"/><path d="M458.7 376.9h.01M453.1 391.9h.01M445.7 406.3h.01M454.7 378.1h.01M454.7 388.0h.01M452.9 393.9h.01M467.0 348.8h.01M457.0 378.3h.01"/><path d="M445.5 407.0h.01M471.3 346.6h.01M460.5 376.1h.01M461.6 379.1h.01M448.0 408.6h.01M457.8 382.2h.01M458.9 370.8h.01M460.1 378.0h.01"/><path d="M449.7 389.9h.01M456.2 375.9h.01M459.2 357.5h.01M454.2 379.7h.01M454.3 390.2h.01M465.6 360.4h.01M457.7 373.6h.01M459.7 375.7h.01"/><path d="M446.9 401.3h.01M451.9 385.7h.01M448.3 401.6h.01M460.9 382.5h.01M454.2 376.1h.01M455.2 363.3h.01M452.3 383.9h.01M453.5 379.3h.01"/><path d="M455.2 382.4h.01M463.3 357.3h.01M455.4 379.8h.01M458.8 389.4h.01M453.0 381.1h.01M466.7 357.7h.01M449.0 403.3h.01M452.8 402.4h.01"/><path d="M460.0 371.6h.01M453.9 382.1h.01M460.3 375.5h.01M455.6 386.1h.01M462.8 361.0h.01M458.1 373.3h.01M459.3 365.0h.01M458.0 387.5h.01"/><path d="M461.6 381.7h.01M451.3 399.0h.01M455.3 396.1h.01M463.4 366.7h.01M449.1 398.4h.01M461.6 375.6h.01M451.6 387.4h.01"/></g>
<g stroke="#000" stroke-opacity="0.15" stroke-width="0.8" stroke-linecap="square" fill="none"><path d="M490.2 379.3h.01M491.1 377.0h.01M465.5 406.2h.01M475.3 390.2h.01M488.7 364.4h.01M489.9 378.1h.01M488.8 373.7h.01M470.9 403.9h.01"/><path d="M474.7 389.8h.01M485.8 379.1h.01M491.9 371.0h.01M475.6 400.0h.01M492.3 376.9h.01M476.3 388.9h.01M492.3 376.5h.01M479.0 384.9h.01"/><path d="M484.6 389.8h.01M486.2 372.7h.01M476.7 398.9h.01M490.7 376.2h.01M489.1 374.8h.01M511.1 361.7h.01M491.8 380.7h.01M471.1 408.1h.01"/><path d="M477.1 388.6h.01M485.8 389.1h.01M476.2 394.4h.01M492.7 381.5h.01M485.5 382.8h.01M483.3 389.0h.01M483.8 390.0h.01M477.6 394.9h.01"/><path d="M483.5 389.0h.01M471.6 396.0h.01M472.8 378.8h.01M507.1 356.4h.01M506.1 363.5h.01M472.9 405.5h.01M481.3 387.4h.01M504.8 365.4h.01"/><path d="M481.0 382.7h.01M480.7 378.9h.01M486.8 370.7h.01M492.1 373.2h.01M490.3 385.0h.01M485.3 382.4h.01M484.4 387.4h.01M477.9 384.2h.01"/><path d="M482.9 385.0h.01M493.5 383.7h.01M482.6 389.2h.01M478.4 393.1h.01M492.9 376.2h.01M479.9 391.3h.01M496.7 376.9h.01M475.7 397.7h.01"/><path d="M476.5 388.7h.01M483.0 386.8h.01M486.8 393.0h.01M488.7 378.6h.01M485.8 389.2h.01M488.8 370.9h.01M492.7 374.7h.01M478.0 398.0h.01"/><path d="M475.5 399.6h.01M502.3 368.6h.01M497.7 374.5h.01M491.2 387.6h.01M489.0 389.4h.01M485.9 385.3h.01M486.3 373.7h.01M478.1 390.7h.01"/><path d="M483.0 390.4h.01M487.8 386.5h.01M492.4 377.5h.01M492.6 375.6h.01M487.3 384.8h.01M476.8 394.9h.01M497.2 376.6h.01M481.6 390.0h.01"/><path d="M478.8 392.9h.01M492.0 368.6h.01M486.8 383.5h.01M495.7 373.1h.01M492.0 375.4h.01M470.9 400.3h.01M480.9 382.4h.01M478.0 387.8h.01"/><path d="M476.0 397.8h.01M491.0 379.8h.01M482.2 382.0h.01M492.0 374.8h.01M481.2 386.5h.01M481.2 389.4h.01M497.8 383.3h.01M481.6 391.4h.01"/><path d="M485.4 381.6h.01M485.3 371.5h.01M492.8 387.6h.01M474.3 391.5h.01M486.6 391.9h.01M484.0 386.8h.01M495.7 370.4h.01M480.2 384.3h.01"/><path d="M493.6 388.6h.01M489.7 376.8h.01M494.6 368.5h.01M478.2 398.8h.01M484.6 378.0h.01M492.0 379.1h.01M484.2 380.7h.01M488.8 383.9h.01"/><path d="M485.9 392.0h.01M486.9 383.8h.01M470.1 387.0h.01M481.0 389.2h.01M487.3 378.2h.01M483.1 391.7h.01M488.5 376.5h.01M493.8 383.2h.01"/><path d="M477.7 392.9h.01M487.0 379.6h.01M496.3 375.9h.01M498.8 365.3h.01M493.7 375.2h.01M492.3 378.5h.01M476.9 388.8h.01M476.7 395.4h.01"/><path d="M483.5 383.2h.01M477.3 385.5h.01M497.1 376.4h.01M476.3 395.9h.01M487.3 372.2h.01M489.8 384.0h.01M491.0 389.5h.01M483.7 385.1h.01"/><path d="M493.1 380.7h.01M492.8 369.7h.01M479.9 397.7h.01M481.8 395.3h.01M499.9 360.9h.01M481.2 400.6h.01M472.5 401.4h.01M469.9 401.8h.01"/><path d="M489.3 375.2h.01M488.8 385.5h.01M477.4 395.1h.01M486.8 385.2h.01M482.6 384.8h.01M490.8 373.6h.01M490.0 379.0h.01M478.0 400.8h.01"/><path d="M484.9 386.2h.01M497.1 366.6h.01M481.2 377.2h.01M478.9 407.0h.01M469.1 397.2h.01M486.1 378.1h.01M476.6 390.5h.01M478.7 393.7h.01"/><path d="M488.8 373.7h.01M468.8 404.5h.01M477.8 396.8h.01M481.7 377.4h.01M487.7 382.3h.01M476.4 384.1h.01M483.4 383.5h.01M477.8 374.4h.01"/><path d="M485.7 380.6h.01M484.3 388.6h.01M489.9 382.8h.01M474.2 396.9h.01M504.8 367.7h.01M483.3 380.7h.01M487.6 378.6h.01M490.5 381.1h.01"/><path d="M474.9 398.9h.01M482.6 384.8h.01M490.9 376.3h.01M490.5 380.6h.01M472.8 384.2h.01M488.1 381.5h.01M488.9 386.4h.01M467.8 401.4h.01"/><path d="M494.7 371.1h.01M506.2 369.1h.01M491.0 384.1h.01M472.3 383.2h.01M488.6 379.3h.01M471.3 384.3h.01M466.7 399.2h.01M489.4 375.8h.01"/><path d="M484.1 384.5h.01M493.0 385.5h.01M481.2 393.3h.01M481.1 398.1h.01M478.5 385.3h.01M503.0 360.3h.01M489.4 377.5h.01M487.2 382.6h.01"/><path d="M485.1 377.3h.01M502.3 361.7h.01M482.8 377.0h.01M482.0 381.1h.01M490.0 381.1h.01M476.4 380.3h.01M484.0 382.6h.01M477.7 394.7h.01"/><path d="M478.8 388.2h.01M484.3 401.4h.01M485.0 380.3h.01M492.3 370.9h.01M488.2 378.1h.01M496.9 382.4h.01M466.0 408.8h.01M479.9 380.3h.01"/><path d="M486.7 391.1h.01M480.2 386.9h.01M485.7 372.4h.01M485.7 391.6h.01M486.1 385.0h.01M494.4 380.6h.01M484.4 389.3h.01M492.1 377.0h.01"/><path d="M457.0 398.7h.01M473.4 402.2h.01M496.4 381.8h.01M479.4 391.5h.01M480.1 392.0h.01M480.3 390.4h.01M493.4 373.6h.01M487.6 390.4h.01"/><path d="M476.1 391.9h.01M500.9 363.0h.01M489.2 376.9h.01M478.5 393.0h.01M488.9 392.9h.01M483.7 376.1h.01M487.8 380.5h.01M485.4 392.8h.01"/><path d="M491.5 385.4h.01M491.2 380.5h.01M483.4 386.8h.01M497.9 366.1h.01M473.1 390.4h.01M490.2 370.7h.01M504.6 360.1h.01M484.0 386.7h.01"/><path d="M471.0 399.8h.01M470.6 403.8h.01M470.1 394.5h.01M488.3 389.9h.01M475.8 388.6h.01M480.5 390.7h.01M482.9 376.8h.01M477.2 375.6h.01"/><path d="M488.2 378.5h.01M483.2 384.3h.01M487.0 377.3h.01M493.2 375.6h.01M481.4 389.4h.01M467.2 396.0h.01M494.4 376.6h.01M492.4 387.7h.01"/><path d="M477.0 390.5h.01M491.2 379.1h.01M488.7 384.7h.01M508.5 354.6h.01M481.0 386.6h.01M496.0 370.0h.01M491.9 380.3h.01M482.8 390.2h.01"/><path d="M480.7 377.9h.01M484.0 380.5h.01M485.2 388.6h.01M506.6 364.4h.01M476.9 403.0h.01M488.6 382.2h.01M475.1 391.5h.01M488.1 382.9h.01"/><path d="M493.9 377.5h.01M488.7 384.2h.01M483.3 382.0h.01M485.6 372.1h.01M484.0 380.5h.01M481.4 387.7h.01M472.0 396.9h.01M481.4 397.9h.01"/><path d="M486.8 379.1h.01M476.6 390.8h.01M489.8 381.0h.01M480.9 389.7h.01M478.1 397.3h.01M479.5 393.7h.01M494.3 379.3h.01M491.0 383.0h.01"/><path d="M483.2 392.2h.01M490.1 372.2h.01M492.8 369.3h.01M498.5 364.5h.01M481.8 392.0h.01M461.5 404.3h.01M476.4 400.5h.01M460.9 408.5h.01"/><path d="M490.1 382.2h.01M485.0 378.2h.01M474.6 397.0h.01M485.1 389.6h.01M478.0 383.8h.01M479.4 375.5h.01M479.8 386.6h.01M485.0 392.4h.01"/><path d="M500.6 370.4h.01M491.6 387.3h.01M489.6 383.3h.01M485.2 383.5h.01M472.3 385.0h.01M498.4 377.3h.01M483.6 381.9h.01M482.1 385.5h.01"/><path d="M493.1 366.2h.01M474.9 397.5h.01M481.7 386.6h.01M490.8 366.2h.01M486.6 387.0h.01M501.6 368.5h.01M462.4 411.5h.01M474.1 392.2h.01"/><path d="M479.6 386.5h.01M479.5 389.8h.01M489.5 369.0h.01M488.5 387.4h.01M482.0 388.3h.01M485.8 381.7h.01M496.1 368.3h.01M479.9 376.0h.01"/><path d="M488.7 382.4h.01M472.0 405.3h.01M486.5 379.8h.01M499.3 374.7h.01M484.5 375.9h.01M462.7 400.0h.01M479.7 397.9h.01M490.9 373.5h.01"/><path d="M499.3 371.3h.01M488.3 385.6h.01M496.0 374.5h.01M478.5 385.2h.01M472.2 395.8h.01M482.2 377.8h.01M480.1 383.7h.01M483.3 381.0h.01"/><path d="M496.4 373.7h.01M497.1 375.3h.01M487.0 378.4h.01M481.1 383.8h.01M480.2 394.3h.01M479.5 388.8h.01M473.0 390.0h.01M490.1 380.5h.01"/><path d="M493.1 360.1h.01M484.4 385.4h.01M478.8 391.3h.01M502.9 366.0h.01M491.2 379.4h.01M484.4 381.4h.01M484.9 389.1h.01M484.6 380.8h.01"/><path d="M482.1 388.7h.01M489.4 375.7h.01M490.3 377.9h.01M495.4 378.6h.01M500.7 358.6h.01M470.8 387.0h.01M485.8 382.3h.01M474.1 385.3h.01"/><path d="M496.1 368.1h.01M481.4 391.9h.01M496.7 385.5h.01M478.7 388.9h.01M499.2 372.7h.01M486.2 394.6h.01M472.0 401.0h.01M483.3 395.7h.01"/><path d="M491.6 384.3h.01M502.3 363.7h.01M489.1 378.6h.01M497.8 366.0h.01M495.5 383.3h.01M473.9 383.8h.01M487.8 378.8h.01M468.3 402.0h.01"/><path d="M498.6 374.1h.01M494.7 367.4h.01M476.4 400.9h.01M493.5 376.6h.01M475.8 397.7h.01M495.6 384.8h.01M480.6 395.9h.01M471.1 398.2h.01"/><path d="M487.1 381.5h.01M472.7 392.9h.01M479.7 387.2h.01M488.6 380.9h.01M488.0 390.0h.01M478.4 398.3h.01M487.2 381.3h.01M482.5 401.1h.01"/><path d="M488.5 373.2h.01M488.8 365.7h.01M484.5 371.2h.01M480.9 392.2h.01M482.0 393.2h.01M473.3 394.8h.01M486.1 389.5h.01M485.5 366.7h.01"/><path d="M469.7 396.1h.01M504.8 362.6h.01M492.1 382.8h.01M474.7 404.0h.01M483.2 396.3h.01M480.1 377.6h.01M481.1 389.8h.01M465.5 393.3h.01"/><path d="M497.7 374.7h.01M489.2 360.9h.01M479.8 376.7h.01M469.2 402.8h.01M470.1 400.3h.01M478.9 384.3h.01M478.5 398.8h.01M495.7 381.8h.01"/><path d="M492.4 363.4h.01M494.4 375.3h.01M482.0 384.8h.01M475.3 397.8h.01M486.2 379.0h.01M486.2 391.5h.01M480.9 383.2h.01M479.1 395.1h.01"/><path d="M483.2 387.0h.01M489.1 372.9h.01M482.7 382.9h.01M495.0 376.3h.01M500.2 365.8h.01M476.0 402.0h.01M492.9 363.6h.01M495.8 367.8h.01"/><path d="M499.2 367.1h.01M486.8 390.2h.01M492.7 364.3h.01M489.1 384.1h.01M477.8 388.3h.01M501.0 370.6h.01M465.6 403.0h.01M476.3 398.2h.01"/><path d="M482.8 382.9h.01M497.6 377.6h.01M486.4 371.4h.01M476.5 384.9h.01M482.7 398.5h.01M483.2 384.8h.01M491.6 380.7h.01M477.4 392.6h.01"/><path d="M494.3 374.3h.01M485.7 386.3h.01M473.5 396.5h.01M492.4 376.2h.01M500.1 373.1h.01M481.3 398.0h.01M480.5 399.7h.01M491.0 367.2h.01"/><path d="M472.5 404.0h.01M486.0 379.1h.01M467.0 400.7h.01M489.9 378.2h.01M485.5 371.4h.01M486.1 392.1h.01M482.3 383.9h.01M482.6 374.0h.01"/><path d="M496.4 370.9h.01M480.7 396.6h.01M485.8 368.9h.01M482.9 386.7h.01M487.9 377.7h.01M474.2 383.8h.01M484.3 374.7h.01M483.2 390.9h.01"/><path d="M486.7 387.4h.01M493.5 378.9h.01M471.6 407.3h.01M476.6 393.4h.01M477.8 378.2h.01M485.1 388.6h.01M483.0 385.0h.01M480.4 383.1h.01"/><path d="M489.2 376.5h.01M495.9 366.8h.01M486.5 383.3h.01M491.9 383.4h.01M488.6 380.9h.01M467.4 382.4h.01M472.2 392.6h.01M471.1 386.7h.01"/><path d="M477.8 398.8h.01M500.3 368.8h.01M484.2 400.8h.01M485.1 384.0h.01M485.2 384.6h.01M482.2 382.9h.01M487.1 376.7h.01M488.9 390.9h.01"/><path d="M466.8 403.1h.01M462.2 403.6h.01M471.9 396.9h.01M482.3 387.0h.01M484.4 383.6h.01M491.3 380.3h.01M471.7 393.5h.01M488.4 390.4h.01"/><path d="M495.5 363.5h.01M489.8 388.5h.01M477.1 386.6h.01M481.8 392.8h.01M482.5 387.4h.01M495.7 373.8h.01M468.8 395.3h.01M490.9 369.7h.01"/><path d="M484.4 395.7h.01M490.4 370.8h.01M490.3 359.7h.01M504.3 366.6h.01M486.2 396.2h.01M484.1 383.2h.01M488.8 380.8h.01M490.9 376.3h.01"/><path d="M498.9 366.2h.01M498.3 366.3h.01M480.3 396.6h.01M472.1 387.0h.01M487.5 381.1h.01M494.2 363.6h.01M487.6 376.2h.01M466.4 399.4h.01"/><path d="M487.7 386.7h.01M482.8 387.5h.01M476.2 390.9h.01M476.3 385.5h.01M492.1 383.4h.01M489.0 381.3h.01M496.8 367.2h.01M504.4 378.7h.01"/><path d="M484.6 370.9h.01M486.1 387.4h.01M483.1 383.1h.01M467.4 395.4h.01M477.2 387.6h.01M493.7 383.3h.01M466.1 399.0h.01M489.3 383.3h.01"/><path d="M493.8 367.6h.01M486.7 392.4h.01M488.8 383.3h.01M497.4 371.0h.01M493.2 381.8h.01M487.3 379.0h.01M480.7 393.4h.01M478.6 387.4h.01"/><path d="M475.2 392.8h.01M471.2 405.3h.01M493.6 376.4h.01M500.1 363.7h.01M470.3 399.0h.01M471.0 395.4h.01M492.1 381.5h.01M495.3 372.8h.01"/><path d="M469.5 395.2h.01M494.8 375.6h.01M481.9 382.2h.01M491.7 382.3h.01M485.2 396.6h.01M481.6 394.2h.01M484.3 377.8h.01M478.1 390.6h.01"/><path d="M493.8 380.8h.01M474.2 394.9h.01M494.3 372.7h.01M476.1 389.6h.01M469.1 402.6h.01M490.4 377.1h.01M481.6 389.7h.01M486.2 391.5h.01"/><path d="M473.5 407.0h.01M477.9 391.2h.01M489.4 385.2h.01M483.2 396.6h.01M489.7 379.7h.01M474.4 398.2h.01M480.2 383.7h.01M467.3 400.3h.01"/><path d="M500.3 366.4h.01M501.5 363.1h.01M475.7 394.1h.01M473.1 405.4h.01M468.0 410.0h.01M478.9 393.4h.01M498.3 368.4h.01M498.0 358.9h.01"/><path d="M487.8 382.8h.01M484.1 396.1h.01M488.5 379.2h.01M480.9 392.0h.01M475.5 399.1h.01M494.5 367.0h.01M499.3 358.9h.01M474.5 400.6h.01"/><path d="M485.6 383.3h.01M476.9 393.0h.01M484.8 374.2h.01M491.5 376.4h.01M490.4 376.3h.01M495.7 370.3h.01M491.9 370.3h.01M501.4 377.1h.01"/><path d="M490.9 376.8h.01M490.6 376.1h.01M490.1 380.6h.01M490.4 373.6h.01M481.3 389.7h.01M489.4 393.7h.01M483.5 382.1h.01M475.2 397.3h.01"/><path d="M500.5 352.0h.01M480.9 391.3h.01M489.4 396.9h.01M485.5 384.2h.01M494.6 359.9h.01M481.8 394.0h.01M491.5 382.9h.01M478.7 390.9h.01"/><path d="M479.8 397.9h.01M485.7 388.4h.01M489.5 377.1h.01M484.1 397.5h.01M479.5 380.4h.01M482.5 382.3h.01M466.7 403.7h.01M484.2 399.0h.01"/><path d="M484.6 383.6h.01M484.4 383.8h.01M481.4 386.1h.01M481.3 382.4h.01M471.0 391.8h.01M500.6 369.6h.01M482.4 396.9h.01M481.2 384.4h.01"/><path d="M505.2 366.8h.01M484.6 382.2h.01M470.5 405.1h.01M490.7 379.9h.01M477.2 380.7h.01M477.3 393.0h.01M495.1 377.4h.01M494.0 379.4h.01"/><path d="M481.4 391.7h.01M489.0 383.1h.01M482.7 395.1h.01M492.3 378.2h.01M478.0 383.6h.01M497.8 368.6h.01M481.8 382.6h.01M488.1 383.2h.01"/><path d="M492.8 378.3h.01M483.6 381.6h.01M481.8 391.0h.01M504.8 364.5h.01M479.7 395.5h.01M473.5 392.9h.01M481.3 392.5h.01M477.7 378.5h.01"/><path d="M494.0 374.2h.01M482.5 391.1h.01M474.7 406.3h.01M481.3 392.8h.01M485.9 378.0h.01M496.3 379.3h.01M487.0 373.2h.01M500.1 370.7h.01"/><path d="M486.9 360.5h.01M479.3 401.4h.01M473.0 390.0h.01M479.7 390.5h.01M472.6 406.6h.01M494.0 384.1h.01M472.3 393.1h.01M486.4 376.8h.01"/><path d="M482.8 392.4h.01M484.7 382.0h.01M462.9 397.4h.01M471.6 384.3h.01M478.1 394.5h.01M480.1 396.4h.01M493.0 372.5h.01M473.7 395.1h.01"/><path d="M476.0 396.0h.01M483.7 381.6h.01M478.6 389.6h.01M482.6 387.6h.01M483.6 377.7h.01M472.5 395.7h.01M472.2 401.5h.01M484.3 378.1h.01"/><path d="M484.9 384.8h.01M482.0 384.4h.01M479.8 391.5h.01M488.3 379.5h.01M492.6 382.2h.01M481.0 392.4h.01M483.5 389.1h.01M482.1 387.2h.01"/><path d="M491.2 374.9h.01M497.3 370.3h.01M483.4 382.6h.01M481.6 393.0h.01M489.8 377.9h.01M495.0 375.8h.01M484.9 376.6h.01M487.0 382.7h.01"/><path d="M499.9 357.4h.01M484.0 396.1h.01M485.0 388.8h.01M472.6 399.9h.01M486.2 385.6h.01M498.3 363.3h.01M486.1 375.2h.01M498.8 368.1h.01"/><path d="M480.5 393.3h.01M483.1 386.2h.01M497.4 361.1h.01M491.5 379.3h.01M472.4 399.7h.01"/></g>
<g stroke="#000" stroke-opacity="0.05" stroke-width="0.8" stroke-linecap="square" fill="none"><path d="M478.9 376.4h.01M509.3 357.0h.01M496.1 355.4h.01M511.4 364.3h.01M478.1 347.1h.01M505.1 362.5h.01M475.0 358.7h.01M481.2 353.4h.01"/><path d="M469.5 381.2h.01M482.3 376.5h.01M495.6 364.8h.01M478.3 368.3h.01M498.5 360.3h.01M475.1 407.2h.01M482.9 404.5h.01M474.6 374.4h.01"/><path d="M476.7 371.3h.01M485.6 367.7h.01M494.8 383.4h.01M487.9 358.2h.01M467.2 387.1h.01M495.6 363.1h.01M475.9 371.1h.01M473.3 368.8h.01"/><path d="M485.1 365.1h.01M507.5 362.0h.01M498.1 368.1h.01M476.2 364.5h.01M501.9 349.9h.01M488.5 353.3h.01M470.1 360.8h.01M482.1 378.5h.01"/><path d="M484.8 385.9h.01M479.4 349.1h.01M490.3 369.5h.01M481.4 383.4h.01M476.6 381.5h.01M482.9 375.7h.01M510.7 364.8h.01M456.2 387.9h.01"/><path d="M486.3 369.6h.01M481.9 383.8h.01M504.8 372.2h.01M475.6 371.6h.01M469.4 389.5h.01M504.2 369.3h.01M491.5 364.2h.01M487.9 379.0h.01"/><path d="M507.0 364.0h.01M497.2 361.8h.01M498.6 366.3h.01M482.4 358.3h.01M478.9 361.7h.01M474.3 387.9h.01M469.8 374.8h.01M468.0 361.9h.01"/><path d="M488.7 362.2h.01M501.3 381.1h.01M488.3 354.8h.01M481.0 372.8h.01M482.4 384.4h.01M479.9 395.6h.01M488.7 356.5h.01M493.5 386.0h.01"/><path d="M496.6 375.2h.01M489.4 363.4h.01M481.4 365.3h.01M499.1 374.6h.01M497.1 369.0h.01M478.8 362.6h.01M482.5 356.2h.01M506.9 352.0h.01"/><path d="M484.7 350.8h.01M470.9 396.9h.01M487.3 380.7h.01M484.6 368.8h.01M504.3 358.4h.01M469.1 380.5h.01M503.1 378.2h.01M469.0 378.8h.01"/><path d="M482.1 381.0h.01M499.4 366.5h.01M489.4 350.9h.01M485.0 373.9h.01M512.6 387.3h.01M481.4 389.0h.01M485.5 364.7h.01M468.3 369.1h.01"/><path d="M505.9 363.3h.01M478.2 368.3h.01M483.7 379.9h.01M469.1 395.8h.01M489.3 345.4h.01M483.6 363.9h.01M469.6 380.3h.01M475.9 376.0h.01"/><path d="M488.7 385.6h.01M514.0 353.1h.01M490.7 351.1h.01M476.3 362.5h.01M483.9 361.0h.01M507.6 360.4h.01M496.3 358.8h.01M491.1 368.7h.01"/><path d="M494.4 372.0h.01M499.2 346.6h.01M491.0 364.7h.01M486.1 376.7h.01M453.1 392.0h.01M472.6 387.0h.01M465.7 382.4h.01M496.6 361.8h.01"/><path d="M504.8 349.9h.01M483.3 390.2h.01M488.4 359.9h.01M463.1 381.9h.01M464.7 380.8h.01M465.2 390.8h.01M481.4 360.0h.01M471.4 386.2h.01"/><path d="M485.0 371.1h.01M491.9 368.9h.01M487.3 353.4h.01M504.3 372.6h.01M488.8 400.8h.01M500.5 365.8h.01M483.6 369.2h.01M509.4 365.3h.01"/><path d="M487.9 375.6h.01M478.2 373.8h.01M503.4 354.6h.01M502.3 358.6h.01M495.5 376.6h.01M482.9 361.5h.01M511.9 350.4h.01M482.2 360.1h.01"/><path d="M487.2 385.2h.01M490.5 371.9h.01M480.5 369.7h.01M500.1 391.6h.01M499.0 350.9h.01M502.3 347.8h.01M489.4 383.8h.01M494.9 384.3h.01"/><path d="M476.8 376.8h.01M482.9 365.9h.01M493.8 372.7h.01M489.2 392.7h.01M481.4 347.3h.01M508.6 359.0h.01M463.6 375.6h.01M496.7 398.5h.01"/><path d="M455.4 385.7h.01M464.6 380.6h.01M483.6 363.3h.01M512.8 384.1h.01M489.8 371.1h.01M480.8 388.0h.01M469.7 367.9h.01M509.0 349.1h.01"/><path d="M487.1 366.5h.01M514.0 355.0h.01M474.7 352.9h.01M482.2 359.3h.01M466.3 406.6h.01M510.2 366.6h.01M482.1 381.4h.01M496.3 382.1h.01"/><path d="M493.4 374.1h.01M455.0 371.7h.01M496.5 392.5h.01M496.5 379.3h.01M491.4 364.8h.01M512.5 364.2h.01M501.2 373.4h.01M489.6 370.9h.01"/><path d="M504.7 365.5h.01M488.5 367.4h.01M463.6 368.4h.01M505.1 357.4h.01M482.7 348.1h.01M487.0 352.9h.01M464.9 386.0h.01M485.2 357.7h.01"/><path d="M493.1 357.2h.01M481.6 364.8h.01M489.9 356.7h.01M485.3 357.6h.01M481.8 388.9h.01M460.1 368.6h.01M485.5 358.8h.01M488.0 370.2h.01"/><path d="M497.7 375.0h.01M487.6 355.4h.01M481.4 385.4h.01M507.1 365.6h.01M492.3 375.2h.01M498.6 358.1h.01M479.9 391.7h.01M499.3 350.7h.01"/><path d="M473.8 376.5h.01M504.9 368.5h.01M483.7 369.6h.01M497.0 371.2h.01M507.6 351.6h.01M469.4 386.3h.01M504.9 350.2h.01M503.1 349.8h.01"/><path d="M482.4 361.6h.01M477.6 392.1h.01M504.3 358.1h.01M471.6 367.4h.01M474.6 386.7h.01M498.6 353.9h.01M477.1 376.8h.01M497.6 371.4h.01"/></g>
<ellipse cx="484.5" cy="388.5" rx="7" ry="3.5" transform="rotate(-53 484.5 388.5)" fill="#000" fill-opacity="0.14" filter="url(#bl20)"/>
<rect x="444.3" y="344.6" width="71.49999999999994" height="67.69999999999999" fill="none" stroke="#888" stroke-width="0.8"/>
<line x1="276.6" y1="288.2" x2="276.6" y2="275.4" stroke="#333" stroke-width="0.7" />
<polygon points="276.60,272.90 275.46,275.56 277.74,275.56" fill="#111" stroke="none" stroke-width="0.8" />
<line x1="276.25" y1="288.2" x2="285.0" y2="288.2" stroke="#333" stroke-width="0.7" />
<polygon points="287.50,288.20 284.84,287.06 284.84,289.34" fill="#111" stroke="none" stroke-width="0.8" />
<text transform="translate(272.3,284.3) rotate(-90)" font-size="5.3" text-anchor="middle" fill="#222">SSC</text>
<text x="276.20000000000005" y="296.4" font-size="5.3" text-anchor="start" font-weight="normal" fill="#222" >FSC</text>
<line x1="441.2" y1="236.6" x2="441.2" y2="223.4" stroke="#333" stroke-width="0.7" />
<polygon points="441.20,220.90 440.06,223.56 442.34,223.56" fill="#111" stroke="none" stroke-width="0.8" />
<line x1="440.84999999999997" y1="236.6" x2="449.2" y2="236.6" stroke="#333" stroke-width="0.7" />
<polygon points="451.70,236.60 449.04,235.46 449.04,237.74" fill="#111" stroke="none" stroke-width="0.8" />
<text transform="translate(439.1,232.4) rotate(-90)" font-size="5.3" text-anchor="middle" fill="#222">SSC</text>
<text x="440.8" y="244.9" font-size="5.3" text-anchor="start" font-weight="normal" fill="#222" >FSC</text>
<line x1="440.9" y1="326.1" x2="440.9" y2="313.4" stroke="#333" stroke-width="0.7" />
<polygon points="440.90,310.90 439.76,313.56 442.04,313.56" fill="#111" stroke="none" stroke-width="0.8" />
<line x1="440.54999999999995" y1="326.1" x2="450.5" y2="326.1" stroke="#333" stroke-width="0.7" />
<polygon points="453.00,326.10 450.34,324.96 450.34,327.24" fill="#111" stroke="none" stroke-width="0.8" />
<text transform="translate(438.7,322.1) rotate(-90)" font-size="5.3" text-anchor="middle" fill="#222">SSC</text>
<text x="440.5" y="333.8" font-size="5.3" text-anchor="start" font-weight="normal" fill="#222" >FSC</text>
<line x1="440.9" y1="417.0" x2="440.9" y2="403.9" stroke="#333" stroke-width="0.7" />
<polygon points="440.90,401.40 439.76,404.06 442.04,404.06" fill="#111" stroke="none" stroke-width="0.8" />
<line x1="440.54999999999995" y1="417.0" x2="448.7" y2="417.0" stroke="#333" stroke-width="0.7" />
<polygon points="451.20,417.00 448.54,415.86 448.54,418.14" fill="#111" stroke="none" stroke-width="0.8" />
<text transform="translate(438.8,412.7) rotate(-90)" font-size="5.3" text-anchor="middle" fill="#222">SSC</text>
<text x="440.5" y="424.3" font-size="5.3" text-anchor="start" font-weight="normal" fill="#222" >FSC</text>
<line x1="353.6" y1="238.7" x2="429.4" y2="205.8" stroke="#222" stroke-width="0.7" />
<polygon points="429.40,205.80 426.67,208.55 425.52,205.91" fill="#222" stroke="none" stroke-width="0.8" />
<line x1="353.6" y1="238.7" x2="427.8" y2="268.7" stroke="#222" stroke-width="0.7" />
<polygon points="427.80,268.70 423.92,268.69 425.00,266.02" fill="#222" stroke="none" stroke-width="0.8" /></svg></body></html>
